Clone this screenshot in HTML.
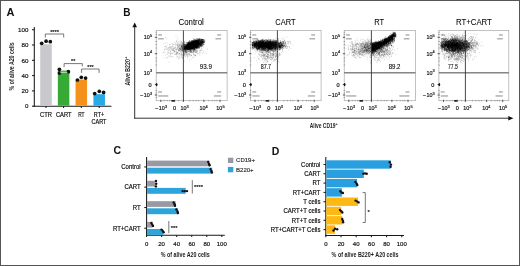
<!DOCTYPE html>
<html><head><meta charset="utf-8"><style>
html,body{margin:0;padding:0;background:#fff;overflow:hidden;}
svg{display:block;will-change:transform;}
text{font-family:"Liberation Sans",sans-serif;}
</style></head><body>
<svg width="520" height="266" viewBox="0 0 520 266">
<rect x="0" y="0" width="520" height="266" fill="#fff"/>
<text x="6.60" y="15.50" font-size="11" text-anchor="start" font-weight="bold" fill="#111">A</text>
<line x1="34.30" y1="27.00" x2="34.30" y2="106.70" stroke="#181818" stroke-width="1.05"/>
<line x1="33.80" y1="106.20" x2="111.40" y2="106.20" stroke="#181818" stroke-width="1.05"/>
<line x1="32.00" y1="106.20" x2="34.30" y2="106.20" stroke="#181818" stroke-width="1.05"/>
<text x="28.40" y="108.40" font-size="6.2" text-anchor="end" stroke="#222" stroke-width="0.18">0</text>
<line x1="32.00" y1="90.90" x2="34.30" y2="90.90" stroke="#181818" stroke-width="1.05"/>
<text x="28.40" y="93.10" font-size="6.2" text-anchor="end" stroke="#222" stroke-width="0.18">20</text>
<line x1="32.00" y1="75.60" x2="34.30" y2="75.60" stroke="#181818" stroke-width="1.05"/>
<text x="28.40" y="77.80" font-size="6.2" text-anchor="end" stroke="#222" stroke-width="0.18">40</text>
<line x1="32.00" y1="60.30" x2="34.30" y2="60.30" stroke="#181818" stroke-width="1.05"/>
<text x="28.40" y="62.50" font-size="6.2" text-anchor="end" stroke="#222" stroke-width="0.18">60</text>
<line x1="32.00" y1="45.00" x2="34.30" y2="45.00" stroke="#181818" stroke-width="1.05"/>
<text x="28.40" y="47.20" font-size="6.2" text-anchor="end" stroke="#222" stroke-width="0.18">80</text>
<line x1="32.00" y1="29.70" x2="34.30" y2="29.70" stroke="#181818" stroke-width="1.05"/>
<text x="28.40" y="31.90" font-size="6.2" text-anchor="end" stroke="#222" stroke-width="0.18">100</text>
<text transform="translate(14.0,66.4) rotate(-90)" font-size="6.6" font-weight="bold" text-anchor="middle" fill="#222" textLength="48" lengthAdjust="spacingAndGlyphs">% of alive A20 cells</text>
<rect x="40.25" y="44.30" width="11.50" height="61.40" fill="#c8c8cd"/>
<line x1="46.00" y1="106.20" x2="46.00" y2="108.00" stroke="#181818" stroke-width="1.05"/>
<rect x="57.85" y="70.60" width="11.50" height="35.10" fill="#36aa35"/>
<line x1="63.60" y1="106.20" x2="63.60" y2="108.00" stroke="#181818" stroke-width="1.05"/>
<rect x="75.55" y="79.60" width="11.50" height="26.10" fill="#f5911a"/>
<line x1="81.30" y1="106.20" x2="81.30" y2="108.00" stroke="#181818" stroke-width="1.05"/>
<rect x="93.45" y="94.20" width="11.50" height="11.50" fill="#28aae6"/>
<line x1="99.20" y1="106.20" x2="99.20" y2="108.00" stroke="#181818" stroke-width="1.05"/>
<text x="46.00" y="117.10" font-size="6.6" text-anchor="middle" textLength="12.0" lengthAdjust="spacingAndGlyphs" stroke="#222" stroke-width="0.18">CTR</text>
<text x="63.75" y="117.10" font-size="6.6" text-anchor="middle" textLength="15.6" lengthAdjust="spacingAndGlyphs" stroke="#222" stroke-width="0.18">CART</text>
<text x="81.30" y="117.10" font-size="6.6" text-anchor="middle" textLength="6.3" lengthAdjust="spacingAndGlyphs" stroke="#222" stroke-width="0.18">RT</text>
<text x="99.00" y="117.10" font-size="6.6" text-anchor="middle" textLength="10.3" lengthAdjust="spacingAndGlyphs" stroke="#222" stroke-width="0.18">RT+</text>
<text x="99.00" y="124.30" font-size="6.6" text-anchor="middle" textLength="15.0" lengthAdjust="spacingAndGlyphs" stroke="#222" stroke-width="0.18">CART</text>
<circle cx="41.70" cy="43.30" r="1.85" fill="#111"/>
<circle cx="46.10" cy="41.20" r="1.85" fill="#111"/>
<circle cx="50.30" cy="41.70" r="1.85" fill="#111"/>
<circle cx="59.40" cy="69.30" r="1.85" fill="#111"/>
<circle cx="59.40" cy="73.10" r="1.85" fill="#111"/>
<circle cx="68.40" cy="71.70" r="1.85" fill="#111"/>
<circle cx="77.40" cy="80.00" r="1.85" fill="#111"/>
<circle cx="81.30" cy="77.30" r="1.85" fill="#111"/>
<circle cx="85.60" cy="78.10" r="1.85" fill="#111"/>
<circle cx="94.70" cy="93.60" r="1.85" fill="#111"/>
<circle cx="99.30" cy="91.30" r="1.85" fill="#111"/>
<circle cx="103.60" cy="92.40" r="1.85" fill="#111"/>
<line x1="60.20" y1="72.30" x2="67.40" y2="72.30" stroke="#e8f5e0" stroke-width="0.8"/>
<path d="M45.30,37.50 V34.00 H63.70 V37.50" fill="none" stroke="#555" stroke-width="0.8"/>
<text x="54.60" y="33.80" font-size="5.7" text-anchor="middle" stroke="#222" stroke-width="0.18">****</text>
<path d="M64.10,67.10 V63.60 H82.30 V66.40" fill="none" stroke="#555" stroke-width="0.8"/>
<text x="73.20" y="63.40" font-size="5.5" text-anchor="middle" stroke="#222" stroke-width="0.18">**</text>
<path d="M81.60,72.90 V69.00 H99.10 V72.90" fill="none" stroke="#555" stroke-width="0.8"/>
<text x="90.50" y="68.70" font-size="5.5" text-anchor="middle" stroke="#222" stroke-width="0.18">***</text>
<text x="123.30" y="15.50" font-size="10" text-anchor="start" font-weight="bold" fill="#111">B</text>
<line x1="134.70" y1="26.50" x2="134.70" y2="118.70" stroke="#333" stroke-width="1"/>
<path d="M132.4,27.2 L134.7,22.5 L137.0,27.2 Z" fill="#111"/>
<line x1="134.20" y1="118.20" x2="509.00" y2="118.20" stroke="#333" stroke-width="1"/>
<path d="M508.3,116.0 L513.4,118.2 L508.3,120.4 Z" fill="#111"/>
<text transform="translate(130.3,85.6) rotate(-90)" font-size="7.2" font-weight="bold" fill="#222" textLength="26.4" lengthAdjust="spacingAndGlyphs">Alive B220</text>
<text transform="translate(130.3,85.6) rotate(-90)" x="26.6" y="-3.0" font-size="4" font-weight="bold" fill="#222">+</text>
<text x="309.8" y="127.8" font-size="7.2" font-weight="bold" fill="#222" textLength="25.6" lengthAdjust="spacingAndGlyphs">Alive CD19</text>
<text x="335.5" y="125.0" font-size="4" font-weight="bold" fill="#222">+</text>
<rect x="156.20" y="30.40" width="70.90" height="70.30" fill="none" stroke="#a8a8a8" stroke-width="0.7"/>
<text x="191.20" y="25.20" font-size="8.2" text-anchor="middle" textLength="25.3" lengthAdjust="spacingAndGlyphs" stroke="#222" stroke-width="0.05">Control</text>
<text x="143.80" y="39.10" font-size="5.9" text-anchor="start" fill="#111" textLength="6.0" lengthAdjust="spacingAndGlyphs" stroke="#111" stroke-width="0.18">10</text>
<text x="149.90" y="36.50" font-size="3.9" text-anchor="start" stroke="#222" stroke-width="0.18">5</text>
<text x="143.80" y="55.90" font-size="5.9" text-anchor="start" fill="#111" textLength="6.0" lengthAdjust="spacingAndGlyphs" stroke="#111" stroke-width="0.18">10</text>
<text x="149.90" y="53.30" font-size="3.9" text-anchor="start" stroke="#222" stroke-width="0.18">4</text>
<text x="143.80" y="74.80" font-size="5.9" text-anchor="start" fill="#111" textLength="6.0" lengthAdjust="spacingAndGlyphs" stroke="#111" stroke-width="0.18">10</text>
<text x="149.90" y="72.20" font-size="3.9" text-anchor="start" stroke="#222" stroke-width="0.18">3</text>
<text x="151.60" y="86.90" font-size="5.6" text-anchor="end" stroke="#222" stroke-width="0.18">0</text>
<text x="143.40" y="97.10" font-size="5.9" text-anchor="end" stroke="#222" stroke-width="0.18">−</text>
<text x="143.80" y="97.10" font-size="5.9" text-anchor="start" fill="#111" textLength="6.0" lengthAdjust="spacingAndGlyphs" stroke="#111" stroke-width="0.18">10</text>
<text x="149.90" y="94.50" font-size="3.9" text-anchor="start" stroke="#222" stroke-width="0.18">3</text>
<text x="158.40" y="110.20" font-size="5.9" text-anchor="end" stroke="#222" stroke-width="0.18">−</text>
<text x="158.80" y="110.20" font-size="5.9" text-anchor="start" fill="#111" textLength="6.0" lengthAdjust="spacingAndGlyphs" stroke="#111" stroke-width="0.18">10</text>
<text x="164.90" y="107.60" font-size="3.9" text-anchor="start" stroke="#222" stroke-width="0.18">3</text>
<text x="174.50" y="110.20" font-size="5.6" text-anchor="middle" stroke="#222" stroke-width="0.18">0</text>
<text x="180.50" y="110.20" font-size="5.9" text-anchor="start" fill="#111" textLength="6.0" lengthAdjust="spacingAndGlyphs" stroke="#111" stroke-width="0.18">10</text>
<text x="186.60" y="107.60" font-size="3.9" text-anchor="start" stroke="#222" stroke-width="0.18">3</text>
<text x="199.50" y="110.20" font-size="5.9" text-anchor="start" fill="#111" textLength="6.0" lengthAdjust="spacingAndGlyphs" stroke="#111" stroke-width="0.18">10</text>
<text x="205.60" y="107.60" font-size="3.9" text-anchor="start" stroke="#222" stroke-width="0.18">4</text>
<text x="216.30" y="110.20" font-size="5.9" text-anchor="start" fill="#111" textLength="6.0" lengthAdjust="spacingAndGlyphs" stroke="#111" stroke-width="0.18">10</text>
<text x="222.40" y="107.60" font-size="3.9" text-anchor="start" stroke="#222" stroke-width="0.18">5</text>
<line x1="154.80" y1="37.30" x2="157.20" y2="37.30" stroke="#333" stroke-width="0.8"/>
<line x1="154.80" y1="53.70" x2="157.20" y2="53.70" stroke="#333" stroke-width="0.8"/>
<line x1="154.80" y1="84.50" x2="157.20" y2="84.50" stroke="#333" stroke-width="0.8"/>
<line x1="154.80" y1="95.00" x2="157.20" y2="95.00" stroke="#333" stroke-width="0.8"/>
<line x1="155.60" y1="32.30" x2="157.10" y2="32.30" stroke="#666" stroke-width="0.5"/>
<line x1="155.60" y1="34.50" x2="157.10" y2="34.50" stroke="#666" stroke-width="0.5"/>
<line x1="155.60" y1="41.50" x2="157.10" y2="41.50" stroke="#666" stroke-width="0.5"/>
<line x1="155.60" y1="44.50" x2="157.10" y2="44.50" stroke="#666" stroke-width="0.5"/>
<line x1="155.60" y1="48.00" x2="157.10" y2="48.00" stroke="#666" stroke-width="0.5"/>
<line x1="155.60" y1="58.00" x2="157.10" y2="58.00" stroke="#666" stroke-width="0.5"/>
<line x1="155.60" y1="61.00" x2="157.10" y2="61.00" stroke="#666" stroke-width="0.5"/>
<line x1="155.60" y1="65.00" x2="157.10" y2="65.00" stroke="#666" stroke-width="0.5"/>
<line x1="155.60" y1="90.50" x2="157.10" y2="90.50" stroke="#666" stroke-width="0.5"/>
<line x1="155.60" y1="93.00" x2="157.10" y2="93.00" stroke="#666" stroke-width="0.5"/>
<line x1="155.60" y1="97.50" x2="157.10" y2="97.50" stroke="#666" stroke-width="0.5"/>
<line x1="160.80" y1="99.70" x2="160.80" y2="102.00" stroke="#333" stroke-width="0.8"/>
<line x1="174.60" y1="99.70" x2="174.60" y2="102.00" stroke="#333" stroke-width="0.8"/>
<line x1="183.40" y1="99.70" x2="183.40" y2="102.00" stroke="#333" stroke-width="0.8"/>
<line x1="203.90" y1="99.70" x2="203.90" y2="102.00" stroke="#333" stroke-width="0.8"/>
<line x1="220.00" y1="99.70" x2="220.00" y2="102.00" stroke="#333" stroke-width="0.8"/>
<line x1="164.20" y1="99.90" x2="164.20" y2="101.30" stroke="#666" stroke-width="0.5"/>
<line x1="167.20" y1="99.90" x2="167.20" y2="101.30" stroke="#666" stroke-width="0.5"/>
<line x1="169.70" y1="99.90" x2="169.70" y2="101.30" stroke="#666" stroke-width="0.5"/>
<line x1="178.70" y1="99.90" x2="178.70" y2="101.30" stroke="#666" stroke-width="0.5"/>
<line x1="189.70" y1="99.90" x2="189.70" y2="101.30" stroke="#666" stroke-width="0.5"/>
<line x1="193.20" y1="99.90" x2="193.20" y2="101.30" stroke="#666" stroke-width="0.5"/>
<line x1="196.20" y1="99.90" x2="196.20" y2="101.30" stroke="#666" stroke-width="0.5"/>
<line x1="198.70" y1="99.90" x2="198.70" y2="101.30" stroke="#666" stroke-width="0.5"/>
<line x1="208.70" y1="99.90" x2="208.70" y2="101.30" stroke="#666" stroke-width="0.5"/>
<line x1="212.20" y1="99.90" x2="212.20" y2="101.30" stroke="#666" stroke-width="0.5"/>
<line x1="214.70" y1="99.90" x2="214.70" y2="101.30" stroke="#666" stroke-width="0.5"/>
<line x1="216.70" y1="99.90" x2="216.70" y2="101.30" stroke="#666" stroke-width="0.5"/>
<ellipse cx="156.60" cy="84.6" rx="0.9" ry="1.6" fill="#111"/>
<ellipse cx="172.90" cy="100.90" rx="1.8" ry="0.8" fill="#111"/>
<rect x="158.10" y="34.20" width="3.87" height="1.5" fill="#666" fill-opacity="0.5"/>
<rect x="158.10" y="38.00" width="5.64" height="1.5" fill="#666" fill-opacity="0.5"/>
<rect x="217.23" y="34.20" width="3.87" height="1.5" fill="#666" fill-opacity="0.5"/>
<rect x="215.46" y="38.00" width="5.64" height="1.5" fill="#666" fill-opacity="0.5"/>
<rect x="158.10" y="91.20" width="3.87" height="1.5" fill="#666" fill-opacity="0.5"/>
<rect x="158.10" y="95.20" width="10.16" height="1.5" fill="#666" fill-opacity="0.5"/>
<rect x="217.23" y="91.20" width="3.87" height="1.5" fill="#666" fill-opacity="0.5"/>
<rect x="213.84" y="95.20" width="7.26" height="1.5" fill="#666" fill-opacity="0.5"/>
<text x="199.80" y="68.70" font-size="6.3" text-anchor="start" textLength="12.2" lengthAdjust="spacingAndGlyphs" stroke="#222" stroke-width="0.1">93.9</text>
<rect x="250.40" y="30.40" width="70.70" height="70.30" fill="none" stroke="#a8a8a8" stroke-width="0.7"/>
<text x="285.40" y="25.20" font-size="8.2" text-anchor="middle" textLength="20.2" lengthAdjust="spacingAndGlyphs" stroke="#222" stroke-width="0.05">CART</text>
<text x="238.00" y="39.10" font-size="5.9" text-anchor="start" fill="#111" textLength="6.0" lengthAdjust="spacingAndGlyphs" stroke="#111" stroke-width="0.18">10</text>
<text x="244.10" y="36.50" font-size="3.9" text-anchor="start" stroke="#222" stroke-width="0.18">5</text>
<text x="238.00" y="55.90" font-size="5.9" text-anchor="start" fill="#111" textLength="6.0" lengthAdjust="spacingAndGlyphs" stroke="#111" stroke-width="0.18">10</text>
<text x="244.10" y="53.30" font-size="3.9" text-anchor="start" stroke="#222" stroke-width="0.18">4</text>
<text x="238.00" y="74.80" font-size="5.9" text-anchor="start" fill="#111" textLength="6.0" lengthAdjust="spacingAndGlyphs" stroke="#111" stroke-width="0.18">10</text>
<text x="244.10" y="72.20" font-size="3.9" text-anchor="start" stroke="#222" stroke-width="0.18">3</text>
<text x="245.80" y="86.90" font-size="5.6" text-anchor="end" stroke="#222" stroke-width="0.18">0</text>
<text x="237.60" y="97.10" font-size="5.9" text-anchor="end" stroke="#222" stroke-width="0.18">−</text>
<text x="238.00" y="97.10" font-size="5.9" text-anchor="start" fill="#111" textLength="6.0" lengthAdjust="spacingAndGlyphs" stroke="#111" stroke-width="0.18">10</text>
<text x="244.10" y="94.50" font-size="3.9" text-anchor="start" stroke="#222" stroke-width="0.18">3</text>
<text x="252.60" y="110.20" font-size="5.9" text-anchor="end" stroke="#222" stroke-width="0.18">−</text>
<text x="253.00" y="110.20" font-size="5.9" text-anchor="start" fill="#111" textLength="6.0" lengthAdjust="spacingAndGlyphs" stroke="#111" stroke-width="0.18">10</text>
<text x="259.10" y="107.60" font-size="3.9" text-anchor="start" stroke="#222" stroke-width="0.18">3</text>
<text x="268.70" y="110.20" font-size="5.6" text-anchor="middle" stroke="#222" stroke-width="0.18">0</text>
<text x="274.70" y="110.20" font-size="5.9" text-anchor="start" fill="#111" textLength="6.0" lengthAdjust="spacingAndGlyphs" stroke="#111" stroke-width="0.18">10</text>
<text x="280.80" y="107.60" font-size="3.9" text-anchor="start" stroke="#222" stroke-width="0.18">3</text>
<text x="293.70" y="110.20" font-size="5.9" text-anchor="start" fill="#111" textLength="6.0" lengthAdjust="spacingAndGlyphs" stroke="#111" stroke-width="0.18">10</text>
<text x="299.80" y="107.60" font-size="3.9" text-anchor="start" stroke="#222" stroke-width="0.18">4</text>
<text x="310.50" y="110.20" font-size="5.9" text-anchor="start" fill="#111" textLength="6.0" lengthAdjust="spacingAndGlyphs" stroke="#111" stroke-width="0.18">10</text>
<text x="316.60" y="107.60" font-size="3.9" text-anchor="start" stroke="#222" stroke-width="0.18">5</text>
<line x1="249.00" y1="37.30" x2="251.40" y2="37.30" stroke="#333" stroke-width="0.8"/>
<line x1="249.00" y1="53.70" x2="251.40" y2="53.70" stroke="#333" stroke-width="0.8"/>
<line x1="249.00" y1="84.50" x2="251.40" y2="84.50" stroke="#333" stroke-width="0.8"/>
<line x1="249.00" y1="95.00" x2="251.40" y2="95.00" stroke="#333" stroke-width="0.8"/>
<line x1="249.80" y1="32.30" x2="251.30" y2="32.30" stroke="#666" stroke-width="0.5"/>
<line x1="249.80" y1="34.50" x2="251.30" y2="34.50" stroke="#666" stroke-width="0.5"/>
<line x1="249.80" y1="41.50" x2="251.30" y2="41.50" stroke="#666" stroke-width="0.5"/>
<line x1="249.80" y1="44.50" x2="251.30" y2="44.50" stroke="#666" stroke-width="0.5"/>
<line x1="249.80" y1="48.00" x2="251.30" y2="48.00" stroke="#666" stroke-width="0.5"/>
<line x1="249.80" y1="58.00" x2="251.30" y2="58.00" stroke="#666" stroke-width="0.5"/>
<line x1="249.80" y1="61.00" x2="251.30" y2="61.00" stroke="#666" stroke-width="0.5"/>
<line x1="249.80" y1="65.00" x2="251.30" y2="65.00" stroke="#666" stroke-width="0.5"/>
<line x1="249.80" y1="90.50" x2="251.30" y2="90.50" stroke="#666" stroke-width="0.5"/>
<line x1="249.80" y1="93.00" x2="251.30" y2="93.00" stroke="#666" stroke-width="0.5"/>
<line x1="249.80" y1="97.50" x2="251.30" y2="97.50" stroke="#666" stroke-width="0.5"/>
<line x1="255.00" y1="99.70" x2="255.00" y2="102.00" stroke="#333" stroke-width="0.8"/>
<line x1="268.80" y1="99.70" x2="268.80" y2="102.00" stroke="#333" stroke-width="0.8"/>
<line x1="277.40" y1="99.70" x2="277.40" y2="102.00" stroke="#333" stroke-width="0.8"/>
<line x1="298.10" y1="99.70" x2="298.10" y2="102.00" stroke="#333" stroke-width="0.8"/>
<line x1="314.20" y1="99.70" x2="314.20" y2="102.00" stroke="#333" stroke-width="0.8"/>
<line x1="258.40" y1="99.90" x2="258.40" y2="101.30" stroke="#666" stroke-width="0.5"/>
<line x1="261.40" y1="99.90" x2="261.40" y2="101.30" stroke="#666" stroke-width="0.5"/>
<line x1="263.90" y1="99.90" x2="263.90" y2="101.30" stroke="#666" stroke-width="0.5"/>
<line x1="272.90" y1="99.90" x2="272.90" y2="101.30" stroke="#666" stroke-width="0.5"/>
<line x1="283.90" y1="99.90" x2="283.90" y2="101.30" stroke="#666" stroke-width="0.5"/>
<line x1="287.40" y1="99.90" x2="287.40" y2="101.30" stroke="#666" stroke-width="0.5"/>
<line x1="290.40" y1="99.90" x2="290.40" y2="101.30" stroke="#666" stroke-width="0.5"/>
<line x1="292.90" y1="99.90" x2="292.90" y2="101.30" stroke="#666" stroke-width="0.5"/>
<line x1="302.90" y1="99.90" x2="302.90" y2="101.30" stroke="#666" stroke-width="0.5"/>
<line x1="306.40" y1="99.90" x2="306.40" y2="101.30" stroke="#666" stroke-width="0.5"/>
<line x1="308.90" y1="99.90" x2="308.90" y2="101.30" stroke="#666" stroke-width="0.5"/>
<line x1="310.90" y1="99.90" x2="310.90" y2="101.30" stroke="#666" stroke-width="0.5"/>
<ellipse cx="250.80" cy="84.6" rx="0.9" ry="1.6" fill="#111"/>
<ellipse cx="267.10" cy="100.90" rx="1.8" ry="0.8" fill="#111"/>
<rect x="252.30" y="34.20" width="3.87" height="1.5" fill="#666" fill-opacity="0.5"/>
<rect x="252.30" y="38.00" width="5.64" height="1.5" fill="#666" fill-opacity="0.5"/>
<rect x="311.23" y="34.20" width="3.87" height="1.5" fill="#666" fill-opacity="0.5"/>
<rect x="309.46" y="38.00" width="5.64" height="1.5" fill="#666" fill-opacity="0.5"/>
<rect x="252.30" y="91.20" width="3.87" height="1.5" fill="#666" fill-opacity="0.5"/>
<rect x="252.30" y="95.20" width="7.26" height="1.5" fill="#666" fill-opacity="0.5"/>
<rect x="311.23" y="91.20" width="3.87" height="1.5" fill="#666" fill-opacity="0.5"/>
<rect x="307.84" y="95.20" width="7.26" height="1.5" fill="#666" fill-opacity="0.5"/>
<text x="260.70" y="68.70" font-size="6.3" text-anchor="start" textLength="10.4" lengthAdjust="spacingAndGlyphs" stroke="#222" stroke-width="0.1">87.7</text>
<rect x="344.20" y="30.40" width="71.20" height="70.30" fill="none" stroke="#a8a8a8" stroke-width="0.7"/>
<text x="379.20" y="25.20" font-size="8.2" text-anchor="middle" textLength="9.9" lengthAdjust="spacingAndGlyphs" stroke="#222" stroke-width="0.05">RT</text>
<text x="331.80" y="39.10" font-size="5.9" text-anchor="start" fill="#111" textLength="6.0" lengthAdjust="spacingAndGlyphs" stroke="#111" stroke-width="0.18">10</text>
<text x="337.90" y="36.50" font-size="3.9" text-anchor="start" stroke="#222" stroke-width="0.18">5</text>
<text x="331.80" y="55.90" font-size="5.9" text-anchor="start" fill="#111" textLength="6.0" lengthAdjust="spacingAndGlyphs" stroke="#111" stroke-width="0.18">10</text>
<text x="337.90" y="53.30" font-size="3.9" text-anchor="start" stroke="#222" stroke-width="0.18">4</text>
<text x="331.80" y="74.80" font-size="5.9" text-anchor="start" fill="#111" textLength="6.0" lengthAdjust="spacingAndGlyphs" stroke="#111" stroke-width="0.18">10</text>
<text x="337.90" y="72.20" font-size="3.9" text-anchor="start" stroke="#222" stroke-width="0.18">3</text>
<text x="339.60" y="86.90" font-size="5.6" text-anchor="end" stroke="#222" stroke-width="0.18">0</text>
<text x="331.40" y="97.10" font-size="5.9" text-anchor="end" stroke="#222" stroke-width="0.18">−</text>
<text x="331.80" y="97.10" font-size="5.9" text-anchor="start" fill="#111" textLength="6.0" lengthAdjust="spacingAndGlyphs" stroke="#111" stroke-width="0.18">10</text>
<text x="337.90" y="94.50" font-size="3.9" text-anchor="start" stroke="#222" stroke-width="0.18">3</text>
<text x="346.40" y="110.20" font-size="5.9" text-anchor="end" stroke="#222" stroke-width="0.18">−</text>
<text x="346.80" y="110.20" font-size="5.9" text-anchor="start" fill="#111" textLength="6.0" lengthAdjust="spacingAndGlyphs" stroke="#111" stroke-width="0.18">10</text>
<text x="352.90" y="107.60" font-size="3.9" text-anchor="start" stroke="#222" stroke-width="0.18">3</text>
<text x="362.50" y="110.20" font-size="5.6" text-anchor="middle" stroke="#222" stroke-width="0.18">0</text>
<text x="368.50" y="110.20" font-size="5.9" text-anchor="start" fill="#111" textLength="6.0" lengthAdjust="spacingAndGlyphs" stroke="#111" stroke-width="0.18">10</text>
<text x="374.60" y="107.60" font-size="3.9" text-anchor="start" stroke="#222" stroke-width="0.18">3</text>
<text x="387.50" y="110.20" font-size="5.9" text-anchor="start" fill="#111" textLength="6.0" lengthAdjust="spacingAndGlyphs" stroke="#111" stroke-width="0.18">10</text>
<text x="393.60" y="107.60" font-size="3.9" text-anchor="start" stroke="#222" stroke-width="0.18">4</text>
<text x="404.30" y="110.20" font-size="5.9" text-anchor="start" fill="#111" textLength="6.0" lengthAdjust="spacingAndGlyphs" stroke="#111" stroke-width="0.18">10</text>
<text x="410.40" y="107.60" font-size="3.9" text-anchor="start" stroke="#222" stroke-width="0.18">5</text>
<line x1="342.80" y1="37.30" x2="345.20" y2="37.30" stroke="#333" stroke-width="0.8"/>
<line x1="342.80" y1="53.70" x2="345.20" y2="53.70" stroke="#333" stroke-width="0.8"/>
<line x1="342.80" y1="84.50" x2="345.20" y2="84.50" stroke="#333" stroke-width="0.8"/>
<line x1="342.80" y1="95.00" x2="345.20" y2="95.00" stroke="#333" stroke-width="0.8"/>
<line x1="343.60" y1="32.30" x2="345.10" y2="32.30" stroke="#666" stroke-width="0.5"/>
<line x1="343.60" y1="34.50" x2="345.10" y2="34.50" stroke="#666" stroke-width="0.5"/>
<line x1="343.60" y1="41.50" x2="345.10" y2="41.50" stroke="#666" stroke-width="0.5"/>
<line x1="343.60" y1="44.50" x2="345.10" y2="44.50" stroke="#666" stroke-width="0.5"/>
<line x1="343.60" y1="48.00" x2="345.10" y2="48.00" stroke="#666" stroke-width="0.5"/>
<line x1="343.60" y1="58.00" x2="345.10" y2="58.00" stroke="#666" stroke-width="0.5"/>
<line x1="343.60" y1="61.00" x2="345.10" y2="61.00" stroke="#666" stroke-width="0.5"/>
<line x1="343.60" y1="65.00" x2="345.10" y2="65.00" stroke="#666" stroke-width="0.5"/>
<line x1="343.60" y1="90.50" x2="345.10" y2="90.50" stroke="#666" stroke-width="0.5"/>
<line x1="343.60" y1="93.00" x2="345.10" y2="93.00" stroke="#666" stroke-width="0.5"/>
<line x1="343.60" y1="97.50" x2="345.10" y2="97.50" stroke="#666" stroke-width="0.5"/>
<line x1="348.80" y1="99.70" x2="348.80" y2="102.00" stroke="#333" stroke-width="0.8"/>
<line x1="362.60" y1="99.70" x2="362.60" y2="102.00" stroke="#333" stroke-width="0.8"/>
<line x1="371.40" y1="99.70" x2="371.40" y2="102.00" stroke="#333" stroke-width="0.8"/>
<line x1="391.90" y1="99.70" x2="391.90" y2="102.00" stroke="#333" stroke-width="0.8"/>
<line x1="408.00" y1="99.70" x2="408.00" y2="102.00" stroke="#333" stroke-width="0.8"/>
<line x1="352.20" y1="99.90" x2="352.20" y2="101.30" stroke="#666" stroke-width="0.5"/>
<line x1="355.20" y1="99.90" x2="355.20" y2="101.30" stroke="#666" stroke-width="0.5"/>
<line x1="357.70" y1="99.90" x2="357.70" y2="101.30" stroke="#666" stroke-width="0.5"/>
<line x1="366.70" y1="99.90" x2="366.70" y2="101.30" stroke="#666" stroke-width="0.5"/>
<line x1="377.70" y1="99.90" x2="377.70" y2="101.30" stroke="#666" stroke-width="0.5"/>
<line x1="381.20" y1="99.90" x2="381.20" y2="101.30" stroke="#666" stroke-width="0.5"/>
<line x1="384.20" y1="99.90" x2="384.20" y2="101.30" stroke="#666" stroke-width="0.5"/>
<line x1="386.70" y1="99.90" x2="386.70" y2="101.30" stroke="#666" stroke-width="0.5"/>
<line x1="396.70" y1="99.90" x2="396.70" y2="101.30" stroke="#666" stroke-width="0.5"/>
<line x1="400.20" y1="99.90" x2="400.20" y2="101.30" stroke="#666" stroke-width="0.5"/>
<line x1="402.70" y1="99.90" x2="402.70" y2="101.30" stroke="#666" stroke-width="0.5"/>
<line x1="404.70" y1="99.90" x2="404.70" y2="101.30" stroke="#666" stroke-width="0.5"/>
<ellipse cx="344.60" cy="84.6" rx="0.9" ry="1.6" fill="#111"/>
<ellipse cx="360.90" cy="100.90" rx="1.8" ry="0.8" fill="#111"/>
<rect x="346.10" y="34.20" width="3.87" height="1.5" fill="#666" fill-opacity="0.5"/>
<rect x="346.10" y="38.00" width="5.64" height="1.5" fill="#666" fill-opacity="0.5"/>
<rect x="405.53" y="34.20" width="3.87" height="1.5" fill="#666" fill-opacity="0.5"/>
<rect x="403.76" y="38.00" width="5.64" height="1.5" fill="#666" fill-opacity="0.5"/>
<rect x="346.10" y="91.20" width="3.87" height="1.5" fill="#666" fill-opacity="0.5"/>
<rect x="346.10" y="95.20" width="10.16" height="1.5" fill="#666" fill-opacity="0.5"/>
<rect x="405.53" y="91.20" width="3.87" height="1.5" fill="#666" fill-opacity="0.5"/>
<rect x="399.24" y="95.20" width="10.16" height="1.5" fill="#666" fill-opacity="0.5"/>
<text x="388.70" y="68.70" font-size="6.3" text-anchor="start" textLength="11.8" lengthAdjust="spacingAndGlyphs" stroke="#222" stroke-width="0.1">89.2</text>
<rect x="438.90" y="30.40" width="69.90" height="70.30" fill="none" stroke="#a8a8a8" stroke-width="0.7"/>
<text x="473.90" y="25.20" font-size="8.2" text-anchor="middle" textLength="35.8" lengthAdjust="spacingAndGlyphs" stroke="#222" stroke-width="0.05">RT+CART</text>
<text x="426.50" y="39.10" font-size="5.9" text-anchor="start" fill="#111" textLength="6.0" lengthAdjust="spacingAndGlyphs" stroke="#111" stroke-width="0.18">10</text>
<text x="432.60" y="36.50" font-size="3.9" text-anchor="start" stroke="#222" stroke-width="0.18">5</text>
<text x="426.50" y="55.90" font-size="5.9" text-anchor="start" fill="#111" textLength="6.0" lengthAdjust="spacingAndGlyphs" stroke="#111" stroke-width="0.18">10</text>
<text x="432.60" y="53.30" font-size="3.9" text-anchor="start" stroke="#222" stroke-width="0.18">4</text>
<text x="426.50" y="74.80" font-size="5.9" text-anchor="start" fill="#111" textLength="6.0" lengthAdjust="spacingAndGlyphs" stroke="#111" stroke-width="0.18">10</text>
<text x="432.60" y="72.20" font-size="3.9" text-anchor="start" stroke="#222" stroke-width="0.18">3</text>
<text x="434.30" y="86.90" font-size="5.6" text-anchor="end" stroke="#222" stroke-width="0.18">0</text>
<text x="426.10" y="97.10" font-size="5.9" text-anchor="end" stroke="#222" stroke-width="0.18">−</text>
<text x="426.50" y="97.10" font-size="5.9" text-anchor="start" fill="#111" textLength="6.0" lengthAdjust="spacingAndGlyphs" stroke="#111" stroke-width="0.18">10</text>
<text x="432.60" y="94.50" font-size="3.9" text-anchor="start" stroke="#222" stroke-width="0.18">3</text>
<text x="441.10" y="110.20" font-size="5.9" text-anchor="end" stroke="#222" stroke-width="0.18">−</text>
<text x="441.50" y="110.20" font-size="5.9" text-anchor="start" fill="#111" textLength="6.0" lengthAdjust="spacingAndGlyphs" stroke="#111" stroke-width="0.18">10</text>
<text x="447.60" y="107.60" font-size="3.9" text-anchor="start" stroke="#222" stroke-width="0.18">3</text>
<text x="457.20" y="110.20" font-size="5.6" text-anchor="middle" stroke="#222" stroke-width="0.18">0</text>
<text x="463.20" y="110.20" font-size="5.9" text-anchor="start" fill="#111" textLength="6.0" lengthAdjust="spacingAndGlyphs" stroke="#111" stroke-width="0.18">10</text>
<text x="469.30" y="107.60" font-size="3.9" text-anchor="start" stroke="#222" stroke-width="0.18">3</text>
<text x="482.20" y="110.20" font-size="5.9" text-anchor="start" fill="#111" textLength="6.0" lengthAdjust="spacingAndGlyphs" stroke="#111" stroke-width="0.18">10</text>
<text x="488.30" y="107.60" font-size="3.9" text-anchor="start" stroke="#222" stroke-width="0.18">4</text>
<text x="499.00" y="110.20" font-size="5.9" text-anchor="start" fill="#111" textLength="6.0" lengthAdjust="spacingAndGlyphs" stroke="#111" stroke-width="0.18">10</text>
<text x="505.10" y="107.60" font-size="3.9" text-anchor="start" stroke="#222" stroke-width="0.18">5</text>
<line x1="437.50" y1="37.30" x2="439.90" y2="37.30" stroke="#333" stroke-width="0.8"/>
<line x1="437.50" y1="53.70" x2="439.90" y2="53.70" stroke="#333" stroke-width="0.8"/>
<line x1="437.50" y1="84.50" x2="439.90" y2="84.50" stroke="#333" stroke-width="0.8"/>
<line x1="437.50" y1="95.00" x2="439.90" y2="95.00" stroke="#333" stroke-width="0.8"/>
<line x1="438.30" y1="32.30" x2="439.80" y2="32.30" stroke="#666" stroke-width="0.5"/>
<line x1="438.30" y1="34.50" x2="439.80" y2="34.50" stroke="#666" stroke-width="0.5"/>
<line x1="438.30" y1="41.50" x2="439.80" y2="41.50" stroke="#666" stroke-width="0.5"/>
<line x1="438.30" y1="44.50" x2="439.80" y2="44.50" stroke="#666" stroke-width="0.5"/>
<line x1="438.30" y1="48.00" x2="439.80" y2="48.00" stroke="#666" stroke-width="0.5"/>
<line x1="438.30" y1="58.00" x2="439.80" y2="58.00" stroke="#666" stroke-width="0.5"/>
<line x1="438.30" y1="61.00" x2="439.80" y2="61.00" stroke="#666" stroke-width="0.5"/>
<line x1="438.30" y1="65.00" x2="439.80" y2="65.00" stroke="#666" stroke-width="0.5"/>
<line x1="438.30" y1="90.50" x2="439.80" y2="90.50" stroke="#666" stroke-width="0.5"/>
<line x1="438.30" y1="93.00" x2="439.80" y2="93.00" stroke="#666" stroke-width="0.5"/>
<line x1="438.30" y1="97.50" x2="439.80" y2="97.50" stroke="#666" stroke-width="0.5"/>
<line x1="443.50" y1="99.70" x2="443.50" y2="102.00" stroke="#333" stroke-width="0.8"/>
<line x1="457.30" y1="99.70" x2="457.30" y2="102.00" stroke="#333" stroke-width="0.8"/>
<line x1="465.40" y1="99.70" x2="465.40" y2="102.00" stroke="#333" stroke-width="0.8"/>
<line x1="486.60" y1="99.70" x2="486.60" y2="102.00" stroke="#333" stroke-width="0.8"/>
<line x1="502.70" y1="99.70" x2="502.70" y2="102.00" stroke="#333" stroke-width="0.8"/>
<line x1="446.90" y1="99.90" x2="446.90" y2="101.30" stroke="#666" stroke-width="0.5"/>
<line x1="449.90" y1="99.90" x2="449.90" y2="101.30" stroke="#666" stroke-width="0.5"/>
<line x1="452.40" y1="99.90" x2="452.40" y2="101.30" stroke="#666" stroke-width="0.5"/>
<line x1="461.40" y1="99.90" x2="461.40" y2="101.30" stroke="#666" stroke-width="0.5"/>
<line x1="472.40" y1="99.90" x2="472.40" y2="101.30" stroke="#666" stroke-width="0.5"/>
<line x1="475.90" y1="99.90" x2="475.90" y2="101.30" stroke="#666" stroke-width="0.5"/>
<line x1="478.90" y1="99.90" x2="478.90" y2="101.30" stroke="#666" stroke-width="0.5"/>
<line x1="481.40" y1="99.90" x2="481.40" y2="101.30" stroke="#666" stroke-width="0.5"/>
<line x1="491.40" y1="99.90" x2="491.40" y2="101.30" stroke="#666" stroke-width="0.5"/>
<line x1="494.90" y1="99.90" x2="494.90" y2="101.30" stroke="#666" stroke-width="0.5"/>
<line x1="497.40" y1="99.90" x2="497.40" y2="101.30" stroke="#666" stroke-width="0.5"/>
<line x1="499.40" y1="99.90" x2="499.40" y2="101.30" stroke="#666" stroke-width="0.5"/>
<ellipse cx="439.30" cy="84.6" rx="0.9" ry="1.6" fill="#111"/>
<ellipse cx="455.60" cy="100.90" rx="1.8" ry="0.8" fill="#111"/>
<rect x="440.80" y="34.20" width="3.87" height="1.5" fill="#666" fill-opacity="0.5"/>
<rect x="440.80" y="38.00" width="5.64" height="1.5" fill="#666" fill-opacity="0.5"/>
<rect x="498.93" y="34.20" width="3.87" height="1.5" fill="#666" fill-opacity="0.5"/>
<rect x="497.16" y="38.00" width="5.64" height="1.5" fill="#666" fill-opacity="0.5"/>
<rect x="440.80" y="91.20" width="3.87" height="1.5" fill="#666" fill-opacity="0.5"/>
<rect x="440.80" y="95.20" width="7.26" height="1.5" fill="#666" fill-opacity="0.5"/>
<rect x="498.93" y="91.20" width="3.87" height="1.5" fill="#666" fill-opacity="0.5"/>
<rect x="495.54" y="95.20" width="7.26" height="1.5" fill="#666" fill-opacity="0.5"/>
<text x="448.10" y="68.70" font-size="6.3" text-anchor="start" textLength="9.7" lengthAdjust="spacingAndGlyphs" stroke="#222" stroke-width="0.1">77.5</text>
<path d="M191.9 48.7h.8M199.6 44.8h.8M194.1 43.9h.8M190.6 43.4h.8M201.4 45.2h.8M190.6 48.2h.8M201.0 42.9h.8M201.5 39.4h.8M195.8 45.4h.8M196.1 41.4h.8M195.8 45.2h.8M194.2 41.4h.8M194.2 46.5h.8M197.3 41.6h.8M190.9 43.6h.8M203.8 42.4h.8M193.0 45.2h.8M192.0 50.4h.8M187.1 44.0h.8M189.8 43.3h.8M195.0 47.7h.8M189.0 47.7h.8M193.9 42.8h.8M191.4 46.8h.8M202.0 45.3h.8M192.2 41.3h.8M190.1 47.3h.8M188.8 41.3h.8M187.6 44.4h.8M194.0 45.9h.8M194.9 47.3h.8M201.6 42.3h.8M194.7 45.8h.8M186.9 49.4h.8M197.7 43.2h.8M194.6 46.6h.8M196.1 40.0h.8M191.0 46.0h.8M186.7 48.1h.8M197.7 41.9h.8M191.0 45.3h.8M203.3 41.0h.8M187.0 48.3h.8M193.8 46.6h.8M194.0 46.8h.8M201.8 40.6h.8M190.0 44.0h.8M196.3 42.2h.8M190.0 49.0h.8M192.4 42.4h.8M195.2 47.3h.8M184.8 46.1h.8M197.5 41.1h.8M197.6 40.5h.8M194.0 43.8h.8M192.9 45.0h.8M197.0 42.0h.8M194.3 41.1h.8M195.0 45.2h.8M194.2 47.7h.8M195.2 42.7h.8M203.8 41.4h.8M189.0 49.0h.8M191.4 45.6h.8M186.5 44.8h.8M197.7 48.2h.8M185.7 44.3h.8M190.2 43.6h.8M188.3 46.0h.8M193.5 41.3h.8M192.5 45.1h.8M190.3 47.9h.8M197.4 44.0h.8M200.3 42.7h.8M191.5 42.9h.8M189.3 45.8h.8M202.1 41.9h.8M201.1 41.1h.8M203.8 39.7h.8M188.1 47.4h.8M193.7 42.5h.8M188.0 43.3h.8M192.2 42.4h.8M198.8 40.8h.8M196.7 45.5h.8M203.1 44.1h.8M202.2 41.9h.8M190.0 43.8h.8M198.0 44.8h.8M200.9 39.6h.8M189.3 42.3h.8M188.7 47.8h.8M189.3 44.2h.8M195.6 44.2h.8M195.4 47.1h.8M197.5 41.6h.8M188.1 46.9h.8M197.1 44.7h.8M191.9 43.5h.8M188.5 46.4h.8M192.6 46.7h.8M196.1 40.9h.8M200.9 42.6h.8M187.0 44.0h.8M196.5 43.6h.8M187.4 45.0h.8M195.5 40.9h.8M187.9 47.6h.8M188.6 49.0h.8" stroke="#000" stroke-opacity="0.38" stroke-width="0.8"/>
<path d="M189.8 42.5h.8M189.5 43.6h.8M199.8 41.8h.8M195.1 45.7h.8M187.7 42.4h.8M193.6 48.0h.8M192.0 48.7h.8M193.7 47.8h.8M192.8 40.3h.8M192.6 42.6h.8M187.1 47.2h.8M200.1 41.5h.8M201.2 41.8h.8M188.5 46.0h.8M184.6 49.3h.8M185.1 48.2h.8M192.7 47.7h.8M193.3 44.8h.8M197.5 40.2h.8M203.3 41.7h.8M197.2 42.6h.8M193.6 47.0h.8M196.6 43.5h.8M186.2 47.1h.8M190.9 49.3h.8M191.1 46.6h.8M188.2 45.5h.8M198.1 46.5h.8M196.2 44.1h.8M193.3 42.5h.8M189.4 48.1h.8M201.2 41.0h.8M186.5 46.7h.8M190.2 42.5h.8M185.3 44.7h.8M195.8 47.4h.8M189.8 47.2h.8M188.6 43.8h.8M198.2 43.8h.8M195.3 40.5h.8M196.8 46.3h.8M200.4 40.7h.8M196.8 47.7h.8M185.8 46.1h.8M188.3 44.1h.8M192.3 41.4h.8M195.0 46.8h.8M188.2 49.1h.8M187.7 48.2h.8M187.8 46.9h.8M194.7 41.4h.8M188.6 44.4h.8M198.0 41.8h.8M194.7 47.0h.8M186.4 45.1h.8M192.3 46.5h.8M187.5 43.1h.8M199.9 43.7h.8M196.8 40.3h.8M201.7 43.1h.8M186.7 42.7h.8M196.7 43.9h.8M194.4 46.8h.8M195.6 42.0h.8M197.5 46.4h.8M187.5 45.9h.8M198.6 39.7h.8M190.9 47.5h.8M188.2 46.1h.8M195.0 40.5h.8M194.9 46.3h.8M196.2 42.1h.8M195.0 45.0h.8M194.6 43.5h.8M196.5 41.3h.8M193.3 47.9h.8M196.8 41.2h.8M190.3 45.6h.8M193.4 43.2h.8M189.2 41.0h.8M202.4 43.1h.8M191.9 41.6h.8M191.4 47.7h.8M191.1 44.8h.8M193.4 42.1h.8M189.5 47.8h.8M197.2 43.7h.8M194.4 42.2h.8M196.7 42.4h.8M195.4 41.2h.8M192.9 43.7h.8M185.7 49.2h.8M197.5 46.4h.8M195.3 46.3h.8M192.2 46.2h.8M201.4 44.1h.8M189.0 43.3h.8M194.5 41.3h.8M187.9 49.6h.8M187.7 48.9h.8M188.7 44.2h.8M185.4 46.9h.8M188.0 43.5h.8M189.3 48.9h.8M193.7 45.1h.8M192.4 47.5h.8M193.8 42.6h.8M196.2 41.1h.8M198.7 44.5h.8" stroke="#000" stroke-opacity="0.38" stroke-width="0.8"/>
<path d="M195.2 46.9h.8M188.9 45.2h.8M198.7 40.8h.8M189.1 48.4h.8M197.9 43.5h.8M191.1 41.2h.8M194.9 41.7h.8M188.3 49.5h.8M195.6 44.6h.8M192.3 41.8h.8M198.0 39.9h.8M185.3 46.5h.8M196.3 44.4h.8M196.8 44.3h.8M202.3 41.5h.8M196.3 47.8h.8M190.1 47.3h.8M193.0 41.1h.8M191.6 46.6h.8M191.7 47.4h.8M198.3 46.6h.8M190.3 46.9h.8M186.9 48.1h.8M201.5 42.0h.8M192.2 47.9h.8M200.5 44.7h.8M186.8 44.9h.8M190.3 42.2h.8M201.2 44.1h.8M190.6 44.0h.8M195.4 42.7h.8M197.5 43.2h.8M190.8 41.5h.8M201.8 45.8h.8M186.9 47.2h.8M194.9 44.7h.8M186.0 48.5h.8M199.2 43.4h.8M202.3 41.7h.8M193.9 43.8h.8M185.8 46.5h.8M193.2 46.9h.8M192.1 46.0h.8M197.1 43.1h.8M196.8 44.6h.8M193.0 46.9h.8M190.1 46.1h.8M193.3 41.7h.8M192.3 46.3h.8M188.0 46.5h.8M196.7 41.8h.8M194.2 42.0h.8M192.5 48.4h.8M191.5 41.9h.8M185.3 47.1h.8M195.8 46.3h.8M198.4 39.0h.8M196.3 48.3h.8M199.7 45.8h.8M197.5 47.4h.8M189.2 44.1h.8M194.3 45.1h.8M199.3 44.8h.8M193.9 44.7h.8M192.0 42.1h.8M190.2 43.4h.8M196.7 44.2h.8M184.0 48.9h.8M193.5 41.2h.8M186.5 48.7h.8M191.4 44.0h.8M186.3 49.4h.8M192.5 45.5h.8M193.3 43.4h.8M189.4 45.5h.8M197.5 48.3h.8M196.2 45.7h.8M198.1 46.6h.8M193.0 43.6h.8M194.7 47.0h.8M194.0 44.2h.8M194.4 43.3h.8M196.5 40.9h.8M201.5 40.2h.8M197.2 48.4h.8M197.2 45.1h.8M196.2 43.8h.8M196.5 42.3h.8M201.4 42.6h.8M199.4 43.4h.8M200.3 46.1h.8M189.2 46.0h.8M191.5 44.1h.8M198.5 39.0h.8M200.0 43.6h.8M196.8 41.5h.8M195.5 40.5h.8M192.5 43.5h.8M195.6 41.7h.8M192.2 47.0h.8M191.9 43.6h.8M198.8 41.4h.8M192.7 40.4h.8M191.2 44.1h.8M185.9 48.5h.8M196.4 43.0h.8M201.5 41.0h.8M197.0 40.8h.8M202.5 42.1h.8" stroke="#000" stroke-opacity="0.38" stroke-width="0.8"/>
<path d="M190.0 45.7h.8M188.4 45.7h.8M203.8 42.4h.8M192.6 42.6h.8M190.5 47.1h.8M198.3 42.4h.8M202.4 41.0h.8M198.0 41.9h.8M198.4 46.1h.8M192.0 43.2h.8M191.4 43.1h.8M196.2 42.2h.8M199.8 41.1h.8M193.1 45.1h.8M191.0 42.5h.8M200.7 44.9h.8M193.7 41.7h.8M203.7 41.3h.8M198.3 47.2h.8M187.2 43.8h.8M198.7 48.1h.8M195.2 45.3h.8M194.8 41.4h.8M204.4 40.1h.8M191.3 42.2h.8M197.2 47.2h.8M198.9 44.2h.8M195.6 47.7h.8M194.3 44.7h.8M192.9 45.1h.8M187.3 48.5h.8M198.2 46.6h.8M189.3 47.9h.8M197.7 41.2h.8M186.5 47.2h.8M200.5 43.8h.8M191.5 46.5h.8M199.5 41.2h.8M200.6 42.6h.8M196.9 41.4h.8M192.4 47.7h.8M194.0 41.9h.8M198.9 46.7h.8M194.8 47.1h.8M196.6 42.5h.8M186.7 49.4h.8M190.1 43.7h.8M196.9 41.3h.8M198.4 42.1h.8M191.0 48.4h.8M193.0 46.1h.8M198.9 40.8h.8M192.4 43.9h.8M187.4 44.3h.8M197.8 45.2h.8M192.5 44.2h.8M188.5 48.6h.8M196.6 45.3h.8M199.2 43.8h.8M195.0 41.1h.8M195.9 45.5h.8M186.7 48.7h.8M194.5 42.9h.8M189.3 48.2h.8M199.9 44.7h.8M203.5 41.1h.8M185.5 47.8h.8M198.6 42.2h.8M193.1 48.2h.8M199.7 44.6h.8M194.3 48.1h.8M200.6 43.2h.8M194.6 41.1h.8M200.1 39.5h.8M182.9 45.9h.8M203.3 44.2h.8M194.5 44.1h.8M189.4 47.7h.8M190.5 48.9h.8M198.6 43.4h.8M195.8 45.2h.8M189.4 41.9h.8M200.8 45.8h.8M193.4 46.1h.8M191.4 47.9h.8M199.7 44.4h.8M185.0 47.5h.8M187.0 45.0h.8M197.4 47.4h.8M190.0 42.3h.8M190.9 47.0h.8M193.4 48.7h.8M197.0 43.7h.8M200.7 42.4h.8M194.9 41.3h.8M189.3 44.5h.8M189.0 47.8h.8M203.5 41.8h.8M190.5 42.8h.8M187.8 48.0h.8M193.5 48.6h.8M195.3 46.3h.8M197.9 42.8h.8M195.0 47.0h.8M190.6 42.5h.8M198.0 47.7h.8M186.1 46.4h.8M194.9 41.5h.8M203.6 41.1h.8" stroke="#000" stroke-opacity="0.38" stroke-width="0.8"/>
<path d="M191.6 44.1h.8M185.7 50.0h.8M194.8 42.2h.8M193.6 46.9h.8M195.6 44.3h.8M189.6 46.7h.8M185.6 45.9h.8M191.9 43.9h.8M186.9 47.5h.8M196.3 43.2h.8M191.1 43.8h.8M185.1 49.4h.8M198.1 39.5h.8M197.6 43.7h.8M196.2 45.4h.8M199.2 47.6h.8M197.0 44.1h.8M189.7 41.5h.8M203.2 41.8h.8M191.9 42.9h.8M192.9 46.2h.8M194.5 42.3h.8M186.8 47.9h.8M202.6 41.9h.8M202.8 42.5h.8M189.6 47.9h.8M195.3 39.0h.8M194.0 47.4h.8M193.6 45.3h.8M196.1 43.1h.8M201.2 42.4h.8M190.7 46.7h.8M188.6 48.7h.8M196.1 45.1h.8M195.0 41.3h.8M195.2 43.7h.8M195.6 46.3h.8M199.3 43.9h.8M192.5 48.0h.8M202.3 39.9h.8M201.0 41.5h.8M201.8 43.0h.8M197.7 43.6h.8M195.3 42.2h.8M187.4 46.7h.8M200.6 40.1h.8M182.4 47.6h.8M186.5 45.8h.8M195.8 47.7h.8M184.3 46.4h.8M197.1 43.3h.8M192.9 42.1h.8M197.4 41.9h.8M190.2 48.2h.8M196.1 41.6h.8M196.2 46.1h.8M194.9 42.8h.8M195.8 46.6h.8M193.9 46.6h.8M187.8 42.4h.8M191.6 44.8h.8M196.9 45.1h.8M198.5 39.3h.8M198.8 44.0h.8M194.1 46.7h.8M202.1 43.1h.8M202.4 42.8h.8M189.9 44.7h.8M190.4 44.0h.8M188.9 47.1h.8M188.3 43.8h.8M197.7 42.1h.8M195.2 43.8h.8M188.7 48.3h.8M191.4 45.7h.8M189.3 48.3h.8M185.7 49.7h.8M189.5 40.7h.8M187.7 45.5h.8M187.0 42.8h.8M194.6 44.6h.8M198.9 44.5h.8M190.0 45.7h.8M203.1 40.1h.8M192.7 45.1h.8M201.4 42.0h.8M192.8 44.7h.8M198.9 40.8h.8M194.3 41.7h.8M189.6 49.0h.8M196.6 41.7h.8M194.7 42.3h.8M197.8 41.6h.8M190.9 48.1h.8M198.2 46.3h.8M191.4 44.5h.8M200.6 41.9h.8M199.2 41.3h.8M193.0 42.2h.8M196.0 46.5h.8M189.5 49.7h.8M185.3 48.5h.8M202.6 44.4h.8M192.2 44.2h.8M199.4 40.0h.8M186.8 49.4h.8M197.7 45.9h.8M184.4 45.7h.8" stroke="#000" stroke-opacity="0.38" stroke-width="0.8"/>
<path d="M196.3 46.4h.8M196.4 46.6h.8M197.2 47.7h.8M187.0 46.6h.8M188.1 45.8h.8M193.9 43.7h.8M199.4 39.1h.8M190.0 45.2h.8M196.1 47.0h.8M192.9 48.3h.8M199.1 42.6h.8M190.2 48.4h.8M188.8 43.9h.8M185.7 47.5h.8M193.3 43.2h.8M192.8 46.3h.8M193.7 47.1h.8M196.5 44.0h.8M196.8 45.6h.8M186.5 49.7h.8M191.4 48.2h.8M197.5 39.9h.8M193.3 49.1h.8M191.8 42.8h.8M195.7 46.8h.8M191.6 48.4h.8M188.0 45.9h.8M196.6 45.3h.8M189.2 47.1h.8M198.4 41.5h.8M188.2 45.7h.8M189.6 48.9h.8M198.8 39.7h.8M191.8 42.5h.8M186.4 47.0h.8M185.5 45.7h.8M200.4 40.7h.8M187.1 49.5h.8M196.7 47.6h.8M187.2 45.9h.8M191.3 47.7h.8M198.1 42.7h.8M197.9 41.5h.8M202.0 42.6h.8M190.8 42.1h.8M192.2 47.1h.8M195.1 43.2h.8M198.9 43.8h.8M190.0 50.7h.8M199.0 39.9h.8M197.6 44.1h.8M197.7 42.0h.8M193.8 45.0h.8M195.4 40.9h.8M192.3 40.5h.8M197.3 45.1h.8M194.1 49.9h.8M201.9 40.9h.8M186.2 47.7h.8M197.1 40.9h.8M191.7 46.7h.8M196.4 46.4h.8M196.8 43.2h.8M188.3 44.3h.8M186.6 47.6h.8M196.5 41.6h.8M197.2 40.5h.8M187.4 47.4h.8M191.9 44.5h.8M199.6 40.5h.8M195.4 46.6h.8M186.7 42.6h.8M198.3 43.4h.8M199.8 39.8h.8M198.8 41.6h.8M193.3 41.8h.8M199.2 45.7h.8M185.3 49.0h.8M196.8 47.4h.8M195.1 43.6h.8M198.5 44.5h.8M203.7 42.6h.8M197.4 44.3h.8M203.0 43.0h.8M194.6 46.6h.8M191.9 44.4h.8M190.3 43.9h.8M189.8 44.3h.8M195.2 46.0h.8M193.1 42.7h.8M199.8 43.7h.8M193.0 41.4h.8M197.9 40.7h.8M195.1 45.2h.8M186.7 47.5h.8M197.8 45.9h.8M200.6 39.4h.8M187.0 47.7h.8M193.3 45.5h.8M187.4 49.7h.8M199.5 40.7h.8M189.6 44.0h.8M191.1 42.0h.8M193.4 43.7h.8M196.4 43.6h.8M195.0 46.1h.8M189.6 44.2h.8M198.8 43.8h.8" stroke="#000" stroke-opacity="0.38" stroke-width="0.8"/>
<path d="M195.2 45.2h.8M191.8 43.7h.8M191.6 43.6h.8M188.7 47.1h.8M197.5 45.6h.8M199.4 44.3h.8M201.4 42.6h.8M196.1 42.2h.8M196.7 41.9h.8M193.3 42.0h.8M193.9 46.2h.8M186.5 47.7h.8M190.1 47.8h.8M199.1 45.3h.8M192.1 44.4h.8M197.2 43.3h.8M184.4 47.7h.8M193.9 48.6h.8M197.4 38.8h.8M195.1 43.5h.8M193.2 45.9h.8M192.5 47.0h.8M185.9 47.9h.8M191.4 43.0h.8M200.9 40.0h.8M199.7 44.5h.8M192.2 45.5h.8M188.5 47.3h.8M199.5 47.4h.8M192.9 42.6h.8M195.9 47.3h.8M199.0 44.9h.8M202.0 41.2h.8M195.6 43.6h.8M187.5 45.4h.8M191.3 48.4h.8M198.9 43.5h.8M197.5 40.3h.8M201.8 42.0h.8M189.0 48.2h.8M196.7 46.0h.8M196.2 41.8h.8M189.9 48.4h.8M193.6 43.1h.8M194.9 41.3h.8M195.9 42.8h.8M197.8 43.1h.8M198.3 40.3h.8M196.5 45.6h.8M195.7 48.3h.8M189.7 46.8h.8M203.4 42.3h.8M196.2 41.2h.8M199.6 40.9h.8M198.4 45.0h.8M188.7 46.7h.8M184.5 47.5h.8M198.6 44.2h.8M200.5 39.0h.8M200.5 43.0h.8M202.4 45.7h.8M190.8 47.3h.8M194.5 41.3h.8M197.7 42.1h.8M198.2 45.1h.8M203.2 41.9h.8M194.0 39.8h.8M202.0 43.0h.8M187.9 44.1h.8M190.2 45.1h.8M192.5 42.2h.8M196.1 40.7h.8M190.5 45.4h.8M195.1 44.0h.8M196.1 44.0h.8M196.9 43.5h.8M189.3 46.1h.8M192.4 47.3h.8M189.1 43.5h.8M193.5 50.1h.8M192.2 49.2h.8M193.8 41.2h.8M192.7 40.8h.8M191.2 41.7h.8M197.2 42.8h.8M187.7 47.4h.8M199.8 46.6h.8M196.6 42.7h.8M194.5 48.3h.8M190.8 47.4h.8M191.1 45.6h.8M191.1 43.0h.8M192.4 47.6h.8M189.8 48.3h.8M187.6 45.1h.8M183.5 47.9h.8M195.6 42.1h.8M194.2 43.9h.8M201.0 44.9h.8M189.8 46.6h.8M196.7 43.6h.8M196.1 45.6h.8M199.6 41.9h.8M186.7 45.5h.8M201.9 39.6h.8M199.4 40.7h.8M193.3 47.5h.8M189.3 46.9h.8" stroke="#000" stroke-opacity="0.38" stroke-width="0.8"/>
<path d="M194.2 40.0h.8M184.9 48.9h.8M190.4 48.5h.8M185.3 47.4h.8M198.4 42.4h.8M192.6 45.0h.8M192.8 42.7h.8M196.1 45.6h.8M194.9 40.8h.8M187.1 47.3h.8M188.7 45.7h.8M197.9 47.2h.8M199.0 47.6h.8M197.8 42.4h.8M186.7 46.0h.8M194.1 42.9h.8M191.1 41.9h.8M194.6 43.2h.8M188.2 45.6h.8M195.4 44.2h.8M196.4 39.6h.8M200.5 43.4h.8M192.8 48.1h.8M194.3 49.1h.8M198.3 40.0h.8M188.7 47.4h.8M192.1 41.8h.8M200.7 42.5h.8M188.3 46.6h.8M191.8 47.4h.8M202.3 42.1h.8M187.8 43.9h.8M193.0 45.2h.8M197.9 40.0h.8M184.8 47.4h.8M196.4 46.7h.8M192.4 44.2h.8M200.7 41.3h.8M187.8 46.3h.8M200.4 40.2h.8M201.8 42.1h.8M196.8 44.3h.8M189.5 42.2h.8M195.7 41.6h.8M198.1 44.4h.8M194.4 42.7h.8M198.6 43.2h.8M193.2 44.0h.8M194.9 42.8h.8M186.8 46.0h.8M193.8 41.6h.8M194.7 40.0h.8M194.8 47.7h.8M187.7 47.1h.8M194.6 49.9h.8M202.8 42.6h.8M202.4 41.3h.8M192.7 45.8h.8M191.7 41.5h.8M197.3 42.4h.8M202.2 44.5h.8M194.0 41.7h.8M189.0 44.2h.8M196.9 45.4h.8M197.3 45.2h.8M191.4 45.3h.8M202.4 41.1h.8M198.8 44.8h.8M195.9 45.4h.8M191.9 44.7h.8M192.8 47.3h.8M193.3 43.1h.8M196.3 41.6h.8M196.8 43.6h.8M197.0 45.2h.8M184.5 46.7h.8M202.5 39.6h.8M195.1 45.5h.8M190.1 43.3h.8M199.2 44.0h.8M197.1 40.9h.8M188.2 45.9h.8M192.0 44.0h.8M190.9 47.5h.8M187.9 42.8h.8M199.2 45.9h.8M194.0 43.8h.8M202.2 40.4h.8M200.9 43.3h.8M201.1 45.8h.8M195.4 41.2h.8M196.5 42.4h.8M195.6 46.2h.8M186.5 45.6h.8M194.4 45.7h.8M192.2 41.8h.8M189.1 48.7h.8M203.7 41.0h.8M197.5 40.7h.8M201.9 43.4h.8M193.0 46.3h.8M191.7 44.0h.8M190.0 46.2h.8M193.4 44.6h.8M196.7 43.2h.8M191.0 43.2h.8M187.2 44.5h.8M200.4 46.0h.8" stroke="#000" stroke-opacity="0.38" stroke-width="0.8"/>
<path d="M196.2 38.6h.8M193.3 43.0h.8M194.9 44.2h.8M201.2 41.9h.8M199.0 43.5h.8M186.2 48.1h.8M192.0 45.4h.8M189.8 46.0h.8M200.7 41.0h.8M191.3 49.3h.8M197.1 46.1h.8M190.9 47.9h.8M199.5 44.7h.8M199.6 41.4h.8M185.1 48.4h.8M195.8 41.4h.8M188.7 44.1h.8M194.9 44.3h.8M201.2 44.3h.8M187.2 46.8h.8M204.6 41.9h.8M195.0 43.1h.8M195.0 42.9h.8M187.5 49.0h.8M188.1 44.2h.8M193.5 45.0h.8M192.9 40.9h.8M189.6 44.1h.8M192.7 46.0h.8M187.7 47.7h.8M203.2 41.9h.8M195.2 43.5h.8M193.3 47.3h.8M194.4 44.0h.8M186.4 48.2h.8M189.6 48.2h.8M188.0 44.0h.8M199.7 38.7h.8M201.3 44.0h.8M199.9 42.1h.8M191.7 48.4h.8M188.5 45.3h.8M191.9 45.2h.8M197.1 40.1h.8M197.1 43.7h.8M184.6 46.8h.8M200.8 43.0h.8M201.0 39.4h.8M192.8 43.3h.8M192.5 45.8h.8M201.3 39.7h.8M189.0 45.5h.8M193.7 45.0h.8M199.7 42.2h.8M194.2 42.8h.8M191.4 47.5h.8M191.9 43.1h.8M189.0 46.9h.8M187.9 46.0h.8M190.9 46.5h.8M193.7 45.2h.8M200.9 43.3h.8M201.5 39.7h.8M193.2 42.9h.8M189.5 43.9h.8M192.1 42.6h.8M192.6 40.8h.8M198.8 38.6h.8M202.6 43.7h.8M188.6 47.1h.8M185.9 46.8h.8M191.0 41.9h.8M195.9 43.9h.8M195.9 44.0h.8M195.3 40.0h.8M190.3 44.1h.8M198.8 43.1h.8M192.4 48.5h.8M192.8 43.6h.8M199.7 43.2h.8M188.7 41.8h.8M193.4 44.3h.8M196.6 47.5h.8M190.9 48.3h.8M187.5 42.9h.8M194.2 40.6h.8M196.7 47.3h.8M201.9 43.5h.8M193.1 41.7h.8M198.0 43.9h.8M197.4 42.5h.8M200.7 44.5h.8M195.9 40.2h.8M187.2 46.3h.8M190.6 46.7h.8M194.9 42.8h.8M186.7 46.9h.8M195.3 42.3h.8M202.9 39.6h.8M189.0 46.7h.8M201.0 43.8h.8M196.2 47.4h.8M198.4 43.7h.8M200.0 42.1h.8M187.8 48.8h.8M187.7 45.0h.8M189.5 48.0h.8M194.5 46.4h.8" stroke="#000" stroke-opacity="0.38" stroke-width="0.8"/>
<path d="M189.7 42.6h.8M193.6 46.3h.8M189.5 45.9h.8M186.8 46.5h.8M191.2 47.7h.8M192.9 46.2h.8M196.0 49.0h.8M190.8 43.1h.8M198.1 42.2h.8M193.3 45.1h.8M189.8 48.6h.8M191.8 47.8h.8M203.6 44.3h.8M191.2 46.3h.8M189.5 43.1h.8M190.9 43.2h.8M192.1 42.5h.8M187.1 45.8h.8M197.4 45.3h.8M192.3 41.9h.8M198.1 45.0h.8M193.1 49.9h.8M197.1 39.4h.8M198.0 44.6h.8M186.4 47.6h.8M193.0 46.9h.8M196.6 43.2h.8M195.6 43.6h.8M187.9 45.9h.8M189.1 46.4h.8M191.6 44.8h.8M193.0 40.4h.8M201.5 39.7h.8M189.6 41.0h.8M190.0 46.2h.8M188.2 46.5h.8M190.1 44.2h.8M195.3 40.7h.8M197.7 41.4h.8M190.3 47.7h.8M201.7 41.4h.8M184.3 45.8h.8M195.7 47.9h.8M202.7 43.3h.8M194.3 47.8h.8M196.5 42.6h.8M193.4 42.5h.8M193.7 48.4h.8M185.5 45.8h.8M201.2 45.7h.8M191.6 46.1h.8M193.4 42.8h.8M188.7 44.0h.8M200.6 42.6h.8M199.7 43.0h.8M192.1 44.6h.8M187.8 48.1h.8M193.4 43.0h.8M189.2 46.6h.8M199.1 41.1h.8M194.1 44.7h.8M197.5 40.6h.8M197.7 42.7h.8M185.2 48.1h.8M194.3 43.3h.8M194.9 42.0h.8M192.2 45.3h.8M193.1 42.2h.8M201.8 44.8h.8M199.9 45.2h.8M196.7 43.7h.8M199.6 43.3h.8M185.7 48.4h.8M197.3 43.6h.8M193.9 48.2h.8M197.8 44.7h.8M190.6 48.0h.8M199.2 43.0h.8M188.2 45.7h.8M184.2 48.6h.8M191.1 42.1h.8M200.1 41.7h.8M203.7 40.9h.8M189.4 44.8h.8M191.3 43.0h.8M188.0 45.7h.8M198.2 43.0h.8M193.9 47.9h.8M188.0 47.7h.8M192.5 48.3h.8M199.6 42.6h.8M196.3 47.3h.8M193.3 39.5h.8M196.2 46.8h.8M186.4 46.9h.8M194.6 42.7h.8M196.9 45.7h.8M192.4 48.2h.8M187.1 44.3h.8M194.1 49.1h.8M202.0 39.6h.8M193.2 41.5h.8M202.9 42.1h.8M198.6 47.0h.8M200.5 43.7h.8M193.4 47.9h.8M189.0 44.5h.8M187.8 44.2h.8" stroke="#000" stroke-opacity="0.38" stroke-width="0.8"/>
<path d="M191.1 45.7h.8M201.9 41.9h.8M186.0 47.0h.8M195.1 44.6h.8M185.0 46.7h.8M197.4 41.8h.8M189.7 47.6h.8M188.3 47.2h.8M190.5 43.6h.8M196.4 43.7h.8M203.0 40.2h.8M200.8 44.5h.8M191.3 46.9h.8M197.2 46.2h.8M202.2 39.8h.8M191.4 47.3h.8M199.9 44.2h.8M189.2 49.1h.8M191.4 47.5h.8M186.6 45.8h.8M195.9 42.4h.8M193.3 45.2h.8M197.7 45.2h.8M195.4 42.7h.8M196.0 45.3h.8M189.4 48.4h.8M195.0 40.6h.8M194.5 39.7h.8M185.5 45.6h.8M190.5 44.4h.8M191.2 43.4h.8M190.6 42.6h.8M196.3 43.9h.8M198.2 41.5h.8M199.1 45.8h.8M190.3 44.2h.8M194.0 46.7h.8M195.2 46.7h.8M189.8 43.0h.8M199.6 43.7h.8M196.1 46.4h.8M191.1 40.6h.8M187.8 49.5h.8M193.3 42.0h.8M192.9 48.8h.8M189.7 46.4h.8M188.4 45.5h.8M194.5 40.0h.8M193.5 48.8h.8M201.3 40.2h.8M185.6 44.3h.8M193.5 50.8h.8M190.3 43.5h.8M199.3 45.9h.8M197.3 41.9h.8M189.8 43.5h.8M194.8 41.5h.8M195.1 42.4h.8M189.1 42.6h.8M186.4 46.1h.8M192.1 42.8h.8M200.8 41.6h.8M193.2 41.4h.8M191.2 45.1h.8M187.7 47.8h.8M187.8 43.0h.8M203.2 44.7h.8M195.6 43.0h.8M196.5 44.7h.8M189.5 46.1h.8M191.1 41.4h.8M201.0 40.4h.8M191.1 48.5h.8M193.5 43.0h.8M198.9 45.2h.8M192.3 46.5h.8M200.8 42.2h.8M192.7 46.2h.8M199.2 42.9h.8M200.4 45.4h.8M198.6 43.1h.8M185.1 47.3h.8M188.3 42.9h.8M199.3 44.6h.8M197.4 41.7h.8M197.8 45.8h.8M195.2 42.4h.8M186.6 46.1h.8M200.9 46.4h.8M198.3 41.5h.8M193.6 46.8h.8M189.8 43.7h.8M200.0 41.4h.8M192.7 48.4h.8M186.0 46.8h.8M195.7 45.6h.8M194.3 40.1h.8M185.4 46.9h.8M198.0 42.2h.8M191.4 45.0h.8M198.7 39.8h.8M196.4 42.3h.8M194.1 42.8h.8M196.5 40.5h.8M202.0 41.1h.8M197.3 44.6h.8M198.7 39.4h.8M191.6 45.4h.8" stroke="#000" stroke-opacity="0.38" stroke-width="0.8"/>
<path d="M191.3 42.3h.8M191.6 44.3h.8M189.2 44.2h.8M188.1 48.3h.8M201.5 46.7h.8M193.1 41.7h.8M191.2 44.1h.8M196.5 46.1h.8M198.6 46.3h.8M185.7 46.4h.8M200.0 42.5h.8M189.2 48.1h.8M186.8 49.3h.8M200.1 44.6h.8M192.9 42.0h.8M187.9 48.7h.8M194.7 45.4h.8M191.1 48.3h.8M194.4 40.5h.8M203.8 42.8h.8M187.7 48.8h.8M195.6 43.7h.8M198.9 44.8h.8M194.9 47.8h.8M195.9 42.2h.8M191.8 48.3h.8M187.9 42.2h.8M198.6 45.1h.8M188.2 44.0h.8M194.9 47.1h.8M192.0 44.0h.8M196.5 45.2h.8M199.1 44.1h.8M193.3 46.9h.8M195.9 47.5h.8M195.9 44.6h.8M201.3 39.5h.8M202.2 42.8h.8M190.2 49.5h.8M196.5 44.2h.8M189.8 48.0h.8M192.0 46.2h.8M200.5 42.7h.8M203.2 39.8h.8M196.9 40.6h.8M195.0 41.1h.8M197.9 44.8h.8M194.9 42.0h.8M188.8 49.7h.8M188.4 46.7h.8M187.3 48.4h.8M188.7 47.5h.8M198.9 39.2h.8M193.8 41.1h.8M191.3 43.9h.8M198.4 44.7h.8M189.9 48.9h.8M189.4 47.5h.8M188.5 45.4h.8M186.2 48.1h.8M198.5 44.1h.8M190.5 47.2h.8M191.2 45.0h.8M192.0 42.5h.8M191.4 46.1h.8M192.8 44.4h.8M186.8 45.9h.8M188.1 49.3h.8M195.5 41.9h.8M187.7 48.3h.8M194.8 45.0h.8M193.2 41.9h.8M197.3 44.1h.8M191.9 43.3h.8M195.2 44.7h.8M200.8 41.2h.8M195.0 43.6h.8M196.6 44.4h.8M197.6 41.4h.8M195.5 45.7h.8M202.6 42.5h.8M196.4 43.8h.8M189.1 48.6h.8M194.7 45.7h.8M194.3 45.6h.8M202.7 40.6h.8M191.3 48.9h.8M194.8 45.7h.8M192.9 46.9h.8M199.9 40.4h.8M188.0 44.2h.8M198.8 41.6h.8M187.2 49.1h.8M195.1 46.7h.8M198.9 40.7h.8M197.9 41.1h.8M197.7 41.7h.8M196.6 45.4h.8M190.0 43.3h.8M194.1 42.3h.8M192.9 43.3h.8M185.3 49.7h.8M194.6 45.9h.8M195.1 46.9h.8M197.4 46.0h.8M199.0 41.2h.8M195.9 40.9h.8M185.0 50.1h.8" stroke="#000" stroke-opacity="0.38" stroke-width="0.8"/>
<path d="M184.9 46.3h.8M189.8 42.9h.8M192.0 47.3h.8M191.0 44.1h.8M188.0 46.9h.8M195.6 45.0h.8M192.9 46.5h.8M190.4 48.0h.8M179.6 45.1h.8M193.7 43.5h.8M196.7 43.7h.8M200.1 45.6h.8M182.5 49.7h.8M183.9 49.5h.8M200.9 42.3h.8M192.7 48.8h.8M187.7 47.4h.8M186.5 47.9h.8M187.3 47.6h.8M188.9 44.4h.8M194.2 43.6h.8M193.0 47.3h.8M195.2 44.4h.8M183.9 48.4h.8M191.3 42.5h.8M194.4 43.0h.8M194.4 43.3h.8M189.0 46.6h.8M198.2 47.2h.8M191.8 46.6h.8M192.0 45.1h.8M194.0 43.5h.8M198.8 43.9h.8M196.6 44.2h.8M188.6 44.5h.8M189.4 46.6h.8M191.3 44.9h.8M186.7 48.7h.8M192.3 41.9h.8M189.0 42.6h.8M195.9 43.2h.8M186.4 45.2h.8M191.7 48.2h.8M193.8 44.6h.8M196.3 47.6h.8M193.6 44.9h.8M189.4 49.3h.8M192.1 42.0h.8M192.7 41.9h.8M192.0 45.8h.8" stroke="#000" stroke-opacity="0.4" stroke-width="0.8"/>
<path d="M186.8 44.2h.8M188.2 42.6h.8M189.4 44.0h.8M195.6 44.6h.8M196.5 40.3h.8M190.3 45.9h.8M197.0 43.1h.8M196.1 41.1h.8M187.1 49.0h.8M187.7 45.1h.8M198.4 43.8h.8M198.8 40.7h.8M186.6 49.3h.8M194.8 44.0h.8M188.1 48.5h.8M197.6 44.4h.8M201.1 45.3h.8M194.1 41.6h.8M186.4 45.3h.8M190.1 45.5h.8M190.6 47.5h.8M199.0 43.6h.8M188.3 48.7h.8M192.0 45.1h.8M195.0 46.2h.8M189.6 45.3h.8M190.3 42.7h.8M190.5 45.0h.8M188.4 45.8h.8M192.7 47.5h.8M201.2 43.1h.8M183.9 46.9h.8M191.8 44.4h.8M192.5 45.4h.8M192.8 41.9h.8M190.0 44.6h.8M191.3 47.8h.8M186.3 50.3h.8M189.8 45.4h.8M189.8 43.8h.8M191.8 46.9h.8M188.3 47.0h.8M196.8 41.5h.8M186.6 45.9h.8M193.2 45.5h.8M192.1 43.3h.8M184.3 45.3h.8M201.3 45.4h.8M186.5 48.8h.8M194.4 46.5h.8" stroke="#000" stroke-opacity="0.4" stroke-width="0.8"/>
<path d="M192.5 46.2h.8M202.4 44.8h.8M191.9 41.2h.8M191.5 45.7h.8M192.5 45.0h.8M193.9 48.7h.8M192.5 45.0h.8M189.4 45.6h.8M190.0 42.6h.8M197.4 45.1h.8M186.8 45.8h.8M189.5 48.0h.8M183.9 44.3h.8M185.8 47.4h.8M195.9 46.4h.8M180.5 49.0h.8M192.0 47.1h.8M194.4 45.5h.8M189.0 43.9h.8M188.1 43.7h.8M197.1 45.1h.8M188.6 44.1h.8M191.9 45.7h.8M189.6 50.4h.8M196.4 47.0h.8M189.3 46.9h.8M181.1 45.2h.8M185.7 44.6h.8M191.0 45.0h.8M194.2 45.2h.8M186.3 46.1h.8M197.1 46.0h.8M185.1 46.5h.8M196.7 45.4h.8M182.2 47.9h.8M193.9 43.9h.8M193.9 42.8h.8M191.0 46.3h.8M193.8 43.1h.8M194.3 42.9h.8M192.7 45.7h.8M192.6 47.2h.8M202.8 39.8h.8M188.9 46.3h.8M191.4 45.8h.8M187.9 45.0h.8M190.6 44.2h.8M196.1 43.4h.8M186.5 45.8h.8M187.9 47.6h.8" stroke="#000" stroke-opacity="0.4" stroke-width="0.8"/>
<path d="M185.8 46.3h.8M197.2 44.1h.8M193.0 47.3h.8M198.8 42.6h.8M184.0 49.3h.8M189.4 47.1h.8M190.0 46.0h.8M186.0 45.1h.8M194.2 45.9h.8M187.9 44.4h.8M184.1 44.5h.8M186.1 45.9h.8M193.3 45.7h.8M189.8 47.2h.8M198.7 41.1h.8M193.2 44.3h.8M187.9 43.8h.8M192.9 42.7h.8M197.6 40.7h.8M190.7 46.9h.8M196.4 44.7h.8M188.4 46.6h.8M193.6 44.7h.8M190.5 44.1h.8M193.7 46.3h.8M197.2 47.3h.8M197.1 39.9h.8M188.8 47.0h.8M186.6 47.4h.8M190.9 46.3h.8M189.0 46.1h.8M194.3 42.5h.8M192.1 44.9h.8M192.0 42.3h.8M188.9 45.9h.8M185.6 46.3h.8M197.9 40.8h.8M192.6 46.1h.8M189.6 44.3h.8M199.7 43.1h.8M191.4 47.9h.8M192.8 45.4h.8M190.2 43.8h.8M192.7 45.3h.8M189.8 44.3h.8M192.9 46.5h.8M196.6 40.5h.8M189.8 48.4h.8M193.8 43.9h.8M194.4 43.8h.8" stroke="#000" stroke-opacity="0.4" stroke-width="0.8"/>
<path d="M191.7 45.0h.8M196.8 46.2h.8M193.5 46.4h.8M199.7 45.2h.8M191.5 44.4h.8M194.2 42.6h.8M187.3 48.4h.8M191.9 44.9h.8M190.4 45.2h.8M191.5 44.6h.8M193.4 46.6h.8M185.2 51.4h.8M191.4 43.1h.8M191.8 46.8h.8M196.9 45.9h.8M193.3 51.0h.8M194.2 45.0h.8M193.1 41.9h.8M188.3 45.9h.8M189.6 46.2h.8M195.5 45.8h.8M182.9 48.6h.8M190.4 46.8h.8M199.2 44.0h.8M198.3 42.5h.8M197.4 45.5h.8M194.6 47.4h.8M201.2 44.3h.8M193.6 45.6h.8M195.5 40.0h.8M188.8 44.8h.8M201.9 39.6h.8M192.7 46.6h.8M190.3 46.2h.8M189.8 46.8h.8M190.8 43.6h.8M195.0 44.8h.8M190.6 45.2h.8M192.0 45.6h.8M188.3 45.7h.8M189.8 49.6h.8M193.3 44.7h.8M191.5 42.9h.8M189.1 46.4h.8M199.1 39.1h.8M196.0 42.9h.8M188.6 46.9h.8M192.6 46.1h.8M192.9 43.1h.8M186.9 45.0h.8" stroke="#000" stroke-opacity="0.4" stroke-width="0.8"/>
<path d="M189.3 47.9h.8M196.6 45.6h.8M194.3 46.0h.8M192.5 46.9h.8M190.6 52.2h.8M192.6 45.4h.8M200.0 46.0h.8M184.3 46.9h.8M194.3 46.9h.8M197.9 40.3h.8M200.0 42.4h.8M196.5 44.7h.8M194.6 41.5h.8M190.7 48.6h.8M191.9 45.8h.8M190.2 44.0h.8M193.9 44.6h.8M198.1 43.5h.8M192.2 46.8h.8M182.8 48.1h.8M193.5 44.9h.8M192.0 46.6h.8M190.0 46.1h.8M190.9 48.1h.8M200.2 46.0h.8M197.4 46.1h.8M190.8 49.0h.8M199.8 43.6h.8M186.6 47.0h.8M191.0 44.8h.8M198.9 43.1h.8M190.7 42.9h.8M193.9 45.3h.8M199.8 43.5h.8M190.7 44.7h.8M196.7 41.6h.8M197.4 44.3h.8M192.2 47.5h.8M196.7 45.4h.8M187.7 47.7h.8M190.1 44.5h.8M193.8 46.4h.8M192.6 47.4h.8M184.3 42.2h.8M193.1 45.8h.8M191.0 42.4h.8M194.6 46.4h.8M189.1 48.3h.8M193.4 46.9h.8M195.1 45.7h.8" stroke="#000" stroke-opacity="0.4" stroke-width="0.8"/>
<path d="M195.8 45.4h.8M188.1 47.5h.8M191.8 43.7h.8M190.7 44.1h.8M188.9 42.7h.8M190.1 47.1h.8M196.5 41.8h.8M193.2 42.5h.8M192.7 46.1h.8M183.8 47.6h.8M190.0 43.8h.8M192.4 44.3h.8M189.2 44.7h.8M181.3 47.0h.8M178.6 48.8h.8M192.5 44.5h.8M192.8 44.0h.8M187.6 49.5h.8M195.0 43.7h.8M190.4 43.4h.8M193.8 49.5h.8M190.3 46.1h.8M187.9 43.7h.8M192.8 46.3h.8M196.2 47.6h.8M190.5 47.2h.8M200.1 44.4h.8M190.6 43.2h.8M185.0 49.6h.8M189.4 42.3h.8M190.3 45.5h.8M197.8 44.3h.8M194.8 44.8h.8M192.3 47.7h.8M190.4 47.2h.8M200.0 44.5h.8M196.5 43.8h.8M197.7 46.1h.8M192.9 45.6h.8M198.3 42.9h.8M195.1 45.3h.8M195.0 43.3h.8M192.7 44.6h.8M190.6 42.5h.8M191.8 43.5h.8M181.7 47.1h.8M194.4 48.8h.8M188.2 46.7h.8M191.5 41.0h.8M187.1 44.2h.8" stroke="#000" stroke-opacity="0.4" stroke-width="0.8"/>
<path d="M192.1 49.3h.8M188.7 44.1h.8M190.7 45.6h.8M190.0 44.2h.8M187.5 46.1h.8M196.8 45.9h.8M197.7 41.9h.8M188.8 49.6h.8M191.3 44.8h.8M191.8 45.6h.8M196.1 44.7h.8M190.4 47.1h.8M190.6 47.5h.8M192.9 42.0h.8M198.2 39.6h.8M190.3 45.7h.8M194.2 46.2h.8M196.2 42.5h.8M190.1 46.0h.8M184.6 48.7h.8M191.6 45.0h.8M188.3 45.6h.8M188.5 45.5h.8M192.1 43.2h.8M194.8 42.6h.8M193.0 44.7h.8M202.2 43.0h.8M190.5 41.6h.8M187.3 46.4h.8M194.4 42.8h.8M191.8 48.2h.8M195.7 44.3h.8M192.1 46.3h.8M191.5 45.5h.8M196.6 45.6h.8M188.1 47.0h.8M196.4 44.6h.8M193.5 44.5h.8M192.6 45.5h.8M195.4 42.4h.8M183.8 48.7h.8M184.0 46.6h.8M198.0 41.5h.8M187.1 44.6h.8M190.7 44.9h.8M187.9 43.6h.8M189.7 46.4h.8M183.7 46.7h.8M194.2 44.5h.8M195.7 40.8h.8" stroke="#000" stroke-opacity="0.4" stroke-width="0.8"/>
<path d="M198.9 42.1h.8M187.1 47.8h.8M198.1 46.5h.8M193.9 44.7h.8M190.0 45.8h.8M191.0 46.0h.8M192.6 48.8h.8M196.3 40.6h.8M188.0 47.2h.8M196.2 48.0h.8M189.6 47.5h.8M189.4 48.6h.8M189.4 47.3h.8M194.1 42.1h.8M189.6 46.7h.8M195.1 44.7h.8M192.0 46.9h.8M200.5 40.4h.8M195.6 45.4h.8M188.6 47.5h.8M190.1 45.9h.8M184.2 48.2h.8M192.5 47.5h.8M195.9 44.3h.8M196.7 44.3h.8M189.5 45.2h.8M188.9 47.4h.8M191.5 48.8h.8M189.6 45.0h.8M190.6 44.8h.8M194.6 46.7h.8M191.7 45.8h.8M185.3 50.2h.8M191.7 42.5h.8M192.9 38.5h.8M196.9 43.3h.8M200.8 41.0h.8M185.3 49.0h.8M197.1 38.7h.8M194.8 49.1h.8M185.8 45.9h.8M191.7 40.5h.8M195.9 43.5h.8M193.8 42.3h.8M187.2 46.9h.8M184.4 49.0h.8M195.0 43.6h.8M193.3 43.8h.8M188.5 49.2h.8M191.6 43.7h.8" stroke="#000" stroke-opacity="0.4" stroke-width="0.8"/>
<path d="M192.0 47.7h.8M195.4 41.4h.8M193.0 43.4h.8M194.6 46.1h.8M187.6 47.9h.8M201.0 40.0h.8M187.7 48.5h.8M186.2 48.1h.8M190.3 45.4h.8M189.9 44.9h.8M192.9 41.2h.8M189.1 44.6h.8M193.6 41.3h.8M191.5 43.6h.8M195.2 47.5h.8M186.5 46.9h.8M183.7 46.6h.8M193.8 47.1h.8M188.2 42.5h.8M190.3 47.1h.8M192.0 43.0h.8M198.4 43.4h.8M184.6 48.1h.8M186.9 45.5h.8M193.6 45.1h.8M189.8 43.6h.8M189.0 43.7h.8M193.9 47.0h.8M186.2 43.8h.8M184.5 47.1h.8M178.8 50.6h.8M184.5 50.0h.8M187.0 48.8h.8M196.3 44.8h.8M187.5 46.3h.8M187.0 47.4h.8M197.4 44.5h.8M195.4 43.5h.8M191.5 46.2h.8M186.9 49.7h.8M194.9 42.7h.8M190.3 46.9h.8M192.9 45.2h.8M192.7 44.1h.8M189.7 45.0h.8M187.2 43.6h.8M190.0 45.0h.8M190.1 47.4h.8M185.2 51.3h.8M184.1 48.2h.8" stroke="#000" stroke-opacity="0.4" stroke-width="0.8"/>
<path d="M188.6 47.3h.8M200.1 45.5h.8M188.5 46.1h.8M178.6 50.5h.8M188.8 43.7h.8M193.2 46.7h.8M192.8 44.7h.8M186.5 46.7h.8M196.0 44.9h.8M184.4 48.4h.8M194.9 44.6h.8M197.1 43.2h.8M186.5 46.4h.8M189.9 46.4h.8M184.2 48.1h.8M193.4 43.9h.8M198.9 46.4h.8M182.7 50.5h.8M201.4 44.0h.8M189.3 43.2h.8M183.5 48.8h.8M192.6 43.1h.8M181.6 46.8h.8M195.5 43.3h.8M197.8 44.4h.8M193.9 44.6h.8M187.7 51.4h.8M189.3 43.5h.8M199.4 43.3h.8M183.4 46.4h.8M197.6 47.4h.8M195.5 43.4h.8M192.7 47.4h.8M190.1 43.8h.8M191.9 42.2h.8M199.6 39.8h.8M192.4 44.1h.8M196.3 46.6h.8M196.2 41.8h.8M195.9 40.3h.8M193.3 44.2h.8M188.9 44.2h.8M192.5 45.1h.8M185.6 44.4h.8M194.0 42.5h.8M201.6 42.3h.8M188.1 44.3h.8M191.9 47.7h.8M189.7 49.1h.8M191.5 48.2h.8" stroke="#000" stroke-opacity="0.4" stroke-width="0.8"/>
<path d="M191.5 44.1h.8M189.8 45.1h.8M197.8 44.0h.8M184.1 48.3h.8M188.0 45.9h.8M192.7 46.4h.8M188.2 47.4h.8M190.1 47.1h.8M194.4 41.3h.8M195.2 43.7h.8M189.8 45.2h.8M193.8 43.8h.8M189.4 46.8h.8M191.0 44.9h.8M194.5 41.8h.8M197.1 45.1h.8M192.7 44.8h.8M191.4 45.5h.8M193.0 45.6h.8M191.1 44.9h.8M185.0 48.2h.8M197.3 41.9h.8M188.1 42.1h.8M192.3 46.5h.8M189.0 47.3h.8M192.4 45.9h.8M189.4 46.2h.8M189.5 45.4h.8M194.3 48.8h.8M190.5 45.9h.8M190.9 42.3h.8M192.0 46.0h.8M191.5 43.7h.8M193.7 47.6h.8M198.2 43.9h.8M194.4 44.6h.8M193.0 42.1h.8M193.1 47.2h.8M194.1 46.5h.8M185.4 45.8h.8M200.2 42.4h.8M200.3 45.3h.8M188.3 45.5h.8M194.1 45.4h.8M193.2 43.7h.8M190.7 47.1h.8M188.2 43.4h.8M181.6 49.9h.8M190.4 43.1h.8M200.9 41.7h.8" stroke="#000" stroke-opacity="0.4" stroke-width="0.8"/>
<path d="M187.1 50.3h.7M188.6 49.6h.7M193.2 44.6h.7M184.3 46.1h.7M186.2 47.9h.7M184.2 49.2h.7M183.5 50.6h.7M181.8 48.8h.7M183.6 53.0h.7M183.7 46.3h.7M188.3 51.6h.7M184.2 48.1h.7M181.1 46.3h.7M183.9 46.5h.7M181.1 47.9h.7M184.8 49.1h.7M184.3 54.6h.7M184.8 48.0h.7M182.1 45.8h.7M187.9 48.3h.7M183.0 48.9h.7" stroke="#000" stroke-opacity="0.3" stroke-width="0.7"/>
<path d="M182.5 45.6h.7M179.9 43.6h.7M180.9 48.6h.7M182.7 45.2h.7M186.1 47.7h.7M181.8 45.7h.7M186.5 45.2h.7M184.5 51.8h.7M182.0 48.8h.7M181.6 48.8h.7M189.1 49.8h.7M184.5 49.2h.7M185.6 43.1h.7M182.5 48.0h.7M183.7 46.7h.7M179.7 45.8h.7M177.8 47.8h.7M181.7 52.1h.7M187.1 49.3h.7M183.9 46.3h.7M182.6 45.0h.7" stroke="#000" stroke-opacity="0.3" stroke-width="0.7"/>
<path d="M188.8 46.8h.7M186.6 47.6h.7M185.5 46.0h.7M181.2 46.3h.7M182.0 45.2h.7M184.8 47.5h.7M183.3 48.3h.7M181.9 46.6h.7M182.5 49.8h.7M182.7 49.1h.7M182.7 50.2h.7M184.2 49.1h.7M178.4 47.2h.7M187.3 47.0h.7M185.7 51.6h.7M185.2 49.2h.7M183.4 50.2h.7M182.7 49.7h.7M179.0 49.4h.7M184.1 51.2h.7M184.1 50.0h.7" stroke="#000" stroke-opacity="0.3" stroke-width="0.7"/>
<path d="M184.0 47.0h.7M182.3 48.7h.7M184.3 43.7h.7M182.6 50.5h.7M186.2 50.9h.7M183.4 48.3h.7M179.9 49.9h.7M181.1 51.2h.7M185.4 47.2h.7M187.4 48.1h.7M183.5 49.3h.7M180.3 49.8h.7M184.9 46.6h.7M184.5 44.2h.7M182.4 50.0h.7M181.4 47.0h.7M183.0 41.7h.7M184.7 50.8h.7M186.0 46.2h.7M185.7 46.7h.7M181.0 50.4h.7" stroke="#000" stroke-opacity="0.3" stroke-width="0.7"/>
<path d="M183.6 46.2h.7M182.3 42.9h.7M183.1 50.0h.7M180.4 47.6h.7M183.2 48.9h.7M184.7 45.5h.7M183.9 48.2h.7M180.5 49.7h.7M178.8 46.5h.7M179.5 46.0h.7M181.5 46.4h.7M189.3 48.3h.7M177.4 47.9h.7M184.5 50.7h.7M184.4 47.7h.7M183.8 47.4h.7M188.1 45.1h.7M177.6 52.9h.7M184.8 48.4h.7M182.1 46.7h.7M186.2 45.6h.7" stroke="#000" stroke-opacity="0.3" stroke-width="0.7"/>
<path d="M186.3 50.8h.7M186.4 46.1h.7M188.9 47.3h.7M182.3 51.4h.7M188.2 45.7h.7M182.1 48.9h.7M185.1 52.2h.7M188.4 47.4h.7M187.7 47.2h.7M186.8 47.2h.7M185.5 52.2h.7M180.0 51.2h.7M180.2 49.4h.7M186.6 49.0h.7M190.7 42.4h.7M186.2 48.1h.7M184.0 44.4h.7M183.5 44.7h.7M182.7 46.3h.7M185.8 52.4h.7M184.1 47.7h.7" stroke="#000" stroke-opacity="0.3" stroke-width="0.7"/>
<path d="M182.9 44.3h.7M181.0 44.4h.7M183.3 48.8h.7M184.8 46.8h.7M183.1 45.0h.7M187.4 51.1h.7M184.2 46.9h.7M186.3 42.5h.7M186.0 46.6h.7M181.7 47.6h.7M184.1 53.4h.7M183.2 40.4h.7M183.9 48.5h.7M182.6 45.4h.7M182.1 43.3h.7M184.7 44.3h.7M180.9 46.6h.7M184.5 53.4h.7M182.1 47.1h.7M180.9 47.8h.7M186.0 49.4h.7" stroke="#000" stroke-opacity="0.3" stroke-width="0.7"/>
<path d="M184.2 44.0h.7M184.8 45.7h.7M187.3 48.9h.7M186.5 47.9h.7M187.6 48.4h.7M181.6 50.5h.7M189.3 46.5h.7M183.0 43.7h.7M178.6 48.8h.7M185.6 48.4h.7M192.3 44.6h.7M183.5 49.3h.7M186.1 46.5h.7M183.9 44.5h.7M183.2 47.3h.7M181.0 48.6h.7M186.7 49.9h.7M185.6 44.7h.7M180.1 47.7h.7M183.0 45.9h.7M180.2 44.4h.7" stroke="#000" stroke-opacity="0.3" stroke-width="0.7"/>
<path d="M182.1 50.8h.7M185.9 47.0h.7M181.8 48.6h.7M182.6 51.5h.7M182.7 43.6h.7M186.3 47.7h.7M182.5 44.3h.7M184.6 47.8h.7M185.1 46.4h.7M186.0 45.8h.7M184.1 45.5h.7M185.3 50.9h.7M186.6 50.9h.7M180.5 50.2h.7M195.5 48.7h.7M179.4 48.5h.7M182.4 49.0h.7M182.7 51.1h.7M179.7 48.0h.7M185.3 49.1h.7M187.2 48.0h.7" stroke="#000" stroke-opacity="0.3" stroke-width="0.7"/>
<path d="M191.0 48.6h.7M187.3 46.7h.7M186.9 45.9h.7M186.2 52.0h.7M183.5 50.2h.7M185.5 49.8h.7M187.3 48.4h.7M181.8 50.1h.7M183.0 48.5h.7M183.3 47.2h.7M183.7 46.5h.7M186.0 48.1h.7M185.3 51.1h.7M181.4 52.3h.7M189.5 51.0h.7M182.2 45.8h.7M183.0 48.1h.7M179.9 47.3h.7M183.9 45.2h.7M179.9 45.2h.7M185.3 48.6h.7" stroke="#000" stroke-opacity="0.3" stroke-width="0.7"/>
<path d="M180.9 49.7h.7M182.1 42.8h.7M180.0 49.0h.7M187.5 49.7h.7M183.2 46.7h.7M189.4 45.1h.7M185.5 48.2h.7M185.2 46.5h.7M182.4 48.6h.7M184.1 42.6h.7M184.0 50.2h.7M178.3 45.1h.7M182.3 50.1h.7M179.9 48.9h.7M182.9 49.0h.7M186.1 46.1h.7M184.6 49.3h.7M183.2 53.2h.7M186.6 52.6h.7M187.7 48.6h.7" stroke="#000" stroke-opacity="0.3" stroke-width="0.7"/>
<path d="M177.3 46.0h.7M180.8 49.5h.7M185.1 50.1h.7M184.5 45.0h.7M186.0 44.7h.7M185.9 47.4h.7M183.7 45.8h.7M182.6 44.1h.7M183.5 42.0h.7M183.4 44.5h.7M186.9 48.5h.7M184.7 49.5h.7M185.0 45.4h.7M180.7 48.3h.7M189.1 48.3h.7M181.6 46.1h.7M182.3 47.5h.7M183.2 51.0h.7M188.0 44.4h.7M185.6 46.5h.7" stroke="#000" stroke-opacity="0.3" stroke-width="0.7"/>
<path d="M184.6 41.6h.7M186.2 48.1h.7M183.6 52.5h.7M172.4 50.6h.7M180.3 42.9h.7M184.3 61.3h.7M182.8 45.6h.7M164.9 42.9h.7M176.1 51.2h.7M176.8 45.9h.7M181.3 45.9h.7M183.0 55.1h.7M173.2 49.8h.7M180.4 57.9h.7M184.0 41.9h.7M164.6 46.6h.7M184.9 50.3h.7M166.9 51.2h.7M183.6 50.7h.7M173.4 52.4h.7M169.0 56.1h.7" stroke="#000" stroke-opacity="0.28" stroke-width="0.7"/>
<path d="M182.2 44.0h.7M177.6 43.8h.7M181.1 46.7h.7M185.7 46.9h.7M167.8 49.1h.7M176.2 57.3h.7M165.6 48.9h.7M178.9 49.5h.7M173.0 50.0h.7M183.1 52.0h.7M186.5 54.6h.7M163.8 51.0h.7M175.8 52.9h.7M169.4 44.5h.7M168.6 53.4h.7M171.8 50.3h.7M171.9 49.6h.7M178.4 45.2h.7M181.3 46.0h.7M176.7 51.8h.7M169.6 51.0h.7" stroke="#000" stroke-opacity="0.28" stroke-width="0.7"/>
<path d="M181.7 54.9h.7M169.5 46.4h.7M174.5 54.1h.7M174.8 47.5h.7M190.3 43.7h.7M167.9 48.0h.7M177.7 53.1h.7M170.1 49.8h.7M181.8 49.8h.7M170.6 56.9h.7M184.0 54.4h.7M181.5 54.4h.7M175.7 54.5h.7M176.3 40.8h.7M165.5 49.2h.7M168.1 56.0h.7M172.4 43.8h.7M169.3 47.7h.7M181.1 42.8h.7M164.8 46.4h.7M191.5 46.5h.7" stroke="#000" stroke-opacity="0.28" stroke-width="0.7"/>
<path d="M167.5 52.7h.7M177.5 47.6h.7M168.5 50.2h.7M193.3 54.2h.7M168.4 52.9h.7M171.3 47.7h.7M174.6 48.0h.7M181.7 57.3h.7M192.2 57.1h.7M169.6 56.2h.7M177.7 46.1h.7M185.8 42.8h.7M166.3 57.0h.7M176.8 45.6h.7M183.1 47.9h.7M173.6 48.2h.7M168.7 50.5h.7M175.5 49.3h.7M175.7 35.9h.7M179.5 47.2h.7M185.6 45.5h.7" stroke="#000" stroke-opacity="0.28" stroke-width="0.7"/>
<path d="M173.9 48.1h.7M174.4 51.1h.7M163.9 49.4h.7M180.1 52.0h.7M178.8 57.0h.7M170.0 47.6h.7M185.0 44.3h.7M170.9 53.2h.7M168.3 47.8h.7M176.5 44.8h.7M180.9 53.2h.7M172.7 44.5h.7M175.9 54.9h.7M174.1 50.8h.7M172.3 46.3h.7M172.9 46.3h.7M177.5 39.9h.7M174.9 49.4h.7M169.8 53.6h.7M179.3 58.0h.7M179.4 48.5h.7" stroke="#000" stroke-opacity="0.28" stroke-width="0.7"/>
<path d="M175.3 44.0h.7M178.6 56.2h.7M170.5 44.2h.7M171.4 49.3h.7M166.7 42.9h.7M175.3 47.1h.7M183.4 52.4h.7M189.3 47.2h.7M166.8 45.1h.7M168.7 49.0h.7M177.3 47.8h.7M180.0 41.9h.7M177.2 53.3h.7M177.8 58.2h.7M169.6 47.3h.7M170.6 55.8h.7M175.6 51.6h.7M165.0 37.3h.7M172.8 50.3h.7M173.7 50.5h.7M177.4 44.4h.7" stroke="#000" stroke-opacity="0.28" stroke-width="0.7"/>
<path d="M170.4 53.5h.7M173.8 44.5h.7M179.0 45.0h.7M177.4 49.6h.7M174.3 51.4h.7M180.1 48.1h.7M167.9 52.1h.7M183.0 35.1h.7M178.6 43.8h.7M175.2 45.8h.7M166.7 54.3h.7M184.3 52.5h.7M184.9 44.9h.7M178.8 42.2h.7M177.8 55.1h.7M177.0 48.4h.7M175.5 44.1h.7M180.6 55.2h.7M166.6 58.2h.7M171.5 46.6h.7M170.0 51.6h.7" stroke="#000" stroke-opacity="0.28" stroke-width="0.7"/>
<path d="M180.8 45.5h.7M177.1 56.3h.7M173.4 48.4h.7M169.9 46.4h.7M179.1 54.1h.7M177.2 56.4h.7M171.7 45.3h.7M185.1 47.6h.7M169.2 49.1h.7M178.3 41.8h.7M177.1 42.5h.7M177.2 38.1h.7M176.3 48.3h.7M181.0 41.6h.7M181.5 45.4h.7M181.4 44.6h.7M181.1 42.0h.7M166.0 47.3h.7M179.2 48.2h.7M173.8 42.1h.7M165.0 46.6h.7" stroke="#000" stroke-opacity="0.28" stroke-width="0.7"/>
<path d="M168.7 62.1h.7M172.5 50.1h.7M172.5 56.9h.7M179.5 50.2h.7M165.9 46.9h.7M178.1 49.6h.7M163.1 43.7h.7M164.9 55.1h.7M180.7 46.6h.7M175.9 49.3h.7M177.2 52.6h.7M172.3 53.6h.7M175.9 41.1h.7M175.4 43.1h.7M171.9 53.4h.7M179.7 48.5h.7M181.1 56.1h.7M178.2 53.3h.7M178.4 50.1h.7M163.5 57.9h.7M179.0 45.3h.7" stroke="#000" stroke-opacity="0.28" stroke-width="0.7"/>
<path d="M183.2 49.7h.7M174.0 51.6h.7M173.0 50.7h.7M162.8 52.0h.7M175.9 53.4h.7M175.9 49.6h.7M178.3 46.9h.7M183.6 53.9h.7M174.5 54.1h.7M164.5 52.8h.7M176.0 53.2h.7M166.8 49.6h.7M174.7 48.2h.7M171.8 56.5h.7M164.0 49.1h.7M170.8 53.8h.7M163.0 52.5h.7M180.7 54.4h.7M184.5 48.4h.7M175.8 54.5h.7M169.0 44.6h.7" stroke="#000" stroke-opacity="0.28" stroke-width="0.7"/>
<path d="M168.9 47.5h.7M176.9 45.0h.7M167.3 48.4h.7M183.4 44.7h.7M178.6 46.7h.7M178.9 44.7h.7M176.8 43.8h.7M183.5 47.8h.7M179.3 50.9h.7M165.9 38.5h.7M179.5 41.2h.7M176.1 53.7h.7M170.8 49.2h.7M171.9 46.7h.7M172.9 44.1h.7M166.8 53.9h.7M177.8 49.8h.7M175.5 51.0h.7M166.0 49.4h.7M176.4 49.6h.7" stroke="#000" stroke-opacity="0.28" stroke-width="0.7"/>
<path d="M176.7 44.3h.7M175.3 54.0h.7M173.7 48.1h.7M176.2 41.9h.7M170.3 54.6h.7M184.5 55.6h.7M173.7 48.3h.7M170.9 47.8h.7M181.1 43.3h.7M171.9 48.8h.7M174.5 51.9h.7M178.0 50.3h.7M167.4 57.8h.7M172.1 48.3h.7M169.9 52.0h.7M170.5 52.1h.7M170.5 48.4h.7M177.7 46.4h.7M184.0 50.3h.7M180.3 51.7h.7" stroke="#000" stroke-opacity="0.28" stroke-width="0.7"/>
<path d="M191.2 50.0h.7M189.7 50.6h.7M190.8 52.1h.7M194.0 55.4h.7M194.2 49.0h.7M188.8 49.1h.7M189.1 50.5h.7M189.8 50.2h.7M195.7 51.2h.7M187.3 57.7h.7M188.6 51.9h.7M197.1 50.9h.7M189.9 51.3h.7M191.4 48.8h.7M191.0 52.2h.7M182.7 57.1h.7M190.3 50.3h.7M194.5 49.3h.7M195.8 52.2h.7M197.7 53.4h.7M191.3 50.2h.7" stroke="#000" stroke-opacity="0.3" stroke-width="0.7"/>
<path d="M191.3 50.5h.7M190.1 49.7h.7M184.8 50.3h.7M200.1 50.3h.7M192.7 52.0h.7M192.8 47.4h.7M189.7 57.0h.7M194.3 48.4h.7M189.3 53.0h.7M195.5 45.5h.7M192.5 46.6h.7M179.0 53.5h.7M190.4 55.6h.7M189.9 54.5h.7M188.8 51.5h.7M184.5 50.6h.7M187.7 54.4h.7M186.7 54.0h.7M191.3 55.3h.7M193.7 50.1h.7M192.9 54.1h.7" stroke="#000" stroke-opacity="0.3" stroke-width="0.7"/>
<path d="M201.0 48.0h.7M185.9 51.8h.7M193.7 49.6h.7M197.7 54.7h.7M190.1 52.4h.7M185.8 54.3h.7M179.6 54.1h.7M195.0 47.5h.7M195.3 49.0h.7M193.3 49.4h.7M193.3 48.8h.7M182.0 58.6h.7M191.1 46.1h.7M185.1 56.3h.7M195.4 50.6h.7M193.6 46.3h.7M182.5 55.1h.7M194.0 48.7h.7M194.2 54.9h.7M187.2 55.9h.7M181.8 47.4h.7" stroke="#000" stroke-opacity="0.3" stroke-width="0.7"/>
<path d="M179.3 53.5h.7M187.3 52.2h.7M176.8 54.0h.7M191.0 51.9h.7M185.4 53.8h.7M180.7 55.2h.7M193.5 51.0h.7M186.0 52.3h.7M189.7 52.1h.7M197.6 50.5h.7M189.7 51.3h.7M191.7 47.8h.7M203.2 51.7h.7M194.8 49.9h.7M198.2 48.0h.7M196.8 53.1h.7M192.3 49.7h.7M188.0 53.8h.7M207.2 49.1h.7M194.0 49.6h.7M202.2 50.2h.7" stroke="#000" stroke-opacity="0.3" stroke-width="0.7"/>
<path d="M190.7 51.6h.7M187.9 45.0h.7M178.5 58.9h.7M195.4 50.2h.7M184.2 54.2h.7M188.2 49.1h.7M204.6 52.3h.7M183.0 52.8h.7M185.8 52.8h.7M190.3 51.9h.7M196.0 52.6h.7M195.2 48.4h.7M185.0 51.4h.7M199.5 54.9h.7M191.6 47.2h.7M188.9 48.7h.7M186.7 55.2h.7M192.8 48.6h.7M176.4 52.6h.7M178.3 51.0h.7M200.6 50.4h.7" stroke="#000" stroke-opacity="0.3" stroke-width="0.7"/>
<path d="M181.9 56.1h.7M190.9 55.2h.7M195.0 52.4h.7M187.4 49.6h.7M193.7 52.7h.7M192.5 52.8h.7M194.9 48.0h.7M193.4 47.1h.7M190.4 49.5h.7M193.3 51.1h.7M201.0 50.1h.7M194.3 50.9h.7M186.2 52.4h.7M194.6 51.2h.7M190.2 49.5h.7M187.7 46.7h.7M201.4 48.3h.7M192.5 51.0h.7M185.2 52.7h.7M180.8 56.9h.7M199.5 48.1h.7" stroke="#000" stroke-opacity="0.3" stroke-width="0.7"/>
<path d="M190.4 51.1h.7M192.6 52.6h.7M186.2 48.6h.7M190.4 49.4h.7M189.1 60.3h.7M187.5 51.3h.7M193.6 49.8h.7M196.0 48.9h.7M186.7 53.0h.7M189.9 51.2h.7M188.3 50.4h.7M185.0 54.3h.7M193.5 51.6h.7M202.1 53.7h.7M199.1 52.1h.7M199.0 50.1h.7M195.0 55.7h.7M197.0 47.8h.7M191.1 47.8h.7M191.9 49.0h.7M194.9 55.4h.7" stroke="#000" stroke-opacity="0.3" stroke-width="0.7"/>
<path d="M181.7 54.1h.7M192.9 49.4h.7M189.4 51.4h.7M195.0 49.4h.7M189.6 51.9h.7M195.7 52.6h.7M191.4 51.8h.7M194.3 51.4h.7M196.2 51.4h.7M193.5 47.7h.7M195.6 55.1h.7M184.5 56.4h.7M187.5 49.7h.7M186.0 51.7h.7M194.9 56.0h.7M186.6 49.5h.7M187.6 51.3h.7M196.4 51.7h.7M184.5 51.8h.7M190.9 59.1h.7M196.9 49.0h.7" stroke="#000" stroke-opacity="0.3" stroke-width="0.7"/>
<path d="M190.9 55.1h.7M183.3 54.8h.7M186.3 52.4h.7M199.5 53.2h.7M187.2 56.0h.7M190.2 49.2h.7M188.6 53.5h.7M188.3 50.3h.7M186.8 54.2h.7M191.1 51.0h.7M192.8 49.4h.7M191.0 48.5h.7M195.8 50.2h.7M189.8 50.4h.7M199.6 51.9h.7M195.1 55.0h.7M184.3 52.1h.7M186.0 55.3h.7M188.8 44.2h.7M197.5 46.3h.7M196.1 48.5h.7" stroke="#000" stroke-opacity="0.3" stroke-width="0.7"/>
<path d="M187.5 48.0h.7M196.9 51.7h.7M194.8 52.2h.7M184.2 55.5h.7M188.6 54.5h.7M185.3 50.5h.7M200.6 52.6h.7M181.3 51.1h.7M192.4 52.8h.7M188.9 53.9h.7M192.8 51.8h.7M182.0 57.6h.7M203.2 46.9h.7M183.4 55.3h.7M186.7 48.0h.7M183.8 51.0h.7M190.5 50.3h.7M195.7 46.7h.7M196.7 50.5h.7M189.8 47.9h.7M183.2 54.3h.7" stroke="#000" stroke-opacity="0.3" stroke-width="0.7"/>
<path d="M190.8 48.4h.7M193.2 51.9h.7M183.6 46.1h.7M189.1 55.5h.7M185.6 53.0h.7M195.0 52.2h.7M191.3 45.7h.7M187.7 56.6h.7M197.2 47.7h.7M183.9 51.6h.7M191.0 49.3h.7M198.6 46.5h.7M195.6 50.7h.7M191.7 51.5h.7M190.9 50.4h.7M181.7 55.0h.7M186.3 47.6h.7M201.8 46.2h.7M191.3 52.2h.7M181.4 53.6h.7" stroke="#000" stroke-opacity="0.3" stroke-width="0.7"/>
<path d="M192.4 47.6h.7M190.6 52.0h.7M190.3 49.3h.7M193.6 50.6h.7M189.2 54.2h.7M193.3 54.9h.7M197.6 53.2h.7M196.1 46.5h.7M190.1 49.8h.7M186.8 53.7h.7M176.9 52.3h.7M200.4 50.2h.7M187.7 55.8h.7M198.7 48.4h.7M187.5 51.2h.7M193.2 57.5h.7M183.2 49.9h.7M185.9 51.4h.7M185.3 52.2h.7M205.9 53.4h.7" stroke="#000" stroke-opacity="0.3" stroke-width="0.7"/>
<line x1="183.40" y1="30.40" x2="183.40" y2="100.70" stroke="#333" stroke-width="0.9"/>
<line x1="156.20" y1="72.85" x2="227.10" y2="72.85" stroke="#333" stroke-width="0.9"/>
<path d="M256.3 46.3h.8M255.6 48.6h.8M260.8 44.6h.8M272.1 48.2h.8M254.7 44.6h.8M257.7 43.6h.8M282.7 48.0h.8M274.6 41.9h.8M269.7 49.7h.8M277.8 43.0h.8M277.1 43.3h.8M254.1 45.0h.8M269.9 47.1h.8M277.8 49.1h.8M259.3 41.1h.8M279.7 42.8h.8M273.8 48.3h.8M262.8 41.1h.8M266.8 50.0h.8M265.2 43.3h.8M262.7 41.0h.8M260.7 46.5h.8M254.1 42.2h.8M256.4 43.8h.8M270.4 47.3h.8M280.3 43.8h.8M272.0 42.2h.8M280.2 42.7h.8M264.1 43.7h.8M258.6 47.8h.8M274.5 40.5h.8M274.4 49.6h.8M273.0 43.3h.8M268.8 41.1h.8M277.2 47.4h.8M262.5 46.0h.8M272.3 48.2h.8M268.6 44.3h.8M264.6 49.9h.8M256.7 42.8h.8M263.9 45.8h.8M277.4 44.3h.8M257.6 41.1h.8M279.4 46.0h.8M266.3 44.3h.8M266.3 44.9h.8M263.3 45.9h.8M259.6 42.9h.8M268.7 42.3h.8M260.0 50.4h.8M273.1 43.8h.8M269.9 45.3h.8M264.5 41.9h.8M265.5 43.5h.8M265.2 44.5h.8M256.0 43.0h.8M272.7 42.2h.8M278.1 46.1h.8M254.8 46.1h.8M268.6 43.1h.8M275.3 45.3h.8M258.1 48.5h.8M274.7 45.5h.8M271.6 47.0h.8M281.1 45.1h.8M264.9 46.3h.8M261.6 46.9h.8M259.8 42.0h.8M254.4 41.9h.8M255.5 46.0h.8M255.3 46.2h.8M264.7 46.0h.8M278.3 40.6h.8M279.3 47.9h.8M274.7 46.1h.8M256.3 44.8h.8M259.5 45.4h.8M265.2 45.2h.8M278.4 45.3h.8M255.4 46.7h.8M262.4 42.0h.8M272.6 45.3h.8M257.3 41.4h.8M253.9 44.7h.8M255.1 43.8h.8M272.4 47.2h.8M274.7 44.8h.8M262.2 46.6h.8M262.1 52.4h.8M275.5 42.5h.8M258.3 46.2h.8M275.3 48.6h.8M269.2 47.4h.8M280.3 42.5h.8M279.2 46.7h.8M265.6 48.8h.8M276.0 42.9h.8M264.0 49.8h.8M271.7 48.2h.8M257.8 48.5h.8M258.2 44.2h.8M274.9 46.0h.8M266.0 43.3h.8M263.9 46.4h.8M273.0 45.0h.8M261.2 43.2h.8M254.7 45.6h.8M257.6 46.6h.8M262.4 43.6h.8M272.3 47.6h.8M270.6 48.5h.8M256.7 46.3h.8M273.5 47.6h.8M258.4 49.5h.8M262.5 47.0h.8M258.7 40.9h.8M259.5 42.2h.8M265.2 45.7h.8M270.8 49.0h.8M269.5 48.2h.8M276.3 44.1h.8M281.3 44.6h.8M278.6 45.0h.8M267.5 45.3h.8M272.5 48.2h.8M276.6 46.7h.8M262.6 48.9h.8M262.5 42.8h.8M276.6 45.8h.8M270.0 42.3h.8M252.0 47.4h.8M258.7 49.3h.8M262.7 46.4h.8M263.7 42.3h.8M272.6 49.8h.8M266.2 44.6h.8M272.9 47.9h.8M257.5 44.2h.8M270.4 45.4h.8M269.4 40.5h.8M270.1 43.8h.8M269.6 46.3h.8" stroke="#000" stroke-opacity="0.38" stroke-width="0.8"/>
<path d="M263.1 46.6h.8M272.1 45.1h.8M263.3 48.5h.8M273.8 44.4h.8M275.3 43.6h.8M276.6 45.7h.8M272.5 43.9h.8M266.4 45.0h.8M277.4 46.5h.8M262.3 43.9h.8M256.3 41.5h.8M279.9 46.3h.8M254.7 42.8h.8M265.7 48.5h.8M254.2 45.2h.8M273.6 48.0h.8M267.3 45.6h.8M265.3 49.3h.8M270.4 46.9h.8M271.2 44.4h.8M273.3 45.5h.8M256.8 44.9h.8M257.8 46.8h.8M277.1 42.2h.8M254.7 47.9h.8M257.2 50.0h.8M264.7 44.4h.8M269.9 44.5h.8M270.2 46.1h.8M263.9 48.4h.8M264.7 40.2h.8M274.9 48.4h.8M280.2 47.6h.8M255.7 42.8h.8M270.9 47.0h.8M273.6 40.5h.8M261.4 44.9h.8M272.4 45.6h.8M263.3 43.6h.8M263.1 47.1h.8M264.4 43.0h.8M274.7 49.4h.8M264.0 44.8h.8M270.5 48.7h.8M260.2 41.7h.8M268.1 45.0h.8M258.3 42.6h.8M278.4 45.8h.8M266.6 40.8h.8M255.1 43.5h.8M254.6 44.9h.8M257.9 48.7h.8M267.6 46.8h.8M279.3 44.7h.8M256.0 43.4h.8M257.0 49.2h.8M279.9 45.2h.8M262.0 45.3h.8M267.6 47.5h.8M257.9 45.8h.8M260.7 48.0h.8M273.0 42.3h.8M252.3 44.7h.8M276.5 47.2h.8M267.9 47.6h.8M268.5 42.5h.8M267.9 43.5h.8M271.4 41.8h.8M269.1 49.1h.8M262.3 41.3h.8M273.5 47.1h.8M256.3 43.9h.8M277.9 48.7h.8M269.9 44.9h.8M264.5 48.4h.8M255.6 40.9h.8M279.3 46.9h.8M275.0 46.5h.8M260.9 46.5h.8M269.5 48.0h.8M269.7 49.1h.8M271.5 49.8h.8M280.3 47.0h.8M282.5 45.8h.8M260.2 46.3h.8M273.0 49.3h.8M267.3 45.4h.8M275.0 43.0h.8M261.8 48.8h.8M278.9 47.5h.8M276.9 44.5h.8M269.5 46.0h.8M274.9 48.0h.8M262.2 46.8h.8M268.6 41.9h.8M280.4 48.0h.8M265.3 46.5h.8M265.3 47.3h.8M259.0 41.3h.8M254.9 41.9h.8M263.2 46.3h.8M263.9 40.6h.8M268.9 48.3h.8M276.3 42.7h.8M266.9 47.3h.8M263.6 48.7h.8M263.8 42.6h.8M258.9 49.5h.8M273.3 44.7h.8M256.8 44.3h.8M259.1 48.0h.8M271.9 42.0h.8M265.4 46.9h.8M276.3 45.3h.8M281.9 44.9h.8M272.7 41.8h.8M269.3 49.6h.8M258.9 42.8h.8M261.6 43.5h.8M268.3 39.3h.8M273.8 46.7h.8M262.5 50.5h.8M258.3 43.0h.8M260.3 43.1h.8M268.9 48.6h.8M258.2 46.4h.8M254.5 43.5h.8M263.1 42.3h.8M255.5 46.6h.8M273.5 39.5h.8M262.4 46.9h.8M263.5 44.4h.8M268.0 47.2h.8M272.2 45.9h.8M253.4 43.9h.8M279.6 45.7h.8M274.4 42.8h.8M270.3 40.6h.8M268.4 42.3h.8M272.3 42.7h.8M265.3 47.7h.8" stroke="#000" stroke-opacity="0.38" stroke-width="0.8"/>
<path d="M271.4 47.6h.8M260.0 49.3h.8M258.1 48.3h.8M270.3 49.4h.8M261.6 40.5h.8M257.4 43.5h.8M268.7 41.6h.8M271.6 43.8h.8M267.9 49.0h.8M262.1 48.8h.8M275.4 44.2h.8M278.2 45.7h.8M273.9 42.5h.8M276.1 44.2h.8M267.9 43.0h.8M270.7 40.3h.8M255.1 45.8h.8M260.9 46.4h.8M268.0 48.8h.8M278.4 47.0h.8M276.7 45.9h.8M267.1 43.0h.8M268.3 49.9h.8M277.6 48.3h.8M260.8 48.1h.8M280.2 49.3h.8M256.5 42.2h.8M277.0 47.3h.8M261.1 47.7h.8M279.5 46.8h.8M253.9 45.2h.8M280.4 45.8h.8M265.1 51.2h.8M275.5 47.5h.8M270.4 48.2h.8M265.6 39.7h.8M261.0 48.7h.8M276.3 45.2h.8M252.8 40.5h.8M269.9 39.7h.8M268.9 45.3h.8M276.3 47.2h.8M255.3 41.0h.8M251.6 48.4h.8M253.4 48.9h.8M264.7 48.2h.8M273.3 47.1h.8M266.6 41.8h.8M262.1 41.1h.8M266.5 51.2h.8M261.4 42.2h.8M253.1 48.3h.8M276.2 49.3h.8M275.9 46.5h.8M258.2 48.0h.8M259.2 45.0h.8M263.9 41.3h.8M267.1 43.3h.8M273.7 45.9h.8M259.6 47.4h.8M266.6 42.1h.8M271.3 45.1h.8M280.3 48.7h.8M270.5 46.6h.8M261.6 48.7h.8M270.7 47.3h.8M266.4 40.9h.8M271.7 45.2h.8M261.7 43.8h.8M272.2 42.3h.8M275.2 49.1h.8M274.9 46.1h.8M266.1 41.8h.8M259.2 47.9h.8M269.8 45.3h.8M263.8 47.9h.8M264.2 42.6h.8M257.8 43.1h.8M257.0 48.9h.8M269.5 47.9h.8M262.2 49.1h.8M269.2 41.8h.8M271.5 49.4h.8M260.1 40.8h.8M282.2 43.4h.8M253.0 45.6h.8M275.5 42.3h.8M262.8 44.4h.8M258.8 47.3h.8M272.3 41.2h.8M271.0 48.0h.8M265.1 42.9h.8M274.8 48.4h.8M270.5 44.1h.8M257.3 42.5h.8M270.1 49.3h.8M259.4 43.6h.8M269.1 43.1h.8M255.2 45.4h.8M267.3 44.4h.8M253.7 44.9h.8M268.0 46.2h.8M264.7 48.5h.8M261.4 42.5h.8M269.1 45.4h.8M282.0 44.9h.8M267.0 47.2h.8M265.5 47.7h.8M264.0 43.2h.8M265.8 43.4h.8M273.7 42.5h.8M259.3 46.0h.8M268.6 49.3h.8M274.9 48.0h.8M256.7 44.6h.8M275.0 44.3h.8M274.9 43.6h.8M266.3 42.1h.8M270.2 47.0h.8M270.2 42.2h.8M253.2 45.5h.8M262.4 46.0h.8M268.3 46.2h.8M256.7 43.1h.8M254.8 43.2h.8M270.8 47.1h.8M270.2 48.4h.8M277.7 43.4h.8M268.3 47.0h.8M275.2 47.3h.8M275.3 47.2h.8M277.4 41.7h.8M275.3 48.3h.8M267.0 45.3h.8M252.3 45.6h.8M274.0 46.6h.8M269.1 45.5h.8M269.1 49.6h.8M253.4 43.9h.8M262.7 44.9h.8M259.5 42.5h.8" stroke="#000" stroke-opacity="0.38" stroke-width="0.8"/>
<path d="M271.4 47.4h.8M262.2 46.0h.8M274.7 43.7h.8M268.6 45.1h.8M265.5 43.8h.8M272.3 42.6h.8M269.5 43.8h.8M270.4 47.2h.8M271.1 44.3h.8M274.2 47.8h.8M279.2 45.9h.8M257.2 48.5h.8M255.3 47.0h.8M276.5 47.8h.8M254.3 41.6h.8M261.3 45.8h.8M278.5 47.7h.8M278.7 44.5h.8M261.6 41.9h.8M268.7 45.8h.8M279.3 48.8h.8M278.8 45.7h.8M270.6 45.6h.8M279.4 47.3h.8M261.9 46.2h.8M260.5 47.8h.8M255.1 45.5h.8M266.6 51.1h.8M267.7 44.5h.8M268.0 44.3h.8M275.4 49.5h.8M266.5 45.2h.8M258.1 41.9h.8M257.8 48.1h.8M280.5 45.9h.8M264.7 49.4h.8M266.3 45.6h.8M264.1 47.8h.8M259.9 42.4h.8M269.4 46.4h.8M262.5 46.2h.8M255.7 47.6h.8M266.6 46.9h.8M256.1 41.9h.8M259.6 46.7h.8M281.9 44.4h.8M268.4 46.9h.8M275.7 43.9h.8M266.4 39.8h.8M272.4 47.2h.8M261.0 42.8h.8M269.6 43.4h.8M282.6 47.1h.8M265.0 46.1h.8M262.4 39.9h.8M259.3 47.8h.8M272.1 47.1h.8M254.1 47.1h.8M254.8 46.6h.8M266.3 45.2h.8M275.8 47.6h.8M266.7 43.1h.8M257.2 48.4h.8M275.0 48.7h.8M265.0 41.3h.8M256.5 43.0h.8M269.3 42.2h.8M256.0 47.7h.8M273.5 47.1h.8M271.2 44.5h.8M255.9 45.8h.8M261.6 43.9h.8M262.4 49.1h.8M254.7 49.7h.8M256.4 46.1h.8M279.7 45.6h.8M273.8 45.5h.8M270.0 42.9h.8M273.1 45.7h.8M263.8 49.4h.8M255.9 47.7h.8M271.0 45.3h.8M262.7 41.1h.8M254.7 43.4h.8M271.0 46.6h.8M257.0 48.3h.8M258.1 47.0h.8M259.7 44.7h.8M275.4 44.5h.8M279.2 46.8h.8M279.7 45.5h.8M275.9 45.0h.8M258.2 44.9h.8M277.3 46.0h.8M260.6 49.4h.8M267.8 48.5h.8M252.6 44.7h.8M263.5 43.8h.8M275.7 48.0h.8M259.8 42.4h.8M260.7 43.3h.8M251.9 47.5h.8M267.6 44.6h.8M269.7 42.0h.8M260.9 42.0h.8M267.6 44.9h.8M274.3 44.2h.8M279.1 45.9h.8M256.1 47.6h.8M273.2 45.8h.8M283.2 46.8h.8M260.1 45.1h.8M269.8 41.9h.8M281.8 45.6h.8M253.1 45.4h.8M264.7 42.6h.8M267.5 50.3h.8M261.9 50.5h.8M261.0 48.9h.8M259.0 41.3h.8M257.3 45.7h.8M262.6 42.0h.8M255.1 42.3h.8M275.0 45.7h.8M252.2 42.6h.8M267.0 46.9h.8M275.9 45.0h.8M276.9 47.2h.8M269.7 50.0h.8M260.1 49.1h.8M281.1 43.7h.8M262.6 44.5h.8M271.4 46.3h.8M276.8 44.5h.8M254.0 45.6h.8M270.5 46.8h.8M260.2 42.4h.8M254.9 44.3h.8M280.3 46.4h.8M261.6 43.2h.8M272.6 45.9h.8" stroke="#000" stroke-opacity="0.38" stroke-width="0.8"/>
<path d="M255.0 41.9h.8M279.8 47.2h.8M257.8 42.7h.8M275.8 46.4h.8M262.5 41.8h.8M281.5 42.8h.8M257.4 47.5h.8M262.2 44.4h.8M266.1 50.2h.8M261.5 42.9h.8M274.0 45.8h.8M263.7 42.7h.8M278.9 44.2h.8M265.5 47.1h.8M274.8 44.5h.8M267.6 50.8h.8M270.7 48.6h.8M272.7 41.6h.8M260.9 42.1h.8M277.5 42.3h.8M279.0 47.7h.8M260.5 41.7h.8M264.1 40.4h.8M274.8 45.6h.8M263.1 40.8h.8M262.6 46.8h.8M262.6 46.6h.8M263.4 39.0h.8M269.2 41.6h.8M272.5 45.3h.8M264.5 46.1h.8M264.6 46.9h.8M253.6 42.5h.8M270.7 44.3h.8M270.3 42.3h.8M266.2 42.4h.8M260.6 46.6h.8M270.9 41.9h.8M272.2 44.6h.8M253.1 41.5h.8M277.5 49.1h.8M268.7 43.7h.8M269.3 46.8h.8M272.8 46.5h.8M265.3 41.2h.8M263.7 44.2h.8M281.3 44.9h.8M273.6 47.4h.8M280.0 42.3h.8M259.9 50.8h.8M254.2 46.3h.8M260.2 41.8h.8M261.5 47.5h.8M257.4 42.4h.8M272.6 45.5h.8M264.1 45.1h.8M280.5 45.3h.8M263.6 41.7h.8M282.7 43.8h.8M258.2 43.5h.8M268.6 47.9h.8M266.3 46.8h.8M259.4 44.1h.8M277.0 47.8h.8M264.8 43.9h.8M280.1 43.1h.8M272.7 50.3h.8M276.8 44.5h.8M270.1 43.6h.8M272.0 43.1h.8M280.5 45.2h.8M265.3 48.7h.8M272.1 43.9h.8M273.8 42.8h.8M256.8 46.1h.8M262.9 46.8h.8M263.3 43.1h.8M267.5 43.4h.8M276.7 48.0h.8M275.0 47.6h.8M272.5 47.6h.8M280.9 43.7h.8M256.4 43.0h.8M258.4 42.2h.8M273.5 48.6h.8M281.9 45.9h.8M264.9 43.6h.8M251.7 43.0h.8M267.1 49.5h.8M275.9 46.6h.8M256.2 43.2h.8M255.7 45.3h.8M277.1 42.4h.8M259.5 47.9h.8M262.7 47.5h.8M256.7 46.0h.8M251.7 46.9h.8M274.2 49.0h.8M271.1 50.5h.8M279.7 48.6h.8M271.7 48.5h.8M271.9 51.2h.8M263.9 47.7h.8M259.1 46.7h.8M269.1 47.1h.8M277.6 46.0h.8M272.1 44.8h.8M267.5 48.3h.8M254.9 43.5h.8M266.0 47.7h.8M274.1 44.6h.8M273.4 44.0h.8M262.2 47.4h.8M275.2 44.3h.8M281.0 44.3h.8M268.2 46.9h.8M263.4 47.5h.8M270.3 46.1h.8M275.4 45.9h.8M267.4 40.3h.8M273.4 46.4h.8M263.4 49.0h.8M264.6 44.1h.8M265.4 50.5h.8M257.2 48.0h.8M267.5 41.8h.8M269.3 48.4h.8M280.6 46.3h.8M257.6 46.9h.8M265.6 41.8h.8M261.8 40.1h.8M254.0 44.3h.8M265.5 39.7h.8M267.8 45.8h.8M274.5 48.8h.8M262.7 46.9h.8M267.3 51.9h.8M264.8 44.4h.8M260.8 46.1h.8M276.9 47.9h.8M272.5 45.2h.8" stroke="#000" stroke-opacity="0.38" stroke-width="0.8"/>
<path d="M270.9 46.5h.8M256.6 43.1h.8M264.0 50.2h.8M275.8 42.5h.8M268.8 41.7h.8M274.8 45.3h.8M267.7 48.3h.8M260.6 49.7h.8M254.8 44.2h.8M260.9 44.4h.8M275.4 46.0h.8M271.2 43.9h.8M263.2 41.8h.8M260.4 44.4h.8M257.1 42.4h.8M256.8 44.2h.8M261.5 45.4h.8M274.9 43.6h.8M274.2 45.6h.8M259.3 41.8h.8M271.3 42.9h.8M252.0 45.3h.8M262.3 46.9h.8M275.8 43.4h.8M275.9 40.9h.8M276.0 47.1h.8M266.5 41.8h.8M271.9 49.1h.8M270.2 45.5h.8M255.5 43.7h.8M266.8 43.4h.8M258.5 45.5h.8M266.8 42.0h.8M273.2 45.5h.8M252.0 44.8h.8M263.6 48.3h.8M261.1 42.6h.8M270.4 43.2h.8M263.2 48.2h.8M273.2 47.4h.8M267.1 43.6h.8M279.4 47.1h.8M274.6 47.8h.8M274.3 51.1h.8M256.2 44.0h.8M275.5 42.0h.8M261.4 43.8h.8M266.4 47.7h.8M265.4 49.2h.8M270.2 42.8h.8M270.1 44.8h.8M258.0 46.4h.8M269.3 46.2h.8M258.8 47.5h.8M255.8 49.0h.8M267.4 40.5h.8M278.8 46.5h.8M255.2 45.8h.8M258.6 44.3h.8M276.8 45.7h.8M252.9 45.0h.8M277.9 43.4h.8M253.5 42.8h.8M259.8 46.0h.8M258.8 42.4h.8M255.0 44.2h.8M260.0 49.2h.8M257.9 43.4h.8M266.5 42.8h.8M277.1 48.9h.8M254.7 43.2h.8M270.3 44.3h.8M276.5 47.3h.8M273.8 48.7h.8M258.5 48.9h.8M275.0 44.2h.8M266.0 42.2h.8M257.4 44.7h.8M265.8 41.7h.8M275.6 38.8h.8M281.2 46.2h.8M278.0 47.3h.8M259.1 48.0h.8M261.2 40.6h.8M263.7 46.7h.8M280.0 44.4h.8M257.3 49.1h.8M283.1 45.3h.8M264.4 47.4h.8M254.9 45.9h.8M255.9 41.8h.8M261.1 42.2h.8M254.6 44.8h.8M265.1 42.5h.8M261.3 50.6h.8M265.2 44.3h.8M267.6 50.5h.8M270.6 43.5h.8M270.8 49.8h.8M265.6 49.2h.8M279.5 49.5h.8M269.9 41.5h.8M276.0 41.9h.8M271.1 48.4h.8M277.3 46.0h.8M264.2 50.2h.8M265.7 46.6h.8M262.3 39.7h.8M278.3 48.4h.8M260.7 46.8h.8M262.5 42.5h.8M255.1 44.0h.8M256.3 44.4h.8M274.5 42.4h.8M263.9 45.5h.8M278.0 44.3h.8M273.4 44.0h.8M269.9 45.2h.8M276.0 44.2h.8M266.9 48.7h.8M273.9 46.5h.8M276.4 47.3h.8M276.3 44.8h.8M263.5 48.6h.8M278.9 44.2h.8M277.3 45.0h.8M263.4 46.3h.8M257.9 45.9h.8M269.9 46.7h.8M254.1 43.4h.8M279.9 47.0h.8M262.2 43.9h.8M266.5 45.3h.8M272.2 44.6h.8M277.5 44.5h.8M256.2 43.0h.8M257.1 44.4h.8M276.6 45.8h.8M270.1 45.0h.8M278.7 48.9h.8M277.6 49.9h.8" stroke="#000" stroke-opacity="0.38" stroke-width="0.8"/>
<path d="M271.2 44.3h.8M254.1 47.0h.8M255.3 47.0h.8M275.6 44.8h.8M270.4 42.5h.8M273.3 42.9h.8M276.3 42.9h.8M272.4 49.3h.8M254.8 46.1h.8M257.5 45.5h.8M266.7 44.8h.8M281.1 45.2h.8M270.2 45.5h.8M254.2 43.4h.8M264.8 45.6h.8M279.2 47.5h.8M278.2 43.5h.8M254.7 45.5h.8M274.1 42.5h.8M259.1 48.1h.8M276.8 51.1h.8M271.7 46.4h.8M271.5 43.5h.8M258.0 45.6h.8M270.9 43.0h.8M260.6 41.8h.8M258.5 44.1h.8M267.7 42.6h.8M252.7 44.6h.8M264.0 46.0h.8M271.6 42.1h.8M275.2 41.9h.8M261.3 48.2h.8M267.8 43.9h.8M276.9 45.9h.8M259.1 45.6h.8M271.5 45.3h.8M274.9 42.4h.8M262.5 44.5h.8M265.5 42.8h.8M254.8 47.3h.8M276.7 44.8h.8M269.5 46.4h.8M273.7 45.1h.8M258.6 42.5h.8M261.0 47.0h.8M267.2 45.1h.8M268.0 40.9h.8M264.4 48.5h.8M270.4 44.6h.8M275.1 44.6h.8M271.1 44.1h.8M273.1 52.3h.8M267.8 43.1h.8M270.6 45.6h.8M263.9 41.2h.8M272.5 45.0h.8M279.6 49.4h.8M276.7 48.1h.8M260.9 49.3h.8M263.6 40.5h.8M274.2 48.0h.8M271.8 45.1h.8M274.7 48.1h.8M273.7 44.5h.8M281.1 47.5h.8M258.3 41.0h.8M259.0 42.5h.8M274.9 50.4h.8M275.4 43.0h.8M271.4 44.8h.8M267.7 44.4h.8M274.5 43.5h.8M273.6 49.0h.8M275.4 44.3h.8M264.2 45.6h.8M268.1 49.0h.8M262.9 49.6h.8M264.8 50.4h.8M275.2 45.0h.8M279.9 43.2h.8M275.8 48.3h.8M254.2 45.9h.8M277.9 45.8h.8M276.1 46.7h.8M262.0 43.9h.8M270.4 41.8h.8M255.8 43.9h.8M266.9 48.0h.8M261.9 45.8h.8M262.2 40.4h.8M269.2 41.9h.8M261.2 46.0h.8M253.9 47.3h.8M259.8 41.6h.8M269.9 45.2h.8M272.7 42.6h.8M281.1 46.3h.8M263.5 43.0h.8M262.4 42.1h.8M262.4 41.7h.8M266.0 42.5h.8M254.2 44.9h.8M269.8 42.8h.8M276.4 43.3h.8M276.3 42.9h.8M265.6 44.2h.8M260.0 47.1h.8M280.0 47.4h.8M265.1 45.5h.8M258.0 48.3h.8M270.2 40.7h.8M252.3 44.7h.8M261.2 45.2h.8M251.7 42.8h.8M254.2 44.4h.8M276.5 43.4h.8M263.8 46.8h.8M265.8 44.5h.8M267.2 41.6h.8M262.9 43.8h.8M260.2 43.5h.8M268.7 48.5h.8M279.8 45.8h.8M260.3 45.4h.8M271.6 45.6h.8M265.2 42.2h.8M257.7 47.8h.8M260.9 44.8h.8M258.3 48.1h.8M270.8 46.4h.8M269.1 48.0h.8M272.5 48.5h.8M276.8 45.3h.8M256.9 41.2h.8M271.6 42.9h.8M264.5 47.9h.8M280.1 44.8h.8M258.8 40.3h.8M262.0 42.1h.8M251.8 45.2h.8" stroke="#000" stroke-opacity="0.38" stroke-width="0.8"/>
<path d="M268.6 48.7h.8M272.4 45.3h.8M276.3 44.8h.8M257.5 39.8h.8M263.1 42.1h.8M273.4 46.2h.8M262.7 41.6h.8M257.6 47.3h.8M261.7 42.4h.8M263.8 41.4h.8M260.5 42.3h.8M271.1 50.6h.8M276.1 45.7h.8M281.5 47.4h.8M253.9 46.6h.8M270.9 49.0h.8M275.5 42.0h.8M270.7 49.8h.8M271.2 43.6h.8M253.5 43.5h.8M266.1 46.5h.8M260.8 43.1h.8M261.9 47.4h.8M267.3 40.4h.8M269.2 47.5h.8M252.5 45.7h.8M259.0 45.5h.8M262.8 43.9h.8M269.6 45.1h.8M263.0 48.8h.8M260.7 44.0h.8M274.7 46.1h.8M272.7 48.1h.8M263.9 45.2h.8M258.3 42.2h.8M282.8 48.5h.8M272.6 46.1h.8M259.1 43.3h.8M277.4 47.0h.8M264.6 44.7h.8M266.4 41.9h.8M265.6 43.7h.8M260.5 47.5h.8M259.6 45.6h.8M264.0 47.9h.8M281.8 45.6h.8M257.9 43.7h.8M260.1 44.0h.8M275.6 43.8h.8M276.9 45.1h.8M260.2 44.9h.8M260.7 45.6h.8M268.8 49.8h.8M268.3 50.1h.8M266.3 47.4h.8M254.0 45.1h.8M267.7 45.3h.8M273.3 44.8h.8M275.4 47.1h.8M278.8 43.9h.8M271.0 49.1h.8M262.1 45.3h.8M267.3 44.0h.8M274.8 46.8h.8M275.3 44.8h.8M276.9 49.0h.8M254.5 44.1h.8M267.3 51.4h.8M269.8 41.3h.8M283.3 43.3h.8M254.9 45.1h.8M273.7 47.0h.8M270.6 46.4h.8M261.6 40.2h.8M265.9 47.2h.8M265.9 45.5h.8M277.7 46.2h.8M266.8 43.7h.8M277.6 45.1h.8M267.4 44.8h.8M259.4 47.5h.8M269.0 41.5h.8M268.5 48.8h.8M268.1 41.6h.8M265.1 42.4h.8M275.4 50.2h.8M269.6 50.9h.8M270.1 46.9h.8M262.4 49.2h.8M274.0 45.5h.8M265.4 49.1h.8M253.8 45.3h.8M273.7 49.5h.8M279.8 47.6h.8M272.6 44.5h.8M258.1 48.6h.8M255.7 45.0h.8M273.2 41.4h.8M253.6 41.8h.8M269.6 39.6h.8M266.1 43.4h.8M275.0 46.5h.8M276.9 43.9h.8M255.9 48.1h.8M262.6 42.6h.8M267.5 40.6h.8M253.7 48.0h.8M258.4 48.5h.8M269.9 45.2h.8M260.7 43.0h.8M268.1 48.2h.8M261.0 41.1h.8M268.8 45.9h.8M266.6 47.3h.8M267.5 45.1h.8M264.1 44.4h.8M266.9 46.6h.8M267.5 49.5h.8M270.9 41.9h.8M267.9 47.8h.8M263.0 44.8h.8M258.9 48.2h.8M273.4 46.3h.8M270.6 46.2h.8M267.7 49.3h.8M267.7 46.9h.8M265.7 40.8h.8M271.2 45.3h.8M262.3 45.0h.8M269.5 44.7h.8M278.6 44.9h.8M259.1 50.6h.8M273.4 43.0h.8M270.0 43.0h.8M260.0 44.6h.8M267.2 40.5h.8M259.4 42.3h.8M267.8 49.6h.8M269.0 42.5h.8M260.9 46.0h.8M272.5 42.1h.8" stroke="#000" stroke-opacity="0.38" stroke-width="0.8"/>
<path d="M269.8 42.2h.8M274.2 49.5h.8M274.0 41.8h.8M263.4 45.8h.8M263.8 47.7h.8M254.7 43.3h.8M262.6 42.6h.8M261.6 46.3h.8M269.8 48.9h.8M259.1 45.7h.8M269.3 44.9h.8M271.3 44.9h.8M269.4 45.2h.8M254.9 45.6h.8M272.9 42.2h.8M273.6 42.7h.8M274.8 45.3h.8M251.8 42.8h.8M282.2 43.6h.8M270.5 46.6h.8M259.0 41.9h.8M260.1 40.7h.8M262.4 48.6h.8M261.5 42.5h.8M270.0 48.4h.8M255.9 41.1h.8M259.3 41.2h.8M275.1 43.8h.8M274.8 42.1h.8M269.8 42.7h.8M277.5 44.9h.8M262.2 46.4h.8M267.5 45.4h.8M266.5 44.0h.8M255.1 43.7h.8M274.8 48.6h.8M261.9 49.1h.8M258.9 41.8h.8M271.3 41.3h.8M262.9 42.7h.8M267.2 44.6h.8M279.1 46.7h.8M261.8 46.6h.8M280.3 46.0h.8M280.1 45.7h.8M259.6 46.1h.8M267.3 48.1h.8M271.4 48.4h.8M275.5 43.2h.8M268.7 48.2h.8M261.7 49.4h.8M277.7 42.6h.8M270.1 43.3h.8M261.4 43.7h.8M267.8 41.5h.8M271.4 45.7h.8M278.9 43.5h.8M269.5 47.7h.8M277.0 47.9h.8M275.3 44.6h.8M267.3 44.1h.8M262.4 39.5h.8M267.6 43.1h.8M267.0 47.3h.8M278.5 45.6h.8M256.4 46.2h.8M266.2 43.3h.8M273.5 45.1h.8M260.5 42.9h.8M260.0 47.2h.8M262.8 45.3h.8M273.4 40.2h.8M255.6 44.4h.8M266.4 42.5h.8M268.7 45.9h.8M264.3 44.7h.8M271.1 46.9h.8M275.7 40.6h.8M261.5 47.9h.8M271.8 45.2h.8M258.1 44.6h.8M271.0 42.2h.8M258.0 43.5h.8M267.1 50.6h.8M262.7 43.4h.8M259.1 49.0h.8M273.2 49.2h.8M279.1 49.5h.8M264.7 46.2h.8M271.1 44.1h.8M259.6 45.3h.8M278.1 44.5h.8M257.3 50.0h.8M262.1 47.3h.8M265.8 46.5h.8M268.3 43.0h.8M269.2 46.6h.8M275.4 40.4h.8M279.7 43.1h.8M277.9 42.0h.8M273.9 44.4h.8M262.9 43.2h.8M257.3 43.2h.8M268.6 42.6h.8M262.4 41.0h.8M271.6 39.6h.8M274.3 44.0h.8M262.4 47.2h.8M258.9 42.9h.8M260.2 40.9h.8M255.7 44.4h.8M252.1 44.9h.8M278.5 44.6h.8M267.6 44.2h.8M264.7 47.8h.8M277.4 45.2h.8M255.9 45.1h.8M263.2 50.4h.8M268.7 45.0h.8M253.1 43.8h.8M267.2 45.1h.8M278.9 44.5h.8M259.4 45.0h.8M266.1 43.8h.8M265.4 43.8h.8M253.9 47.0h.8M254.6 43.4h.8M262.4 49.3h.8M257.9 46.1h.8M280.3 41.4h.8M275.7 47.2h.8M263.6 43.4h.8M272.0 47.6h.8M280.1 40.8h.8M273.2 41.3h.8M254.6 44.3h.8M281.9 47.6h.8M260.2 44.1h.8M269.5 43.5h.8M261.0 42.5h.8M266.9 47.4h.8" stroke="#000" stroke-opacity="0.38" stroke-width="0.8"/>
<path d="M260.0 42.4h.8M257.5 46.7h.8M258.4 44.0h.8M261.1 43.2h.8M265.9 46.1h.8M263.9 42.8h.8M272.9 45.8h.8M255.8 44.0h.8M260.5 45.6h.8M270.1 42.1h.8M262.7 48.5h.8M256.8 45.0h.8M266.2 45.9h.8M252.0 46.5h.8M258.3 48.3h.8M254.1 44.9h.8M266.7 47.4h.8M275.3 46.0h.8M269.0 48.3h.8M267.8 41.5h.8M266.5 48.4h.8M265.0 46.3h.8M268.4 41.2h.8M281.1 45.2h.8M260.5 42.8h.8M272.5 44.3h.8M275.6 49.2h.8M258.9 49.6h.8M261.2 42.1h.8M269.0 44.7h.8M256.3 42.3h.8M262.7 46.4h.8M275.0 41.8h.8M275.2 50.1h.8M273.0 45.2h.8M254.3 44.5h.8M267.0 41.9h.8M275.4 45.9h.8M270.3 43.0h.8M272.9 47.4h.8M279.0 46.8h.8M267.3 41.5h.8M274.8 46.5h.8M267.9 42.4h.8M258.3 40.8h.8M270.4 42.0h.8M273.9 42.1h.8M262.3 46.9h.8M261.5 43.2h.8M269.5 44.8h.8M271.4 43.0h.8M274.0 44.8h.8M273.9 50.7h.8M271.3 49.4h.8M264.2 47.5h.8M272.2 43.5h.8M260.8 42.2h.8M268.9 48.3h.8M271.7 42.1h.8M276.8 43.9h.8M258.7 44.7h.8M263.7 47.8h.8M263.7 45.7h.8M278.5 46.0h.8M258.8 47.4h.8M281.8 45.8h.8M263.6 44.5h.8M282.2 46.7h.8M262.6 49.7h.8M281.2 43.1h.8M273.1 43.9h.8M257.2 49.5h.8M258.7 44.9h.8M266.8 48.9h.8M280.5 43.0h.8M269.2 41.9h.8M263.0 43.9h.8M268.0 46.3h.8M269.9 41.8h.8M266.8 44.5h.8M269.2 47.0h.8M257.8 42.4h.8M267.7 47.1h.8M265.4 46.3h.8M260.5 47.9h.8M279.6 46.2h.8M279.9 46.8h.8M272.1 48.2h.8M273.3 43.2h.8M269.7 49.3h.8M271.3 46.9h.8M269.4 41.9h.8M271.9 49.1h.8M258.4 44.4h.8M274.1 45.1h.8M266.6 47.8h.8M276.8 46.9h.8M271.9 48.7h.8M263.3 49.5h.8M263.9 46.5h.8M257.2 46.0h.8M256.3 46.8h.8M258.9 44.0h.8M279.6 47.1h.8M253.0 46.5h.8M272.3 49.5h.8M270.2 40.2h.8M273.5 50.9h.8M255.7 43.4h.8M278.1 45.9h.8M271.9 41.1h.8M256.0 47.3h.8M269.4 47.1h.8M276.1 48.7h.8M267.9 49.9h.8M280.5 47.8h.8M273.8 42.6h.8M267.9 48.1h.8M275.1 42.8h.8M261.0 47.7h.8M266.4 49.5h.8M266.2 46.0h.8M254.4 45.5h.8M259.9 43.9h.8M262.6 45.5h.8M274.9 42.7h.8M255.1 43.5h.8M261.0 41.4h.8M255.8 44.0h.8M261.0 46.3h.8M261.3 39.9h.8M254.7 42.7h.8M257.8 44.4h.8M260.2 45.2h.8M280.1 46.4h.8M271.7 50.5h.8M259.1 42.2h.8M277.3 47.0h.8M256.6 41.8h.8M259.3 44.9h.8M261.1 43.1h.8" stroke="#000" stroke-opacity="0.38" stroke-width="0.8"/>
<path d="M258.6 46.0h.8M275.3 42.7h.8M253.3 42.3h.8M260.3 47.7h.8M269.4 47.3h.8M257.3 40.7h.8M272.0 47.0h.8M270.6 50.1h.8M256.0 42.6h.8M262.3 50.5h.8M255.6 44.2h.8M262.5 43.1h.8M260.5 45.1h.8M280.7 44.1h.8M277.4 44.1h.8M258.6 48.5h.8M276.2 51.2h.8M273.3 48.4h.8M266.3 40.7h.8M253.7 43.1h.8M278.3 43.2h.8M259.0 49.0h.8M257.6 48.1h.8M271.2 42.1h.8M267.6 39.6h.8M255.5 43.9h.8M265.8 44.2h.8M264.5 43.4h.8M271.8 45.7h.8M253.7 46.9h.8M275.3 41.7h.8M271.6 47.5h.8M261.6 46.5h.8M267.8 45.7h.8M278.6 45.2h.8M273.2 42.2h.8M256.5 46.2h.8M261.6 45.2h.8M260.4 41.5h.8M254.7 45.2h.8M257.7 41.3h.8M258.3 46.1h.8M272.4 40.9h.8M278.3 42.2h.8M263.6 44.6h.8M275.1 43.8h.8M261.3 47.2h.8M263.2 49.6h.8M268.3 45.5h.8M275.6 42.4h.8M264.0 44.4h.8M280.1 46.8h.8M267.0 45.6h.8M272.4 46.7h.8M266.8 43.0h.8M278.7 47.6h.8M271.4 43.9h.8M271.6 46.9h.8M269.6 44.3h.8M260.1 40.4h.8M273.3 47.7h.8M263.0 46.0h.8M255.9 46.5h.8M260.5 42.2h.8M274.9 44.2h.8M260.6 41.0h.8M270.0 43.9h.8M281.2 45.6h.8M262.2 42.2h.8M268.1 49.4h.8M276.1 47.6h.8M275.5 41.0h.8M254.4 42.9h.8M262.7 42.5h.8M260.6 42.4h.8M269.7 48.0h.8M267.9 45.5h.8M265.8 44.5h.8M258.7 47.5h.8M269.5 43.3h.8M266.8 44.6h.8M264.6 46.2h.8M275.2 45.0h.8M270.9 43.2h.8M268.8 46.0h.8M260.7 43.1h.8M259.4 48.0h.8M275.1 48.0h.8M272.8 44.5h.8M263.5 46.4h.8M267.7 43.7h.8M269.5 43.6h.8M258.6 45.8h.8M278.7 46.4h.8M261.7 46.2h.8M253.5 43.7h.8M256.1 44.3h.8M275.7 43.9h.8M258.2 44.4h.8M255.1 45.9h.8M279.3 47.7h.8M277.4 45.8h.8M251.8 43.7h.8M263.2 45.9h.8M268.3 46.2h.8M275.0 41.8h.8M260.3 41.0h.8M276.6 47.4h.8M275.0 49.0h.8M277.6 46.5h.8M270.4 47.6h.8M260.7 42.5h.8M275.4 42.2h.8M259.2 45.0h.8M278.6 43.0h.8M266.1 42.1h.8M253.7 45.2h.8M274.5 46.0h.8M268.2 46.0h.8M269.5 47.7h.8M267.3 48.0h.8M275.5 41.7h.8M254.7 45.7h.8M268.8 42.6h.8M270.6 41.6h.8M276.1 42.8h.8M257.9 44.8h.8M265.2 42.2h.8M273.2 47.6h.8M267.5 49.9h.8M263.6 45.2h.8M277.8 47.5h.8M262.3 41.5h.8M262.1 49.8h.8M259.1 42.1h.8M252.8 43.0h.8M261.3 43.8h.8M260.0 44.5h.8M264.7 48.3h.8M259.6 46.5h.8M262.6 46.3h.8" stroke="#000" stroke-opacity="0.38" stroke-width="0.8"/>
<path d="M269.0 49.1h.8M273.7 44.0h.8M258.0 45.2h.8M276.6 43.4h.8M273.4 44.1h.8M265.1 46.8h.8M269.7 39.6h.8M253.1 42.1h.8M275.6 44.6h.8M263.4 46.9h.8M265.2 46.1h.8M266.0 49.7h.8M272.2 43.7h.8M261.7 48.1h.8M253.9 46.4h.8M273.9 47.6h.8M274.1 41.0h.8M277.1 48.2h.8M254.2 43.1h.8M267.1 44.9h.8M269.4 45.4h.8M272.5 43.2h.8M275.2 46.1h.8M265.2 45.7h.8M270.8 42.3h.8M273.4 42.7h.8M252.9 44.7h.8M260.8 44.7h.8M275.3 44.5h.8M269.2 41.7h.8M279.4 43.3h.8M252.3 47.6h.8M256.1 48.3h.8M276.4 41.6h.8M274.8 42.9h.8M270.4 41.1h.8M263.6 45.9h.8M261.0 42.9h.8M267.1 43.7h.8M258.3 40.9h.8M271.6 40.6h.8M271.2 48.7h.8M272.0 48.4h.8M279.4 44.3h.8M266.0 42.6h.8M259.3 43.7h.8M272.5 42.3h.8M267.3 42.7h.8M264.7 46.0h.8M264.9 50.5h.8M256.8 48.8h.8M273.9 42.5h.8M266.1 43.4h.8M270.1 43.0h.8M271.8 47.7h.8M264.8 44.9h.8M260.5 44.1h.8M261.9 48.1h.8M277.3 43.5h.8M257.0 42.8h.8M273.9 46.3h.8M255.5 47.3h.8M262.1 47.6h.8M264.7 40.8h.8M282.4 45.4h.8M266.6 47.1h.8M268.9 48.9h.8M256.7 43.3h.8M263.7 40.8h.8M280.7 46.1h.8M274.1 42.3h.8M269.5 44.0h.8M276.9 43.0h.8M257.7 47.7h.8M283.4 46.0h.8M280.6 45.3h.8M278.8 43.3h.8M268.7 42.7h.8M268.2 45.1h.8M273.0 43.6h.8M265.7 40.5h.8M268.6 43.1h.8M271.9 41.1h.8M264.8 41.6h.8M278.6 46.2h.8M262.2 48.2h.8M267.3 43.7h.8M256.3 42.7h.8M258.9 47.6h.8M264.6 40.2h.8M259.6 46.8h.8M257.4 44.0h.8M257.3 44.9h.8M267.2 45.6h.8M261.2 46.2h.8M278.1 46.8h.8M252.9 43.9h.8M269.6 45.3h.8M259.6 46.4h.8M276.6 46.9h.8M279.8 47.7h.8M267.4 48.0h.8M269.7 49.0h.8M259.2 41.7h.8M252.2 45.5h.8M265.1 44.4h.8M261.6 47.7h.8M271.7 49.0h.8M277.6 45.4h.8M276.2 41.2h.8M266.5 49.0h.8M274.2 41.1h.8M255.7 45.4h.8M275.0 51.0h.8M275.4 48.6h.8M267.1 42.2h.8M268.3 46.7h.8M259.1 46.9h.8M262.0 41.9h.8M265.9 45.2h.8M258.1 41.8h.8M280.4 48.2h.8M258.0 47.7h.8M262.0 47.4h.8M263.8 45.2h.8M275.3 48.0h.8M268.3 46.4h.8M267.6 48.9h.8M253.8 41.4h.8M274.3 44.4h.8M267.4 45.0h.8M270.5 44.3h.8M276.8 44.9h.8M265.3 45.2h.8M259.8 47.6h.8M260.7 46.3h.8M276.3 41.7h.8M279.2 46.2h.8M256.1 42.7h.8M269.9 48.0h.8M272.7 44.2h.8" stroke="#000" stroke-opacity="0.38" stroke-width="0.8"/>
<path d="M261.0 40.5h.8M263.0 48.5h.8M267.8 45.7h.8M277.4 43.5h.8M261.8 45.2h.8M271.2 47.6h.8M277.1 43.8h.8M265.4 44.6h.8M268.8 43.1h.8M257.7 42.4h.8M257.4 44.5h.8M262.0 43.6h.8M271.0 45.4h.8M258.9 44.6h.8M257.3 45.0h.8M267.6 48.9h.8M260.8 46.0h.8M275.8 45.8h.8M260.0 46.9h.8M267.4 46.5h.8M260.6 46.0h.8M271.5 46.9h.8M260.1 46.4h.8M266.6 47.1h.8M270.9 48.9h.8M257.2 42.2h.8M274.2 47.5h.8M261.8 44.5h.8M258.1 41.4h.8M261.0 46.5h.8M257.6 44.5h.8M263.2 43.6h.8M263.0 43.3h.8M272.0 43.6h.8M263.5 45.1h.8M272.4 45.9h.8M264.2 43.4h.8M262.4 44.9h.8M253.6 47.2h.8M263.2 43.1h.8M267.1 47.7h.8M265.9 44.2h.8M266.1 46.7h.8M262.8 41.8h.8M267.3 45.0h.8M265.0 46.0h.8M261.7 41.9h.8M256.7 44.5h.8M272.9 46.0h.8M252.9 44.6h.8M269.1 46.2h.8M273.5 40.1h.8M255.9 43.5h.8M265.8 43.5h.8M263.0 42.2h.8M259.3 44.4h.8M262.8 44.0h.8M262.3 46.0h.8M259.4 46.0h.8M253.9 43.0h.8M259.0 44.7h.8M261.4 46.2h.8M269.3 44.7h.8M262.1 46.7h.8M259.9 44.7h.8M262.8 46.1h.8M256.8 42.3h.8M260.1 44.8h.8M263.8 43.9h.8M263.5 44.4h.8M266.2 43.3h.8M259.4 46.3h.8" stroke="#000" stroke-opacity="0.42" stroke-width="0.8"/>
<path d="M267.4 43.7h.8M270.0 47.8h.8M263.1 43.0h.8M262.0 43.4h.8M261.3 44.6h.8M274.0 42.8h.8M277.9 39.1h.8M260.7 46.6h.8M264.7 43.2h.8M265.7 47.1h.8M257.9 43.5h.8M260.5 42.8h.8M260.1 44.5h.8M261.4 45.1h.8M273.2 41.4h.8M269.7 45.1h.8M254.0 45.1h.8M264.3 45.3h.8M265.4 43.4h.8M261.5 44.0h.8M262.5 45.0h.8M263.5 44.2h.8M262.6 44.4h.8M273.1 46.1h.8M272.5 45.0h.8M275.1 43.9h.8M271.0 48.2h.8M262.2 48.0h.8M265.9 46.6h.8M264.5 48.2h.8M282.4 46.0h.8M273.6 45.2h.8M268.0 42.5h.8M258.5 49.1h.8M256.1 46.1h.8M271.9 48.5h.8M273.5 42.8h.8M265.1 44.2h.8M262.7 45.9h.8M253.1 47.4h.8M270.3 44.7h.8M270.1 47.9h.8M267.7 45.8h.8M263.7 50.0h.8M270.1 48.2h.8M276.4 46.4h.8M275.3 43.9h.8M265.1 43.1h.8M261.5 44.5h.8M275.5 46.0h.8M270.5 47.1h.8M260.9 47.4h.8M272.5 42.8h.8M275.4 40.9h.8M262.3 41.5h.8M260.1 47.2h.8M265.1 48.1h.8M252.7 42.2h.8M273.5 42.3h.8M265.6 44.8h.8M274.7 43.7h.8M263.8 42.9h.8M261.5 44.7h.8M264.8 46.5h.8M269.0 45.4h.8M254.6 45.9h.8M265.3 45.8h.8M261.6 44.8h.8M275.1 48.6h.8M270.1 44.5h.8M271.9 48.5h.8M263.9 49.8h.8" stroke="#000" stroke-opacity="0.42" stroke-width="0.8"/>
<path d="M265.8 44.5h.8M268.3 47.4h.8M267.7 44.2h.8M266.3 42.5h.8M255.6 41.4h.8M269.7 42.2h.8M270.6 43.4h.8M265.9 45.8h.8M262.3 45.8h.8M255.3 44.7h.8M261.4 43.1h.8M273.2 45.9h.8M266.1 44.6h.8M269.7 44.8h.8M268.8 45.1h.8M277.7 45.7h.8M266.0 48.3h.8M278.9 46.1h.8M267.1 45.6h.8M255.8 47.9h.8M262.9 43.8h.8M258.9 46.6h.8M270.1 46.4h.8M262.8 40.9h.8M258.1 44.9h.8M276.9 41.4h.8M254.3 46.4h.8M275.3 47.2h.8M261.0 44.3h.8M264.6 45.4h.8M256.7 45.5h.8M271.5 44.3h.8M260.4 45.9h.8M274.4 45.1h.8M257.6 46.8h.8M263.2 43.3h.8M266.5 46.1h.8M272.0 46.3h.8M268.9 43.4h.8M271.5 43.7h.8M277.6 47.3h.8M262.9 47.4h.8M264.6 48.9h.8M253.1 41.9h.8M261.6 45.5h.8M265.2 47.8h.8M262.8 44.7h.8M263.7 46.0h.8M260.9 50.4h.8M272.1 43.7h.8M271.1 46.4h.8M258.6 47.4h.8M268.1 47.4h.8M268.7 41.2h.8M265.7 41.7h.8M279.1 45.6h.8M265.1 43.1h.8M261.3 42.8h.8M261.8 45.6h.8M264.8 50.2h.8M268.9 43.0h.8M268.9 46.6h.8M265.2 46.5h.8M279.9 46.7h.8M270.4 43.5h.8M268.8 43.7h.8M259.3 42.5h.8M269.1 45.4h.8M263.9 44.5h.8M274.4 47.5h.8M257.7 39.9h.8M269.9 46.0h.8" stroke="#000" stroke-opacity="0.42" stroke-width="0.8"/>
<path d="M267.3 45.2h.8M252.2 43.3h.8M257.2 46.5h.8M267.0 46.5h.8M261.3 46.9h.8M263.0 44.6h.8M277.9 43.2h.8M273.2 44.8h.8M252.0 43.3h.8M253.9 43.6h.8M261.6 48.1h.8M276.8 44.0h.8M262.1 44.5h.8M263.4 47.0h.8M262.9 45.5h.8M266.4 46.0h.8M259.1 45.8h.8M271.1 44.1h.8M257.8 46.4h.8M261.6 43.6h.8M264.7 47.0h.8M270.1 47.0h.8M265.1 45.5h.8M266.0 44.7h.8M263.7 45.5h.8M268.8 46.4h.8M256.9 49.7h.8M275.0 44.4h.8M256.2 46.4h.8M265.3 41.5h.8M259.5 48.0h.8M253.9 42.5h.8M260.4 45.7h.8M269.7 45.7h.8M265.4 44.2h.8M269.6 43.8h.8M263.3 44.5h.8M263.1 41.7h.8M275.8 45.2h.8M274.4 44.9h.8M264.1 44.8h.8M256.4 45.5h.8M263.5 44.3h.8M270.0 46.3h.8M268.8 42.8h.8M258.5 42.4h.8M269.1 46.6h.8M257.6 47.3h.8M263.5 45.0h.8M253.5 43.6h.8M258.5 46.9h.8M260.3 47.3h.8M270.8 45.9h.8M252.8 42.4h.8M267.9 46.9h.8M258.7 44.9h.8M267.8 44.9h.8M262.2 45.9h.8M262.1 43.9h.8M257.9 40.4h.8M263.1 46.7h.8M258.9 44.3h.8M261.4 42.6h.8M277.4 46.2h.8M257.5 42.1h.8M261.0 46.5h.8M257.6 46.5h.8M253.7 44.8h.8M260.4 41.6h.8M259.8 46.6h.8M260.9 44.1h.8M263.8 44.0h.8" stroke="#000" stroke-opacity="0.42" stroke-width="0.8"/>
<path d="M261.9 46.0h.8M252.3 49.4h.8M252.6 43.9h.8M258.4 43.3h.8M269.2 41.3h.8M268.3 45.6h.8M271.3 43.0h.8M269.7 44.2h.8M258.3 45.2h.8M275.2 45.3h.8M251.8 42.5h.8M264.3 44.5h.8M253.5 48.4h.8M265.9 46.9h.8M255.7 40.6h.8M261.6 42.8h.8M259.4 43.9h.8M260.9 42.9h.8M268.6 44.7h.8M259.5 45.4h.8M259.8 44.3h.8M261.7 44.3h.8M275.9 44.7h.8M273.1 47.5h.8M257.8 48.0h.8M258.0 44.1h.8M257.2 42.6h.8M273.7 44.9h.8M259.8 44.7h.8M267.9 42.8h.8M266.0 47.5h.8M260.3 44.6h.8M276.7 43.0h.8M260.3 46.4h.8M274.3 44.2h.8M262.1 47.9h.8M262.1 47.1h.8M273.5 44.1h.8M265.5 44.2h.8M267.2 47.6h.8M256.7 44.7h.8M255.1 45.4h.8M268.2 48.3h.8M266.5 42.0h.8M273.4 41.3h.8M268.7 45.4h.8M263.1 47.3h.8M255.9 44.7h.8M258.8 44.1h.8M273.4 43.0h.8M257.5 49.7h.8M268.0 44.2h.8M262.2 42.2h.8M267.8 43.5h.8M252.0 46.2h.8M269.1 45.5h.8M271.6 43.2h.8M271.0 47.7h.8M278.3 43.1h.8M268.6 43.8h.8M254.8 45.5h.8M262.5 41.5h.8M258.3 42.9h.8M258.7 47.9h.8M264.1 44.5h.8M259.4 42.7h.8M255.4 47.2h.8M263.1 45.7h.8M259.1 44.0h.8M275.0 46.3h.8M265.7 45.2h.8M257.7 42.1h.8" stroke="#000" stroke-opacity="0.42" stroke-width="0.8"/>
<path d="M269.7 40.5h.8M265.1 44.7h.8M269.3 46.9h.8M253.4 45.1h.8M262.5 43.7h.8M272.6 43.8h.8M256.0 46.6h.8M268.1 46.0h.8M258.8 45.7h.8M262.1 45.1h.8M257.3 44.1h.8M264.0 44.5h.8M272.4 48.0h.8M264.8 42.4h.8M277.0 44.4h.8M264.8 44.4h.8M271.9 46.0h.8M262.7 43.6h.8M270.5 42.7h.8M260.1 45.0h.8M266.5 43.5h.8M265.8 47.5h.8M266.7 45.9h.8M267.3 47.7h.8M259.0 46.4h.8M256.7 45.1h.8M271.7 46.2h.8M265.5 45.5h.8M262.6 41.4h.8M261.2 49.7h.8M265.0 49.1h.8M264.3 46.0h.8M273.7 43.6h.8M266.0 47.6h.8M271.1 45.2h.8M267.8 47.2h.8M267.1 44.8h.8M256.7 47.6h.8M268.9 47.0h.8M260.6 43.5h.8M262.4 45.5h.8M259.7 45.5h.8M274.0 45.1h.8M270.8 42.4h.8M273.5 44.0h.8M264.9 46.9h.8M257.6 46.4h.8M266.3 51.4h.8M268.2 43.8h.8M258.3 47.2h.8M265.9 46.2h.8M258.5 44.7h.8M264.9 45.9h.8M259.0 43.1h.8M260.5 47.2h.8M262.7 45.4h.8M269.9 43.0h.8M268.7 43.4h.8M265.7 43.8h.8M253.9 45.9h.8M260.3 46.6h.8M264.1 46.1h.8M268.6 42.9h.8M258.4 46.8h.8M263.7 49.0h.8M268.1 45.7h.8M252.1 45.5h.8M264.1 44.8h.8M263.7 43.0h.8M257.4 44.5h.8M267.8 50.6h.8M278.8 47.1h.8" stroke="#000" stroke-opacity="0.42" stroke-width="0.8"/>
<path d="M264.1 43.8h.8M258.6 43.0h.8M261.2 45.1h.8M256.0 43.7h.8M265.9 42.8h.8M269.8 45.8h.8M269.9 43.6h.8M260.1 42.0h.8M257.9 44.0h.8M265.9 44.8h.8M270.9 46.4h.8M262.7 41.1h.8M263.0 45.2h.8M256.1 41.7h.8M270.1 47.2h.8M257.9 45.2h.8M265.0 49.9h.8M270.8 46.3h.8M269.2 44.6h.8M265.1 47.7h.8M270.0 46.4h.8M266.4 45.5h.8M254.3 41.2h.8M263.5 44.9h.8M265.5 42.9h.8M273.1 47.0h.8M264.1 45.3h.8M254.6 43.8h.8M283.1 41.9h.8M255.2 45.2h.8M266.8 45.6h.8M255.2 45.5h.8M257.4 45.5h.8M265.1 43.6h.8M263.9 47.0h.8M254.5 45.1h.8M256.3 45.3h.8M267.4 41.0h.8M260.1 46.2h.8M251.8 45.6h.8M261.0 46.2h.8M256.2 45.5h.8M269.9 46.1h.8M272.0 45.5h.8M256.9 44.1h.8M261.7 44.8h.8M259.6 46.4h.8M251.7 45.6h.8M258.3 43.9h.8M262.1 44.6h.8M255.3 47.1h.8M272.0 45.0h.8M260.3 43.0h.8M253.3 43.1h.8M259.6 44.3h.8M268.5 46.0h.8M265.4 46.2h.8M267.0 43.7h.8M262.5 40.2h.8M261.6 42.9h.8M268.2 43.0h.8M276.8 45.2h.8M273.9 45.1h.8M267.9 43.2h.8M256.0 44.4h.8M268.9 45.0h.8M268.4 47.4h.8M271.0 42.8h.8M276.0 40.7h.8M261.7 45.3h.8M260.4 44.4h.8M269.2 45.9h.8" stroke="#000" stroke-opacity="0.42" stroke-width="0.8"/>
<path d="M256.1 47.6h.8M263.3 45.1h.8M267.6 44.8h.8M260.9 43.6h.8M270.3 44.6h.8M263.9 42.6h.8M280.7 44.4h.8M255.0 43.1h.8M268.1 45.6h.8M255.6 42.6h.8M267.2 45.4h.8M262.0 46.4h.8M267.9 46.6h.8M271.8 45.8h.8M265.9 45.9h.8M262.5 43.8h.8M267.7 42.6h.8M263.1 43.9h.8M257.4 43.8h.8M255.4 45.6h.8M256.5 46.7h.8M258.3 45.9h.8M264.9 46.7h.8M258.2 44.4h.8M264.4 45.1h.8M266.8 47.2h.8M268.2 48.4h.8M262.8 45.7h.8M264.7 43.4h.8M265.9 45.3h.8M256.8 44.2h.8M255.4 43.6h.8M271.1 43.6h.8M260.9 44.2h.8M267.0 45.0h.8M271.7 42.4h.8M267.7 44.9h.8M252.3 44.2h.8M260.9 42.6h.8M267.2 46.8h.8M263.4 41.9h.8M264.8 43.9h.8M264.6 46.4h.8M259.2 41.8h.8M262.2 43.0h.8M266.7 46.3h.8M259.3 44.1h.8M281.6 43.8h.8M261.4 45.3h.8M266.6 45.2h.8M272.1 41.9h.8M259.2 51.6h.8M269.9 42.9h.8M256.8 44.3h.8M261.2 47.3h.8M277.7 38.8h.8M262.6 46.1h.8M266.9 42.7h.8M269.4 44.4h.8M254.0 44.6h.8M262.3 45.2h.8M261.2 44.5h.8M262.6 47.4h.8M258.4 44.5h.8M260.2 43.1h.8M271.1 46.0h.8M260.8 43.4h.8M279.1 43.9h.8M262.9 46.7h.8M264.3 44.4h.8M267.4 41.4h.8M265.4 47.5h.8" stroke="#000" stroke-opacity="0.42" stroke-width="0.8"/>
<path d="M270.6 42.9h.8M254.0 44.9h.8M258.4 45.9h.8M269.7 48.2h.8M267.9 46.7h.8M267.9 45.6h.8M274.8 43.0h.8M267.8 44.7h.8M264.9 44.9h.8M277.9 43.5h.8M280.5 42.8h.8M267.9 47.5h.8M257.0 44.9h.8M260.6 43.0h.8M268.8 48.1h.8M251.6 44.7h.8M262.5 44.9h.8M266.0 46.3h.8M272.0 43.9h.8M259.1 44.2h.8M270.4 42.7h.8M267.7 43.2h.8M265.4 44.0h.8M265.5 47.1h.8M262.7 46.6h.8M263.6 42.4h.8M259.0 43.9h.8M263.0 43.3h.8M262.2 47.8h.8M263.9 43.9h.8M266.6 44.0h.8M281.9 47.5h.8M258.8 44.1h.8M254.6 43.9h.8M263.1 45.4h.8M265.3 45.8h.8M274.0 41.2h.8M255.1 44.7h.8M261.7 46.2h.8M268.2 45.2h.8M260.5 43.2h.8M258.4 42.7h.8M268.4 45.3h.8M261.7 44.9h.8M254.3 44.0h.8M270.9 45.3h.8M274.3 42.8h.8M271.6 45.4h.8M260.5 44.6h.8M261.8 45.5h.8M260.0 44.1h.8M252.8 44.5h.8M266.9 44.0h.8M261.0 40.1h.8M263.9 43.8h.8M257.7 43.6h.8M259.0 46.9h.8M272.6 45.6h.8M256.4 48.1h.8M263.8 41.2h.8M252.2 45.6h.8M267.5 46.4h.8M260.7 44.2h.8M266.2 47.5h.8M273.1 44.9h.8M269.2 45.0h.8M253.8 46.8h.8M256.6 46.6h.8M255.7 42.1h.8M270.1 47.8h.8M269.9 43.9h.8M257.6 45.7h.8" stroke="#000" stroke-opacity="0.42" stroke-width="0.8"/>
<path d="M256.0 46.6h.8M266.5 44.8h.8M265.0 45.2h.8M265.6 42.9h.8M274.4 45.0h.8M269.4 44.9h.8M257.2 45.2h.8M261.8 45.9h.8M270.9 47.7h.8M272.2 43.6h.8M255.9 44.9h.8M263.3 45.9h.8M259.3 48.4h.8M266.4 44.7h.8M267.3 47.5h.8M276.1 46.8h.8M275.0 43.2h.8M265.0 43.0h.8M261.5 43.7h.8M275.2 46.3h.8M259.2 44.9h.8M276.1 43.2h.8M259.5 46.6h.8M258.9 46.6h.8M260.7 50.0h.8M261.3 43.7h.8M259.9 44.9h.8M255.8 45.0h.8M267.3 45.2h.8M277.8 41.0h.8M281.3 45.0h.8M261.4 48.6h.8M258.9 45.4h.8M269.4 42.0h.8M264.5 44.3h.8M258.9 44.7h.8M281.4 44.6h.8M282.3 51.0h.8M267.8 47.2h.8M272.1 43.0h.8M255.1 44.5h.8M261.3 45.8h.8M276.2 44.3h.8M263.2 43.9h.8M270.7 45.9h.8M265.9 40.2h.8M255.7 46.2h.8M253.9 45.8h.8M258.7 47.5h.8M258.9 44.9h.8M259.4 47.8h.8M267.7 42.9h.8M252.0 48.2h.8M259.1 47.3h.8M261.6 46.7h.8M268.9 45.2h.8M259.6 43.4h.8M261.2 42.1h.8M261.2 43.6h.8M270.1 42.3h.8M272.7 47.3h.8M257.2 45.2h.8M268.7 46.3h.8M263.9 48.7h.8M272.4 42.7h.8M274.0 44.0h.8M262.9 44.1h.8M271.4 47.5h.8M264.1 44.5h.8M260.2 42.1h.8M254.3 43.4h.8M262.9 45.3h.8" stroke="#000" stroke-opacity="0.42" stroke-width="0.8"/>
<path d="M259.5 44.3h.8M268.2 43.3h.8M271.6 45.6h.8M260.1 45.4h.8M271.2 45.8h.8M262.1 45.8h.8M256.8 45.9h.8M269.0 47.8h.8M261.3 43.6h.8M272.9 46.4h.8M265.3 44.5h.8M276.1 47.6h.8M267.6 44.9h.8M266.1 43.3h.8M261.9 44.2h.8M271.4 45.0h.8M266.9 46.9h.8M262.4 44.1h.8M258.5 46.9h.8M261.3 46.0h.8M261.4 46.4h.8M270.4 44.6h.8M261.9 41.9h.8M280.1 42.4h.8M271.8 43.2h.8M264.6 45.6h.8M264.0 42.4h.8M255.6 42.6h.8M266.7 43.5h.8M256.7 48.0h.8M258.6 47.0h.8M273.8 46.8h.8M258.9 44.5h.8M261.3 40.3h.8M256.6 39.8h.8M275.7 41.4h.8M255.9 41.5h.8M263.7 46.6h.8M259.2 44.4h.8M266.7 46.1h.8M270.4 42.8h.8M263.1 45.4h.8M273.9 49.3h.8M262.6 46.8h.8M273.5 43.8h.8M272.6 41.9h.8M262.1 44.2h.8M257.7 45.2h.8M264.5 44.4h.8M268.5 42.9h.8M279.1 42.9h.8M263.8 44.2h.8M268.1 46.1h.8M260.3 44.8h.8M269.0 48.2h.8M269.1 41.9h.8M262.3 44.7h.8M265.1 43.7h.8M257.3 46.9h.8M273.0 45.5h.8M259.1 44.0h.8M267.8 40.8h.8M256.3 49.7h.8M269.6 43.6h.8M276.8 49.5h.8M268.6 42.5h.8M260.9 45.5h.8M274.1 45.9h.8M259.5 48.3h.8M266.8 45.1h.8M267.9 46.8h.8" stroke="#000" stroke-opacity="0.42" stroke-width="0.8"/>
<path d="M271.8 44.1h.8M266.1 46.8h.8M260.6 45.3h.8M273.6 47.3h.8M260.4 45.6h.8M267.1 46.4h.8M260.0 43.1h.8M259.7 46.1h.8M256.6 48.4h.8M262.4 49.0h.8M258.0 42.4h.8M260.8 43.8h.8M273.6 44.9h.8M256.2 48.1h.8M264.5 45.8h.8M271.2 43.7h.8M258.3 45.2h.8M268.0 41.3h.8M279.3 47.7h.8M263.8 47.2h.8M270.7 46.2h.8M265.1 43.5h.8M268.7 45.5h.8M262.2 45.1h.8M265.7 45.2h.8M275.9 43.0h.8M266.0 42.5h.8M263.2 45.4h.8M252.4 42.4h.8M267.7 43.5h.8M260.2 45.8h.8M274.2 44.5h.8M266.4 44.2h.8M259.9 45.8h.8M263.1 44.5h.8M267.2 44.1h.8M270.0 46.2h.8M270.2 44.8h.8M264.5 46.3h.8M263.2 48.5h.8M285.0 43.8h.8M273.0 44.4h.8M278.9 45.6h.8M257.7 44.6h.8M261.5 44.4h.8M263.7 50.1h.8M263.0 49.3h.8M253.4 46.5h.8M265.9 44.9h.8M262.4 42.7h.8M271.2 44.5h.8M253.5 45.9h.8M253.9 44.7h.8M258.5 43.5h.8M258.7 41.0h.8M261.6 46.1h.8M257.3 46.4h.8M264.9 43.4h.8M263.4 44.2h.8M261.9 45.5h.8M256.6 43.8h.8M272.8 44.4h.8M267.3 42.3h.8M259.2 45.1h.8M257.6 44.9h.8M263.8 43.9h.8M264.0 47.3h.8M264.3 45.7h.8M274.4 46.3h.8M267.1 43.7h.8M273.1 46.0h.8" stroke="#000" stroke-opacity="0.42" stroke-width="0.8"/>
<path d="M264.0 55.7h.7M264.7 58.0h.7M272.1 59.0h.7M267.4 56.9h.7M270.4 51.7h.7M273.5 59.8h.7M263.1 53.8h.7M267.0 55.9h.7M273.0 57.1h.7M275.8 48.9h.7M273.2 57.6h.7M276.1 56.1h.7M267.6 53.9h.7M272.7 50.0h.7M270.3 51.9h.7M276.7 46.8h.7M275.2 56.9h.7M265.0 59.0h.7M264.0 51.2h.7M270.0 51.8h.7M266.5 51.2h.7M279.1 53.3h.7M263.1 50.5h.7M279.0 54.1h.7M276.2 55.8h.7M275.9 59.3h.7M276.4 53.1h.7M277.6 53.8h.7M264.5 49.0h.7M265.2 52.3h.7" stroke="#000" stroke-opacity="0.3" stroke-width="0.7"/>
<path d="M269.6 46.8h.7M265.5 61.6h.7M267.7 59.3h.7M272.7 55.8h.7M276.8 54.5h.7M268.7 50.9h.7M261.2 50.8h.7M268.6 54.9h.7M276.9 49.8h.7M268.1 46.8h.7M260.7 52.4h.7M269.8 52.5h.7M276.2 56.2h.7M269.0 57.3h.7M268.9 57.9h.7M270.2 59.5h.7M262.7 52.8h.7M262.6 51.4h.7M265.3 59.6h.7M274.9 59.6h.7M265.9 51.5h.7M259.9 56.5h.7M271.4 53.8h.7M272.4 54.6h.7M274.8 60.5h.7M272.2 58.1h.7M260.8 49.2h.7M267.4 47.2h.7M270.8 57.7h.7" stroke="#000" stroke-opacity="0.3" stroke-width="0.7"/>
<path d="M277.0 63.1h.7M274.6 60.7h.7M262.8 55.5h.7M268.5 48.1h.7M270.6 55.6h.7M272.6 45.7h.7M263.0 50.8h.7M266.9 56.7h.7M278.4 57.6h.7M268.2 51.9h.7M267.8 46.6h.7M267.6 53.9h.7M277.8 59.9h.7M258.2 51.0h.7M265.2 53.2h.7M261.7 55.2h.7M259.2 59.2h.7M272.1 54.2h.7M271.2 57.5h.7M263.6 55.6h.7M256.3 60.4h.7M276.2 54.5h.7M281.1 52.5h.7M273.2 54.6h.7M254.2 57.9h.7M261.5 52.4h.7M275.6 56.6h.7M267.0 51.6h.7M278.7 50.0h.7" stroke="#000" stroke-opacity="0.3" stroke-width="0.7"/>
<path d="M263.4 58.9h.7M264.6 50.4h.7M262.0 55.3h.7M269.2 49.2h.7M271.3 48.7h.7M270.1 53.5h.7M266.6 53.2h.7M262.5 56.1h.7M256.9 62.6h.7M273.6 52.1h.7M272.9 55.4h.7M272.8 54.1h.7M260.3 55.1h.7M265.9 52.8h.7M264.0 55.2h.7M276.3 58.8h.7M265.8 58.9h.7M269.6 48.4h.7M254.7 53.8h.7M259.1 55.6h.7M271.3 63.1h.7M271.1 57.8h.7M273.5 60.8h.7M261.3 55.2h.7M266.1 55.9h.7M277.8 51.9h.7M273.7 53.8h.7M275.0 56.5h.7M266.8 52.2h.7" stroke="#000" stroke-opacity="0.3" stroke-width="0.7"/>
<path d="M262.7 52.2h.7M257.4 57.0h.7M263.4 54.5h.7M269.8 45.1h.7M277.4 54.7h.7M271.2 48.3h.7M263.6 58.3h.7M260.7 54.6h.7M279.1 49.7h.7M264.2 53.4h.7M271.6 48.3h.7M274.4 46.5h.7M265.6 47.5h.7M265.2 54.9h.7M267.7 50.3h.7M267.6 61.2h.7M273.6 50.5h.7M268.4 52.5h.7M267.9 56.7h.7M262.6 53.4h.7M265.2 56.3h.7M278.4 56.3h.7M267.6 57.9h.7M271.8 55.6h.7M270.1 50.2h.7M267.3 47.4h.7M274.3 59.1h.7M277.7 58.1h.7M277.8 56.5h.7" stroke="#000" stroke-opacity="0.3" stroke-width="0.7"/>
<path d="M280.5 55.1h.7M261.9 59.8h.7M273.3 50.6h.7M278.5 61.9h.7M265.6 50.5h.7M266.3 50.2h.7M265.8 60.1h.7M261.1 53.1h.7M270.4 48.5h.7M267.5 55.8h.7M269.5 55.5h.7M273.7 51.7h.7M261.5 51.9h.7M274.9 55.2h.7M267.5 61.1h.7M271.7 58.1h.7M267.6 56.4h.7M263.5 51.8h.7M265.7 58.6h.7M269.8 53.1h.7M270.5 53.8h.7M279.3 55.2h.7M270.7 54.3h.7M267.4 61.1h.7M263.1 55.8h.7M267.6 48.0h.7M272.8 47.9h.7M275.9 55.9h.7M268.5 56.6h.7" stroke="#000" stroke-opacity="0.3" stroke-width="0.7"/>
<path d="M279.0 55.5h.7M270.2 57.4h.7M257.9 53.7h.7M272.1 51.0h.7M264.8 51.9h.7M265.6 56.6h.7M275.1 49.2h.7M272.2 58.7h.7M267.5 54.5h.7M262.7 47.9h.7M275.0 51.8h.7M268.5 52.2h.7M279.1 54.2h.7M275.0 58.0h.7M257.6 48.5h.7M261.7 51.0h.7M271.3 59.9h.7M266.7 57.2h.7M264.3 48.6h.7M275.3 51.0h.7M274.9 54.1h.7M281.9 48.8h.7M278.8 50.3h.7M264.2 54.6h.7M267.7 56.9h.7M271.0 59.7h.7M256.4 48.4h.7M269.4 52.4h.7M266.2 53.1h.7" stroke="#000" stroke-opacity="0.3" stroke-width="0.7"/>
<path d="M275.7 53.6h.7M260.9 52.0h.7M272.7 55.3h.7M267.3 57.9h.7M269.3 50.9h.7M267.8 51.9h.7M274.4 48.5h.7M256.9 50.8h.7M272.3 50.6h.7M258.1 58.4h.7M272.7 61.6h.7M272.5 53.4h.7M267.2 53.7h.7M264.6 54.9h.7M270.6 48.5h.7M263.7 60.8h.7M275.6 55.2h.7M280.4 54.4h.7M258.3 58.9h.7M265.8 55.3h.7M268.3 54.7h.7M274.7 55.2h.7M265.0 47.3h.7M270.1 49.9h.7M266.4 62.3h.7M270.7 54.7h.7M270.3 48.3h.7M268.4 50.2h.7M268.2 51.9h.7" stroke="#000" stroke-opacity="0.3" stroke-width="0.7"/>
<path d="M278.5 61.5h.7M270.5 57.3h.7M263.4 57.7h.7M273.5 51.6h.7M269.9 54.9h.7M276.6 54.3h.7M277.9 55.3h.7M262.1 58.6h.7M268.2 50.1h.7M260.2 52.0h.7M265.6 52.2h.7M272.4 50.7h.7M263.6 54.5h.7M266.1 56.5h.7M280.9 48.1h.7M253.7 46.7h.7M272.9 51.2h.7M277.9 54.4h.7M273.4 51.0h.7M268.5 55.0h.7M254.8 51.3h.7M269.5 49.2h.7M268.0 57.9h.7M261.4 56.6h.7M267.2 62.0h.7M266.2 56.2h.7M261.9 54.1h.7M270.9 53.6h.7M266.8 55.2h.7" stroke="#000" stroke-opacity="0.3" stroke-width="0.7"/>
<path d="M273.6 52.1h.7M260.9 55.8h.7M267.4 57.4h.7M277.0 57.2h.7M264.7 63.1h.7M255.9 50.1h.7M262.3 45.3h.7M262.8 56.6h.7M270.8 56.4h.7M261.2 57.3h.7M266.3 47.9h.7M269.6 58.7h.7M267.8 47.4h.7M266.2 53.2h.7M260.2 51.9h.7M273.6 54.5h.7M264.8 56.3h.7M259.3 54.2h.7M275.6 53.4h.7M267.4 50.9h.7M264.1 60.4h.7M275.5 53.3h.7M267.2 57.3h.7M273.0 54.6h.7M264.0 56.2h.7M261.8 52.3h.7M263.1 49.1h.7M255.8 43.5h.7M269.9 59.5h.7" stroke="#000" stroke-opacity="0.3" stroke-width="0.7"/>
<path d="M266.8 50.6h.7M263.9 57.6h.7M263.6 56.1h.7M272.7 52.9h.7M268.4 55.6h.7M271.6 55.9h.7M266.0 48.6h.7M265.1 48.1h.7M268.8 58.3h.7M264.7 58.7h.7M266.0 60.3h.7M275.6 52.4h.7M265.0 67.1h.7M279.3 53.2h.7M275.3 57.0h.7M266.6 58.6h.7M270.7 49.6h.7M276.7 59.4h.7M267.9 48.4h.7M272.9 54.3h.7M272.4 57.1h.7M262.6 51.7h.7M264.1 58.5h.7M258.8 53.0h.7M275.8 49.0h.7M282.2 49.1h.7M274.6 55.9h.7M263.9 52.1h.7M273.7 53.5h.7" stroke="#000" stroke-opacity="0.3" stroke-width="0.7"/>
<path d="M273.1 56.4h.7M267.8 53.2h.7M276.9 51.7h.7M269.2 51.5h.7M269.9 53.7h.7M270.3 55.2h.7M275.6 49.0h.7M269.1 49.3h.7M273.2 55.3h.7M263.8 55.0h.7M262.4 53.1h.7M269.3 52.4h.7M272.5 53.5h.7M258.5 54.4h.7M272.1 55.1h.7M256.4 51.8h.7M268.0 50.8h.7M263.1 62.6h.7M265.2 54.4h.7M274.4 59.2h.7M272.7 53.3h.7M267.3 54.5h.7M268.1 52.3h.7M270.3 56.5h.7M262.7 55.6h.7M265.2 48.7h.7M273.5 57.5h.7M266.5 58.8h.7M254.7 48.1h.7" stroke="#000" stroke-opacity="0.3" stroke-width="0.7"/>
<path d="M280.6 43.2h.7M279.5 43.3h.7M281.7 48.2h.7M284.5 45.8h.7M292.5 45.2h.7M282.7 41.7h.7M279.1 43.7h.7M289.9 41.3h.7M281.6 42.1h.7M282.5 39.6h.7" stroke="#000" stroke-opacity="0.3" stroke-width="0.7"/>
<path d="M284.7 42.5h.7M285.8 43.7h.7M283.9 46.2h.7M281.7 47.4h.7M283.5 42.2h.7M283.2 42.0h.7M282.5 45.7h.7M283.6 44.2h.7M288.9 46.9h.7M283.5 43.5h.7" stroke="#000" stroke-opacity="0.3" stroke-width="0.7"/>
<path d="M283.9 44.0h.7M285.7 44.7h.7M287.4 41.4h.7M282.9 46.4h.7M281.5 46.5h.7M285.4 46.3h.7M283.4 37.9h.7M283.8 41.1h.7M279.2 48.9h.7M283.7 45.4h.7" stroke="#000" stroke-opacity="0.3" stroke-width="0.7"/>
<path d="M282.3 41.8h.7M284.6 41.9h.7M283.3 42.7h.7M285.0 47.3h.7M276.2 43.8h.7M287.9 44.0h.7M286.5 37.0h.7M290.4 48.5h.7M284.3 45.5h.7M287.0 46.5h.7" stroke="#000" stroke-opacity="0.3" stroke-width="0.7"/>
<path d="M284.0 45.1h.7M287.2 47.5h.7M285.8 46.1h.7M284.1 40.1h.7M280.4 43.8h.7M282.6 43.4h.7M283.1 42.3h.7M283.8 43.0h.7M282.1 49.6h.7M285.1 45.9h.7" stroke="#000" stroke-opacity="0.3" stroke-width="0.7"/>
<path d="M281.4 38.4h.7M282.8 41.7h.7M282.9 45.8h.7M281.0 43.6h.7M284.2 40.6h.7M281.0 42.2h.7M282.6 44.2h.7M284.3 40.8h.7M285.5 48.0h.7M282.0 41.6h.7" stroke="#000" stroke-opacity="0.3" stroke-width="0.7"/>
<path d="M281.6 45.7h.7M284.9 42.1h.7M279.2 45.2h.7M288.2 43.1h.7M281.5 47.8h.7M289.9 42.1h.7M287.0 41.8h.7M283.3 46.4h.7M281.5 46.2h.7M286.1 45.8h.7" stroke="#000" stroke-opacity="0.3" stroke-width="0.7"/>
<path d="M279.7 46.9h.7M284.7 46.6h.7M285.3 44.2h.7M284.4 47.8h.7M282.7 44.2h.7M283.0 46.0h.7M282.6 46.3h.7M289.0 46.8h.7M284.5 43.6h.7M290.5 43.6h.7" stroke="#000" stroke-opacity="0.3" stroke-width="0.7"/>
<path d="M282.6 44.6h.7M286.2 48.5h.7M280.2 44.0h.7M282.7 45.1h.7M283.4 46.6h.7M285.0 46.4h.7M285.7 46.3h.7M288.0 41.3h.7M282.0 42.3h.7M281.5 45.1h.7" stroke="#000" stroke-opacity="0.3" stroke-width="0.7"/>
<path d="M282.1 45.9h.7M285.6 41.3h.7M281.3 48.3h.7M285.1 42.5h.7M287.7 46.8h.7M281.8 41.2h.7M285.2 43.5h.7M275.1 48.1h.7M281.0 42.4h.7M283.0 41.7h.7" stroke="#000" stroke-opacity="0.3" stroke-width="0.7"/>
<path d="M284.5 45.3h.7M281.9 45.8h.7M283.5 43.7h.7M284.9 47.2h.7M285.8 45.8h.7M288.0 42.3h.7M282.9 42.9h.7M284.8 44.0h.7M284.2 45.9h.7M288.2 49.7h.7" stroke="#000" stroke-opacity="0.3" stroke-width="0.7"/>
<path d="M278.7 46.3h.7M289.7 43.2h.7M284.0 45.8h.7M287.2 43.3h.7M280.9 47.9h.7M284.0 44.8h.7M286.8 48.4h.7M289.0 41.5h.7M279.9 41.3h.7M285.3 42.4h.7" stroke="#000" stroke-opacity="0.3" stroke-width="0.7"/>
<line x1="277.40" y1="30.40" x2="277.40" y2="100.70" stroke="#333" stroke-width="0.9"/>
<line x1="250.40" y1="72.85" x2="321.10" y2="72.85" stroke="#333" stroke-width="0.9"/>
<path d="M384.6 42.0h.8M371.2 46.2h.8M372.7 50.4h.8M375.8 51.1h.8M377.4 47.8h.8M378.4 45.1h.8M384.2 39.4h.8M375.9 53.5h.8M371.1 45.2h.8M384.1 44.8h.8M379.6 42.3h.8M382.5 41.1h.8M390.1 39.9h.8M376.2 47.6h.8M390.0 36.9h.8M375.8 45.4h.8M376.9 48.7h.8M391.6 38.1h.8M389.5 39.7h.8M378.9 42.1h.8M375.5 48.8h.8M387.8 41.1h.8M391.9 37.8h.8M377.9 45.2h.8M387.4 39.5h.8M383.9 40.3h.8M372.3 45.4h.8M390.1 42.7h.8M392.3 38.9h.8M379.0 48.1h.8M392.8 37.6h.8M372.9 50.8h.8M380.2 43.9h.8M383.8 42.6h.8M372.8 44.8h.8M392.4 35.9h.8M374.6 50.0h.8M383.0 42.7h.8M384.6 38.4h.8M377.2 49.2h.8M371.1 49.3h.8M382.7 48.9h.8M384.2 40.4h.8M382.3 44.2h.8M383.7 51.3h.8M394.6 33.7h.8M385.5 45.4h.8M379.3 43.8h.8M373.9 46.2h.8M379.4 44.8h.8M372.4 47.1h.8M375.4 48.0h.8M374.3 47.9h.8M391.2 37.9h.8M388.3 42.9h.8M386.7 38.6h.8M378.4 45.1h.8M374.9 47.2h.8M371.4 48.9h.8M372.7 50.6h.8M385.2 44.1h.8M390.3 33.7h.8M390.7 36.7h.8M372.1 49.2h.8M394.0 36.6h.8M379.1 46.7h.8M383.1 42.0h.8M374.8 45.8h.8M386.8 38.4h.8M377.8 47.4h.8M386.0 38.4h.8M383.4 42.0h.8M391.2 36.4h.8M389.8 38.6h.8M374.4 47.4h.8M381.7 46.6h.8M392.3 37.1h.8M382.4 42.3h.8M373.3 48.9h.8M383.3 47.4h.8M371.4 49.7h.8M390.7 39.9h.8M379.3 46.8h.8M373.0 47.5h.8M378.6 47.1h.8M376.7 42.3h.8M372.2 45.9h.8M388.8 38.9h.8M375.2 45.8h.8M373.0 51.7h.8M388.0 37.8h.8M394.2 32.7h.8M379.4 47.9h.8M376.4 47.6h.8M375.2 48.1h.8M384.6 43.5h.8M387.4 44.7h.8M372.4 50.0h.8M384.0 39.7h.8M380.0 45.0h.8M393.0 35.0h.8M388.9 40.0h.8M384.0 41.4h.8M382.7 44.1h.8M379.8 42.6h.8M375.5 52.9h.8M382.2 43.4h.8M377.9 44.4h.8M374.6 48.0h.8M389.6 39.6h.8M389.5 39.0h.8M387.7 40.7h.8M391.7 39.0h.8M376.0 46.6h.8M376.1 47.3h.8M376.9 43.9h.8M382.9 42.8h.8M375.3 50.4h.8M384.7 40.9h.8M373.7 47.9h.8M377.8 46.8h.8M380.2 44.7h.8M389.5 38.1h.8M382.4 46.0h.8M373.8 47.1h.8M391.6 37.0h.8M375.0 42.5h.8M389.6 38.8h.8M383.5 41.2h.8M383.1 41.6h.8M374.0 44.9h.8M386.4 41.1h.8M389.8 37.5h.8M395.3 33.9h.8M385.5 43.2h.8M389.2 38.3h.8M372.4 46.5h.8M384.2 41.2h.8M373.3 44.5h.8M373.5 44.9h.8M391.5 39.8h.8M374.7 42.6h.8M389.1 37.5h.8M392.7 36.8h.8M383.7 40.0h.8M373.9 46.5h.8M380.5 46.2h.8M372.6 47.7h.8M394.3 36.7h.8M372.4 48.9h.8M392.4 34.7h.8M380.7 44.5h.8M379.9 42.2h.8M380.5 45.7h.8M380.6 49.7h.8M373.5 43.5h.8M391.1 37.4h.8M394.0 34.0h.8M375.8 43.8h.8M381.6 42.0h.8M393.1 34.0h.8M387.7 40.4h.8M374.7 47.2h.8M382.4 46.6h.8M372.4 46.8h.8M375.6 51.0h.8M385.0 40.9h.8M375.5 51.8h.8M393.6 37.4h.8M378.5 44.5h.8M379.7 45.2h.8M374.5 47.2h.8M390.9 37.0h.8M392.3 40.6h.8M390.3 37.9h.8" stroke="#000" stroke-opacity="0.42" stroke-width="0.8"/>
<path d="M371.3 48.6h.8M381.5 43.6h.8M389.4 37.4h.8M375.3 55.0h.8M385.7 39.4h.8M385.2 42.5h.8M373.9 44.5h.8M392.1 38.3h.8M391.2 38.3h.8M385.7 41.4h.8M383.9 42.2h.8M372.9 47.6h.8M375.7 44.7h.8M390.1 36.9h.8M375.7 45.5h.8M392.8 35.4h.8M395.4 35.4h.8M383.2 47.8h.8M375.9 50.9h.8M390.4 38.3h.8M378.8 47.5h.8M391.5 39.3h.8M370.8 48.3h.8M390.6 37.1h.8M379.2 43.1h.8M377.7 43.0h.8M374.9 47.9h.8M371.9 50.0h.8M375.2 51.3h.8M380.1 41.2h.8M371.4 45.2h.8M392.0 34.9h.8M379.0 47.4h.8M378.6 42.1h.8M375.5 49.4h.8M381.9 40.4h.8M394.0 39.1h.8M384.5 37.9h.8M385.1 43.1h.8M389.2 42.9h.8M391.4 37.8h.8M392.1 36.5h.8M379.1 45.3h.8M379.5 43.2h.8M379.9 43.2h.8M371.8 46.3h.8M380.9 42.3h.8M389.5 40.2h.8M375.9 45.9h.8M389.3 38.4h.8M377.0 47.3h.8M389.0 39.5h.8M373.0 47.7h.8M391.9 35.0h.8M373.2 42.8h.8M371.3 52.5h.8M390.9 40.9h.8M390.1 38.0h.8M377.9 42.8h.8M380.1 41.3h.8M374.6 46.4h.8M375.0 48.5h.8M381.0 46.9h.8M378.9 48.7h.8M388.0 43.2h.8M377.9 43.1h.8M375.2 48.3h.8M392.6 39.2h.8M377.4 43.0h.8M386.7 42.3h.8M371.3 50.8h.8M383.0 43.7h.8M388.4 43.1h.8M376.5 49.6h.8M390.8 41.1h.8M379.3 43.4h.8M393.8 35.1h.8M381.2 45.4h.8M386.5 41.9h.8M388.5 37.2h.8M383.6 42.6h.8M371.9 48.2h.8M391.7 34.7h.8M387.2 38.9h.8M380.9 43.7h.8M389.1 38.4h.8M374.1 51.5h.8M375.7 43.5h.8M385.2 39.8h.8M373.6 46.5h.8M380.6 46.0h.8M375.5 46.4h.8M384.9 39.7h.8M387.7 41.7h.8M371.5 51.3h.8M385.5 44.5h.8M386.1 43.6h.8M394.3 36.3h.8M374.9 45.3h.8M391.0 38.7h.8M387.8 41.7h.8M384.8 41.0h.8M394.0 38.4h.8M378.9 45.4h.8M378.1 47.1h.8M377.1 43.7h.8M374.4 46.5h.8M378.5 45.8h.8M375.2 50.0h.8M384.1 42.9h.8M383.3 49.1h.8M383.1 44.8h.8M392.6 38.4h.8M376.0 46.2h.8M379.3 47.6h.8M372.8 50.7h.8M383.5 46.6h.8M372.5 43.2h.8M371.3 48.0h.8M384.9 43.2h.8M385.2 39.1h.8M378.2 44.4h.8M373.5 46.2h.8M381.5 44.7h.8M391.3 39.0h.8M375.9 47.9h.8M379.3 46.4h.8M392.7 34.1h.8M375.9 45.7h.8M379.1 48.2h.8M379.1 42.3h.8M372.4 44.7h.8M392.9 33.6h.8M377.7 47.1h.8M375.7 44.9h.8M393.0 35.8h.8M384.7 40.2h.8M372.6 43.1h.8M389.4 40.8h.8M376.0 43.9h.8M392.3 37.8h.8M371.9 49.7h.8M381.4 40.7h.8M387.9 42.1h.8M392.9 36.3h.8M374.2 49.5h.8M379.8 42.3h.8M386.8 46.7h.8M394.4 34.3h.8M379.3 42.1h.8M381.9 44.5h.8M388.8 39.7h.8M374.7 50.7h.8M371.4 49.7h.8M376.7 48.2h.8M370.5 44.8h.8M372.7 45.3h.8M379.3 43.4h.8M389.4 40.0h.8M392.2 35.8h.8M381.2 41.2h.8M390.6 45.4h.8M381.7 46.9h.8M385.4 39.7h.8M384.5 39.7h.8M388.2 38.6h.8M377.0 44.5h.8M389.7 42.1h.8M380.4 41.1h.8M371.4 45.0h.8M387.3 41.1h.8M373.4 45.5h.8M386.9 43.9h.8M384.8 43.7h.8M381.7 43.0h.8" stroke="#000" stroke-opacity="0.42" stroke-width="0.8"/>
<path d="M374.3 44.9h.8M381.5 42.6h.8M373.0 52.3h.8M377.8 45.5h.8M388.3 41.2h.8M382.0 44.9h.8M373.0 49.9h.8M392.9 33.8h.8M389.9 41.0h.8M383.8 42.2h.8M392.1 36.7h.8M393.6 38.7h.8M373.4 49.2h.8M380.5 40.7h.8M380.6 46.7h.8M373.9 47.2h.8M378.6 45.3h.8M378.1 46.2h.8M373.3 50.3h.8M389.4 40.2h.8M391.2 45.1h.8M391.7 35.0h.8M391.5 36.4h.8M376.6 44.5h.8M372.0 47.6h.8M372.4 51.6h.8M375.8 49.0h.8M377.0 51.2h.8M391.9 37.4h.8M377.2 46.8h.8M383.6 43.3h.8M393.6 35.8h.8M388.0 38.4h.8M374.1 47.5h.8M392.4 33.9h.8M391.4 36.8h.8M372.4 47.8h.8M379.8 43.4h.8M387.6 41.0h.8M390.4 37.4h.8M379.4 46.0h.8M377.0 42.5h.8M378.3 45.1h.8M389.8 38.2h.8M373.0 49.1h.8M379.5 44.0h.8M387.3 48.0h.8M387.5 39.2h.8M382.0 41.2h.8M386.6 43.3h.8M385.9 43.3h.8M391.7 35.7h.8M373.6 50.7h.8M382.5 44.9h.8M384.8 40.1h.8M393.9 41.6h.8M389.4 39.4h.8M372.0 45.4h.8M376.9 42.9h.8M375.1 48.8h.8M386.2 41.9h.8M390.7 35.2h.8M371.2 43.3h.8M386.4 41.8h.8M380.8 43.8h.8M393.4 33.1h.8M382.8 39.9h.8M385.8 39.9h.8M379.6 42.3h.8M394.1 33.9h.8M376.4 48.6h.8M384.9 38.9h.8M390.1 39.7h.8M389.4 38.7h.8M392.2 40.7h.8M381.0 45.3h.8M373.6 44.0h.8M379.8 48.1h.8M386.7 39.7h.8M385.4 50.0h.8M391.8 41.9h.8M391.8 38.8h.8M382.1 40.6h.8M392.7 36.5h.8M380.1 44.5h.8M377.8 44.2h.8M376.3 46.9h.8M383.5 40.5h.8M373.7 43.2h.8M379.6 43.3h.8M388.1 37.9h.8M372.2 46.8h.8M385.6 40.6h.8M389.8 41.9h.8M393.7 40.0h.8M375.1 49.8h.8M378.3 45.1h.8M372.3 44.2h.8M381.8 48.0h.8M372.3 51.2h.8M384.1 39.5h.8M375.5 49.3h.8M384.6 40.4h.8M372.9 45.7h.8M384.9 40.5h.8M388.7 39.7h.8M391.7 35.2h.8M372.1 44.7h.8M385.7 40.6h.8M378.9 44.7h.8M391.4 40.0h.8M381.9 41.7h.8M379.3 44.7h.8M372.1 50.7h.8M394.3 35.7h.8M374.1 42.5h.8M383.8 45.8h.8M380.3 46.4h.8M376.1 46.1h.8M376.8 45.1h.8M372.2 46.4h.8M375.5 45.8h.8M373.8 47.9h.8M377.0 42.8h.8M390.3 37.6h.8M388.1 41.3h.8M393.4 35.4h.8M386.3 39.6h.8M371.7 52.2h.8M389.1 35.7h.8M384.3 43.0h.8M393.6 38.3h.8M373.1 51.1h.8M387.7 38.6h.8M372.0 46.7h.8M371.8 48.5h.8M377.9 48.0h.8M383.3 48.2h.8M380.9 45.0h.8M379.8 42.0h.8M387.5 42.3h.8M377.8 46.4h.8M389.3 39.3h.8M372.3 43.4h.8M383.3 42.6h.8M372.9 44.8h.8M384.8 41.4h.8M372.3 48.8h.8M372.5 45.5h.8M394.5 36.6h.8M381.5 47.9h.8M378.2 43.5h.8M378.4 49.8h.8M379.8 42.2h.8M379.6 43.9h.8M376.2 45.4h.8M386.0 38.0h.8M382.7 43.5h.8M390.6 36.9h.8M371.7 43.8h.8M373.2 47.2h.8M395.5 34.1h.8M382.7 43.7h.8M394.6 34.4h.8M385.5 42.3h.8M375.8 46.9h.8M392.6 35.0h.8M376.0 43.2h.8M385.7 39.2h.8M395.0 33.4h.8M389.7 42.4h.8M392.3 36.2h.8M377.9 44.7h.8M376.0 46.6h.8M376.4 43.4h.8" stroke="#000" stroke-opacity="0.42" stroke-width="0.8"/>
<path d="M392.4 42.5h.8M380.0 41.7h.8M375.0 45.3h.8M387.5 40.9h.8M375.1 49.8h.8M388.4 41.5h.8M390.2 42.9h.8M374.7 49.2h.8M386.9 39.8h.8M376.5 48.9h.8M394.2 36.8h.8M388.1 39.0h.8M372.8 48.9h.8M375.8 47.3h.8M371.6 42.8h.8M388.4 46.2h.8M388.2 40.0h.8M390.6 37.4h.8M390.3 39.1h.8M373.7 49.3h.8M389.5 40.6h.8M373.6 49.9h.8M394.7 33.8h.8M389.3 39.1h.8M378.7 41.6h.8M379.4 43.0h.8M373.5 47.9h.8M369.8 55.5h.8M385.4 42.9h.8M373.7 44.4h.8M382.4 41.1h.8M379.7 43.4h.8M393.9 34.8h.8M377.6 43.1h.8M380.5 52.0h.8M389.9 39.6h.8M375.7 49.2h.8M371.6 50.8h.8M382.2 43.6h.8M383.3 43.8h.8M394.1 35.4h.8M371.7 50.3h.8M385.5 42.0h.8M384.2 44.0h.8M391.6 37.3h.8M394.4 35.4h.8M385.9 40.3h.8M372.4 46.7h.8M380.0 50.2h.8M383.8 43.8h.8M377.0 48.6h.8M390.6 36.6h.8M377.3 42.4h.8M381.9 45.6h.8M391.1 39.1h.8M394.1 40.5h.8M392.9 37.0h.8M387.4 40.6h.8M376.1 49.6h.8M378.3 43.2h.8M382.0 41.8h.8M380.0 44.1h.8M383.6 42.9h.8M380.7 41.8h.8M370.9 46.9h.8M371.6 49.2h.8M385.6 40.4h.8M382.1 45.4h.8M384.1 43.9h.8M381.2 47.7h.8M389.9 35.7h.8M389.5 39.6h.8M391.7 44.0h.8M394.4 34.6h.8M378.7 48.9h.8M376.6 45.8h.8M386.8 39.0h.8M378.1 43.8h.8M370.9 44.6h.8M390.3 36.9h.8M381.2 48.9h.8M383.9 43.2h.8M373.6 48.6h.8M392.9 43.0h.8M379.8 46.7h.8M374.3 48.4h.8M380.4 42.4h.8M388.0 39.3h.8M379.7 42.2h.8M373.3 45.7h.8M380.6 49.4h.8M376.3 47.0h.8M384.0 41.7h.8M382.3 43.8h.8M375.2 44.4h.8M374.3 49.3h.8M388.9 37.8h.8M376.7 46.5h.8M371.8 53.3h.8M370.7 50.8h.8M374.3 51.8h.8M385.9 39.8h.8M393.2 39.5h.8M375.3 54.3h.8M372.6 50.6h.8M389.8 42.2h.8M371.2 50.1h.8M385.9 39.2h.8M383.4 42.9h.8M379.9 45.2h.8M373.2 48.0h.8M388.8 39.8h.8M392.2 35.6h.8M388.2 41.3h.8M378.0 46.1h.8M386.9 41.2h.8M377.2 43.1h.8M373.6 45.4h.8M395.2 35.9h.8M385.5 43.5h.8M389.0 45.0h.8M371.5 53.7h.8M372.3 44.7h.8M383.7 40.2h.8M374.0 44.4h.8M376.6 49.8h.8M381.5 42.7h.8M374.6 43.9h.8M390.4 36.5h.8M382.2 51.2h.8M371.8 43.6h.8M377.9 45.2h.8M372.2 51.0h.8M387.7 40.7h.8M383.0 43.0h.8M372.0 48.9h.8M375.4 48.2h.8M371.9 52.7h.8M374.8 49.1h.8M377.4 49.8h.8M383.9 41.6h.8M379.9 48.2h.8M377.7 42.9h.8M372.3 48.3h.8M392.2 40.0h.8M375.6 46.8h.8M374.0 44.6h.8M380.4 46.0h.8M372.3 44.8h.8M371.4 44.5h.8M379.0 42.4h.8M373.6 47.0h.8M378.6 46.8h.8M374.0 45.3h.8M387.2 39.1h.8M392.6 35.2h.8M388.0 40.3h.8M376.8 52.5h.8M385.4 41.5h.8M371.9 50.1h.8M379.4 43.7h.8M387.0 41.5h.8M373.9 49.9h.8M395.0 35.9h.8M376.8 49.1h.8M372.5 48.8h.8M374.6 46.5h.8M377.0 43.6h.8M373.6 46.8h.8M388.7 41.1h.8M385.4 43.9h.8M372.4 48.0h.8M373.7 48.7h.8M377.8 48.2h.8M374.4 45.1h.8" stroke="#000" stroke-opacity="0.42" stroke-width="0.8"/>
<path d="M378.2 46.1h.8M393.4 41.5h.8M373.0 46.6h.8M395.3 36.7h.8M378.5 47.1h.8M375.2 45.8h.8M391.4 35.2h.8M383.4 42.9h.8M394.3 33.1h.8M371.4 48.9h.8M377.3 47.2h.8M387.5 38.9h.8M394.7 36.1h.8M394.9 35.5h.8M383.4 42.8h.8M386.7 41.3h.8M386.3 39.7h.8M372.8 49.5h.8M372.0 48.2h.8M386.1 43.8h.8M385.7 43.1h.8M383.4 42.4h.8M379.4 43.0h.8M375.7 51.6h.8M379.5 46.3h.8M375.9 45.1h.8M371.4 45.9h.8M379.4 44.5h.8M372.3 45.6h.8M377.8 49.1h.8M372.1 44.9h.8M391.7 41.9h.8M376.1 45.8h.8M379.3 46.9h.8M391.2 39.3h.8M382.6 43.4h.8M376.2 46.4h.8M385.6 40.8h.8M381.4 43.5h.8M390.0 42.5h.8M386.5 38.5h.8M391.8 39.2h.8M376.3 46.2h.8M386.5 40.1h.8M385.9 39.0h.8M376.9 43.0h.8M373.0 48.5h.8M389.0 37.3h.8M376.0 42.5h.8M392.8 35.8h.8M387.0 37.5h.8M379.1 47.9h.8M381.4 46.7h.8M375.0 48.2h.8M371.5 44.9h.8M389.8 43.2h.8M391.4 36.0h.8M370.8 50.7h.8M387.9 37.9h.8M393.3 38.4h.8M389.6 48.7h.8M385.4 43.5h.8M375.9 45.4h.8M375.8 43.6h.8M386.8 41.8h.8M392.1 37.0h.8M390.3 41.9h.8M393.9 34.3h.8M372.6 50.2h.8M373.6 46.2h.8M372.4 50.1h.8M378.4 46.8h.8M372.7 46.8h.8M383.5 43.7h.8M373.2 44.6h.8M372.9 50.9h.8M374.2 45.7h.8M392.4 32.3h.8M383.9 43.5h.8M386.0 43.0h.8M387.8 42.3h.8M381.5 41.2h.8M387.9 45.8h.8M372.8 46.8h.8M385.6 41.0h.8M384.5 40.0h.8M391.7 35.5h.8M377.1 45.3h.8M377.7 43.2h.8M392.1 37.2h.8M395.1 35.7h.8M388.6 41.7h.8M378.7 42.8h.8M385.2 39.8h.8M376.1 46.7h.8M388.0 43.4h.8M386.2 39.6h.8M392.3 38.4h.8M376.4 49.2h.8M389.0 39.1h.8M388.5 41.2h.8M378.7 44.8h.8M386.7 37.6h.8M372.0 48.4h.8M380.9 49.5h.8M386.7 38.8h.8M379.1 46.9h.8M382.4 45.9h.8M395.5 35.1h.8M375.4 48.1h.8M393.1 33.4h.8M391.8 38.8h.8M377.8 42.8h.8M380.8 46.4h.8M393.4 39.6h.8M374.9 48.6h.8M383.4 42.8h.8M380.2 47.6h.8M386.1 40.8h.8M374.0 49.8h.8M390.1 36.2h.8M383.5 44.3h.8M379.5 44.0h.8M375.8 47.6h.8M380.4 45.0h.8M393.3 35.3h.8M391.4 38.5h.8M372.4 45.2h.8M373.7 44.0h.8M393.5 38.9h.8M379.2 47.6h.8M379.7 47.8h.8M388.1 37.5h.8M379.9 42.7h.8M389.8 40.3h.8M391.7 37.8h.8M373.3 47.2h.8M375.1 47.2h.8M379.4 43.6h.8M391.6 39.1h.8M373.1 44.5h.8M391.8 35.8h.8M377.0 48.8h.8M379.2 44.3h.8M385.2 38.6h.8M387.2 42.4h.8M386.5 39.3h.8M390.8 35.0h.8M388.9 36.8h.8M388.4 38.9h.8M383.7 45.6h.8M387.1 41.4h.8M389.6 39.3h.8M371.5 44.2h.8M389.2 41.5h.8M384.0 44.9h.8M382.9 42.5h.8M383.8 41.7h.8M376.3 47.4h.8M388.1 37.3h.8M390.0 40.4h.8M377.8 46.9h.8M391.7 38.6h.8M391.0 39.1h.8M375.4 46.4h.8M376.7 48.4h.8M376.0 47.8h.8M386.0 45.4h.8M380.7 44.3h.8M390.0 41.4h.8M395.1 35.6h.8M391.5 35.8h.8M385.3 41.0h.8M376.2 44.3h.8M376.1 49.4h.8" stroke="#000" stroke-opacity="0.42" stroke-width="0.8"/>
<path d="M386.1 45.6h.8M373.7 47.2h.8M372.7 49.2h.8M382.1 43.2h.8M384.1 41.0h.8M380.2 45.6h.8M378.9 41.3h.8M387.0 41.5h.8M391.2 36.8h.8M377.9 47.0h.8M388.2 41.6h.8M381.1 46.6h.8M382.3 43.0h.8M388.7 38.1h.8M373.3 45.2h.8M382.8 43.6h.8M388.6 43.7h.8M387.5 44.5h.8M374.3 45.4h.8M378.5 44.3h.8M376.8 49.1h.8M372.6 46.9h.8M382.9 42.9h.8M381.4 43.2h.8M375.4 48.9h.8M382.6 40.8h.8M372.6 48.5h.8M390.4 43.4h.8M375.4 47.6h.8M373.1 46.5h.8M379.1 45.8h.8M374.9 44.0h.8M375.5 43.4h.8M373.0 48.2h.8M371.9 45.0h.8M381.1 43.8h.8M384.0 43.6h.8M380.8 42.5h.8M371.8 44.3h.8M371.9 47.5h.8M374.9 41.3h.8M389.4 39.1h.8M376.2 47.1h.8M374.0 46.1h.8M373.4 43.9h.8M392.0 38.6h.8M385.1 42.6h.8M385.8 40.6h.8M381.6 46.0h.8M373.9 49.0h.8M381.3 45.4h.8M373.5 47.2h.8M383.7 42.6h.8M388.0 37.6h.8M394.5 33.0h.8M374.4 49.8h.8M373.7 52.5h.8M391.3 38.0h.8M378.4 47.4h.8M380.3 46.4h.8M389.1 38.2h.8M384.3 41.1h.8M386.4 42.5h.8M387.7 45.3h.8M379.9 45.8h.8M373.6 46.9h.8M371.2 53.9h.8M378.2 44.2h.8M383.1 44.7h.8M386.3 45.2h.8M384.9 41.0h.8M373.1 49.3h.8M393.1 33.1h.8M376.4 48.3h.8M377.2 48.1h.8M389.2 38.0h.8M386.6 42.4h.8M385.3 40.0h.8M371.7 46.4h.8M378.3 43.0h.8M372.2 47.0h.8M386.0 43.3h.8M373.8 49.8h.8M383.2 45.5h.8M376.8 45.4h.8M375.6 49.7h.8M371.8 50.2h.8M375.8 45.5h.8M388.4 43.7h.8M371.8 48.9h.8M382.6 48.5h.8M388.1 37.8h.8M375.0 44.8h.8M383.5 39.3h.8M383.9 43.8h.8M389.4 38.2h.8M378.7 43.8h.8M371.7 45.8h.8M391.5 38.4h.8M374.3 48.3h.8M382.9 44.0h.8M391.1 38.6h.8M380.2 48.5h.8M390.4 39.3h.8M391.1 37.2h.8M380.7 48.5h.8M374.5 45.5h.8M383.8 39.4h.8M382.9 44.7h.8M376.7 47.7h.8M375.7 44.6h.8M393.1 34.9h.8M388.3 38.9h.8M381.2 42.7h.8M388.1 44.2h.8M385.0 41.7h.8M374.2 45.9h.8M372.2 49.2h.8M373.8 45.9h.8M393.0 35.5h.8M377.1 42.0h.8M376.7 44.8h.8M373.2 47.1h.8M385.3 41.1h.8M382.2 42.7h.8M378.0 46.4h.8M378.1 46.5h.8M390.5 38.5h.8M381.2 42.3h.8M373.7 49.2h.8M384.4 44.8h.8M371.4 49.7h.8M376.8 44.8h.8M383.4 43.5h.8M370.8 43.8h.8M387.2 39.7h.8M376.7 44.9h.8M393.1 36.4h.8M381.5 43.7h.8M388.2 36.5h.8M376.0 51.8h.8M376.0 46.1h.8M382.4 39.2h.8M390.5 40.5h.8M376.4 42.8h.8M374.3 50.2h.8M374.7 42.8h.8M375.8 43.0h.8M375.1 50.5h.8M383.4 41.5h.8M384.1 42.9h.8M388.1 42.0h.8M387.5 39.1h.8M394.4 32.5h.8M372.9 46.2h.8M377.9 40.6h.8M390.3 39.1h.8M371.9 49.9h.8M384.1 42.1h.8M387.2 38.5h.8M390.5 36.6h.8M376.9 46.4h.8M381.1 43.3h.8M393.4 35.9h.8M393.7 34.7h.8M386.9 40.9h.8M387.6 40.1h.8M383.3 45.2h.8M384.9 43.5h.8M373.0 52.0h.8M379.2 47.9h.8M372.8 48.5h.8M386.7 42.4h.8M393.8 41.1h.8M387.5 40.7h.8" stroke="#000" stroke-opacity="0.42" stroke-width="0.8"/>
<path d="M386.4 40.2h.8M390.4 39.6h.8M383.6 45.3h.8M379.2 47.2h.8M387.8 39.5h.8M377.5 45.8h.8M377.0 45.5h.8M374.5 48.1h.8M384.3 39.4h.8M372.9 50.5h.8M378.4 41.9h.8M384.3 42.2h.8M382.4 46.5h.8M378.8 46.3h.8M376.0 43.4h.8M388.7 38.3h.8M380.3 44.4h.8M375.4 43.2h.8M374.9 45.8h.8M371.6 42.4h.8M376.7 50.0h.8M392.0 41.0h.8M377.4 47.4h.8M373.5 49.8h.8M376.9 43.9h.8M373.7 48.1h.8M386.5 41.3h.8M380.7 41.3h.8M390.3 38.7h.8M392.4 37.8h.8M377.0 47.1h.8M372.2 45.4h.8M390.0 38.0h.8M385.9 40.3h.8M388.1 44.6h.8M371.7 46.1h.8M380.6 47.0h.8M393.4 34.4h.8M375.2 45.0h.8M392.3 40.9h.8M373.2 43.0h.8M371.3 46.6h.8M388.4 40.4h.8M389.7 40.3h.8M392.6 35.0h.8M374.2 49.7h.8M388.3 40.8h.8M377.7 46.8h.8M393.8 40.3h.8M372.1 44.6h.8M375.0 44.5h.8M382.6 45.2h.8M382.5 42.4h.8M381.6 42.1h.8M371.3 47.1h.8M383.6 42.0h.8M391.6 41.0h.8M390.5 42.9h.8M373.1 47.2h.8M388.5 41.0h.8M392.5 39.7h.8M379.5 43.4h.8M376.3 48.1h.8M385.5 41.5h.8M391.8 37.6h.8M371.8 45.5h.8M391.8 38.5h.8M382.2 50.0h.8M391.1 35.7h.8M381.4 47.1h.8M392.6 35.7h.8M373.2 46.9h.8M375.8 49.0h.8M375.0 46.8h.8M386.2 41.6h.8M377.6 46.8h.8M393.6 33.5h.8M381.1 47.5h.8M392.2 40.5h.8M374.8 49.3h.8M386.2 39.9h.8M387.8 38.8h.8M393.8 36.7h.8M385.1 44.5h.8M370.4 44.7h.8M388.1 38.4h.8M376.1 47.6h.8M370.2 47.5h.8M387.1 45.6h.8M391.2 37.0h.8M384.6 47.7h.8M371.9 48.2h.8M372.2 46.8h.8M389.6 36.3h.8M382.0 41.5h.8M375.8 44.4h.8M382.2 47.2h.8M383.1 47.9h.8M372.8 44.9h.8M379.9 45.3h.8M379.4 49.8h.8M378.4 42.7h.8M393.3 35.6h.8M373.0 49.5h.8M378.3 45.3h.8M371.0 51.1h.8M383.9 42.3h.8M376.1 43.0h.8M373.0 44.7h.8M389.4 37.6h.8M386.6 39.2h.8M388.5 40.9h.8M372.7 44.6h.8M375.7 48.3h.8M394.5 34.8h.8M378.3 45.4h.8M393.3 35.3h.8M388.0 40.9h.8M394.3 37.5h.8M376.4 46.4h.8M374.9 46.2h.8M391.5 34.0h.8M391.4 41.8h.8M377.3 44.1h.8M380.8 42.5h.8M371.6 44.2h.8M374.1 48.5h.8M387.8 39.1h.8M385.1 48.9h.8M373.3 49.6h.8M380.0 44.6h.8M376.7 48.3h.8M376.4 48.0h.8M375.3 43.0h.8M372.9 44.3h.8M385.7 42.3h.8M389.8 37.7h.8M372.4 49.2h.8M381.6 45.7h.8M387.1 40.7h.8M379.6 47.1h.8M388.3 43.3h.8M378.0 46.5h.8M392.4 35.7h.8M378.2 45.6h.8M383.6 42.6h.8M384.9 40.6h.8M376.4 43.8h.8M386.6 43.6h.8M374.9 48.6h.8M388.0 42.7h.8M379.2 45.6h.8M380.3 45.1h.8M390.1 35.6h.8M394.8 34.9h.8M377.3 51.8h.8M391.9 35.0h.8M391.3 41.3h.8M391.8 39.6h.8M384.6 42.2h.8M375.8 48.7h.8M374.0 44.4h.8M372.2 44.2h.8M372.7 44.9h.8M379.2 43.4h.8M390.9 38.0h.8M379.5 46.3h.8M380.6 44.1h.8M386.2 38.8h.8M388.5 40.2h.8M372.0 44.9h.8M390.4 38.0h.8M372.5 49.2h.8M386.2 42.8h.8M375.3 45.2h.8" stroke="#000" stroke-opacity="0.42" stroke-width="0.8"/>
<path d="M373.0 54.2h.8M390.3 37.2h.8M391.9 39.5h.8M377.9 44.1h.8M373.7 48.6h.8M388.9 37.1h.8M384.4 43.6h.8M395.3 34.8h.8M371.5 46.9h.8M379.0 44.5h.8M381.4 44.5h.8M374.1 47.4h.8M385.4 41.9h.8M385.0 45.8h.8M387.0 41.4h.8M373.7 51.8h.8M380.4 43.0h.8M385.7 43.3h.8M378.9 45.6h.8M394.1 33.8h.8M377.5 45.4h.8M383.0 42.0h.8M380.2 43.6h.8M373.1 44.0h.8M380.5 43.6h.8M384.1 44.6h.8M379.8 45.7h.8M389.2 38.4h.8M389.7 38.9h.8M384.8 42.6h.8M377.0 44.5h.8M388.0 38.6h.8M376.0 42.5h.8M371.2 47.7h.8M385.9 39.3h.8M385.4 37.9h.8M383.6 43.3h.8M377.6 47.5h.8M389.8 36.8h.8M371.8 44.9h.8M390.2 39.7h.8M375.0 42.9h.8M378.0 48.2h.8M388.8 36.7h.8M383.3 41.2h.8M390.7 36.2h.8M385.6 42.5h.8M382.8 42.5h.8M381.1 46.5h.8M379.8 46.3h.8M382.2 40.1h.8M395.0 32.6h.8M379.2 46.8h.8M378.5 42.0h.8M386.5 43.8h.8M389.7 36.8h.8M374.2 44.3h.8M374.6 49.4h.8M374.4 51.6h.8M377.0 44.7h.8M385.1 48.9h.8M381.7 44.1h.8M385.6 43.2h.8M378.8 44.6h.8M391.9 35.5h.8M388.1 37.8h.8M390.0 38.6h.8M384.1 39.0h.8M386.0 42.3h.8M389.0 41.5h.8M390.6 39.4h.8M390.1 36.2h.8M371.6 44.1h.8M373.6 49.3h.8M394.3 39.9h.8M372.3 45.0h.8M379.7 42.9h.8M382.2 44.8h.8M383.4 40.8h.8M376.4 43.1h.8M383.6 42.9h.8M382.0 44.7h.8M384.6 43.3h.8M376.0 48.9h.8M385.4 36.7h.8M382.3 41.9h.8M371.1 46.5h.8M391.8 36.0h.8M384.7 45.2h.8M389.6 37.7h.8M374.6 50.3h.8M378.5 41.4h.8M373.9 46.0h.8M370.7 42.5h.8M391.2 35.0h.8M377.3 48.6h.8M375.0 49.1h.8M380.4 43.7h.8M376.8 47.5h.8M392.1 38.1h.8M383.9 45.6h.8M391.4 36.6h.8M387.3 40.7h.8M370.9 52.3h.8M386.6 42.4h.8M386.4 42.4h.8M370.8 44.9h.8M371.8 48.1h.8M376.3 45.7h.8M384.6 42.1h.8M392.5 38.0h.8M391.0 38.3h.8M395.6 36.7h.8M380.3 47.0h.8M389.2 43.7h.8M385.7 41.1h.8M385.8 39.5h.8M377.9 47.3h.8M393.3 35.7h.8M372.7 52.3h.8M372.4 55.5h.8M384.2 42.0h.8M375.3 45.2h.8M374.7 47.5h.8M371.3 47.9h.8M380.5 39.6h.8M391.5 36.5h.8M389.3 39.4h.8M379.8 43.6h.8M373.3 44.3h.8M374.8 42.9h.8M374.1 45.7h.8M376.3 47.2h.8M386.6 39.8h.8M381.0 44.0h.8M371.1 51.2h.8M375.8 47.7h.8M381.1 43.8h.8M378.2 43.3h.8M373.3 50.5h.8M381.8 42.5h.8M389.5 40.6h.8M374.0 43.3h.8M371.1 48.9h.8M375.9 48.4h.8M392.0 38.0h.8M375.7 43.6h.8M392.3 35.3h.8M372.3 50.8h.8M384.3 39.1h.8M374.1 45.2h.8M385.1 43.8h.8M376.6 45.3h.8M377.7 48.0h.8M381.2 46.0h.8M386.5 45.1h.8M387.4 38.5h.8M392.7 42.0h.8M386.2 41.0h.8M370.1 51.7h.8M388.1 41.1h.8M380.1 43.4h.8M391.0 38.9h.8M371.4 48.9h.8M375.4 44.0h.8M391.0 40.7h.8M372.0 51.3h.8M378.3 47.5h.8M384.1 40.9h.8M379.7 45.5h.8M379.8 43.5h.8M381.8 45.3h.8M387.2 40.7h.8M382.0 46.1h.8M391.8 35.8h.8" stroke="#000" stroke-opacity="0.42" stroke-width="0.8"/>
<path d="M386.8 41.2h.8M374.0 42.1h.8M389.4 39.4h.8M381.2 41.3h.8M372.2 43.9h.8M377.0 44.9h.8M383.6 43.9h.8M379.3 47.4h.8M392.3 37.1h.8M389.7 38.5h.8M378.9 41.6h.8M374.6 42.9h.8M373.3 53.9h.8M388.8 40.2h.8M382.6 42.3h.8M378.4 48.0h.8M373.3 46.0h.8M376.6 48.9h.8M392.3 34.5h.8M378.7 50.7h.8M378.5 42.4h.8M372.0 50.3h.8M389.4 39.3h.8M379.4 48.8h.8M381.4 42.2h.8M376.6 47.7h.8M385.5 43.1h.8M384.9 40.7h.8M384.5 40.7h.8M392.6 33.8h.8M371.1 50.3h.8M383.3 42.2h.8M372.9 49.4h.8M378.7 44.2h.8M393.0 34.3h.8M387.7 39.8h.8M381.1 44.1h.8M385.6 39.1h.8M393.2 36.5h.8M372.2 50.3h.8M382.9 42.7h.8M379.2 42.4h.8M389.4 40.7h.8M381.2 43.9h.8M380.4 45.1h.8M371.7 46.6h.8M375.5 49.1h.8M372.8 47.8h.8M392.0 35.9h.8M385.0 39.2h.8M380.2 48.7h.8M383.6 43.6h.8M374.4 43.7h.8M371.0 48.7h.8M382.8 41.0h.8M378.8 45.2h.8M382.3 43.7h.8M382.6 43.5h.8M390.2 37.8h.8M373.2 45.9h.8M372.5 52.7h.8M380.2 43.4h.8M374.6 49.0h.8M390.3 36.1h.8M390.1 36.1h.8M372.1 49.4h.8M374.8 44.3h.8M383.8 39.9h.8M381.2 45.0h.8M387.5 43.7h.8M372.2 44.8h.8M372.5 45.4h.8M391.7 35.4h.8M380.3 45.2h.8M388.3 42.8h.8M374.2 53.6h.8M375.3 45.9h.8M383.8 44.3h.8M373.2 44.8h.8M389.3 35.9h.8M384.1 42.2h.8M389.6 42.6h.8M393.3 40.5h.8M386.6 46.5h.8M379.3 47.1h.8M390.8 36.9h.8M388.3 37.4h.8M370.8 53.0h.8M379.3 43.1h.8M382.0 40.3h.8M395.2 34.0h.8M379.4 45.3h.8M387.3 41.6h.8M376.3 48.4h.8M375.0 50.5h.8M388.2 40.9h.8M378.9 42.9h.8M383.6 41.7h.8M372.4 48.7h.8M376.0 45.2h.8M372.6 44.9h.8M372.8 47.4h.8M386.0 42.8h.8M382.6 43.3h.8M377.4 42.8h.8M380.7 42.8h.8M392.5 36.4h.8M386.0 40.3h.8M385.6 42.7h.8M384.1 42.6h.8M381.5 41.2h.8M370.9 46.9h.8M381.0 42.4h.8M379.9 41.0h.8M392.1 36.2h.8M384.2 43.0h.8M389.3 41.6h.8M376.5 44.9h.8M383.4 44.1h.8M390.2 37.2h.8M383.9 43.9h.8M383.5 40.4h.8M374.9 50.7h.8M376.8 41.9h.8M393.2 36.2h.8M386.9 42.3h.8M380.8 42.6h.8M381.8 45.0h.8M392.7 35.7h.8M390.0 39.3h.8M372.6 45.9h.8M377.6 45.7h.8M374.3 50.4h.8M374.7 49.9h.8M373.7 45.7h.8M395.5 37.1h.8M371.8 45.5h.8M383.6 46.9h.8M371.1 44.1h.8M377.4 43.4h.8M382.0 43.9h.8M373.7 49.9h.8M389.7 43.8h.8M392.1 37.5h.8M377.3 47.7h.8M385.1 45.9h.8M377.7 48.5h.8M380.0 43.4h.8M379.5 43.0h.8M376.3 44.5h.8M391.9 41.4h.8M390.3 39.6h.8M391.6 46.1h.8M385.2 43.6h.8M391.5 35.6h.8M377.3 42.8h.8M373.7 44.9h.8M385.7 43.0h.8M390.5 40.6h.8M376.7 49.2h.8M377.8 50.4h.8M387.7 44.4h.8M387.9 42.1h.8M372.5 44.2h.8M384.7 38.8h.8M392.3 35.4h.8M382.1 47.3h.8M378.2 45.4h.8M379.3 46.3h.8M376.1 44.5h.8M381.6 47.0h.8M388.4 36.8h.8M382.1 44.6h.8M392.4 36.0h.8M389.2 38.9h.8" stroke="#000" stroke-opacity="0.42" stroke-width="0.8"/>
<path d="M388.1 39.2h.8M370.2 44.2h.8M373.4 48.8h.8M375.0 46.4h.8M388.8 39.6h.8M387.1 46.1h.8M383.9 46.3h.8M381.1 52.0h.8M389.6 44.2h.8M389.2 40.6h.8M373.5 46.6h.8M386.3 44.4h.8M392.3 38.2h.8M377.3 47.5h.8M377.9 45.0h.8M377.3 46.5h.8M391.8 40.0h.8M392.7 36.1h.8M373.2 47.8h.8M387.2 39.7h.8M380.0 43.1h.8M389.2 38.9h.8M388.7 39.6h.8M371.0 48.8h.8M384.6 44.4h.8M374.9 51.8h.8M385.7 42.4h.8M371.8 43.3h.8M392.2 35.7h.8M372.9 49.4h.8M389.7 43.9h.8M391.4 37.4h.8M383.7 44.1h.8M376.6 46.8h.8M374.2 48.2h.8M383.3 43.4h.8M384.3 44.5h.8M371.4 50.0h.8M377.6 45.4h.8M372.3 49.7h.8M372.8 51.3h.8M394.2 35.3h.8M377.3 43.8h.8M384.4 44.9h.8M391.6 37.4h.8M381.4 41.2h.8M378.9 47.6h.8M373.7 45.1h.8M389.4 40.0h.8M385.4 41.9h.8M390.0 40.2h.8M385.3 39.7h.8M379.6 43.3h.8M375.2 47.4h.8M377.2 42.5h.8M379.3 43.0h.8M383.4 43.4h.8M380.8 43.8h.8M381.1 49.9h.8M378.1 47.3h.8M377.3 44.2h.8M386.7 45.1h.8M384.0 43.5h.8M385.7 45.0h.8M383.5 43.9h.8M385.5 41.0h.8M383.6 39.1h.8M377.4 42.5h.8M373.0 50.5h.8M376.5 51.8h.8M371.6 45.4h.8M371.7 48.1h.8M377.2 48.8h.8M378.9 46.2h.8M371.8 49.9h.8M372.5 47.3h.8M386.6 41.0h.8M392.1 35.4h.8M387.1 42.8h.8M370.9 50.7h.8M377.7 43.6h.8M390.9 38.3h.8M377.7 48.6h.8M377.7 48.8h.8M391.3 37.1h.8M385.8 46.6h.8M391.6 36.9h.8M389.8 41.3h.8M387.2 38.0h.8M382.0 43.1h.8M371.1 50.0h.8M375.1 46.2h.8M374.8 46.0h.8M388.7 41.6h.8M375.6 44.0h.8M389.2 39.3h.8M372.3 44.3h.8M384.1 40.6h.8M390.7 37.1h.8M374.4 48.9h.8M392.6 36.1h.8M389.1 44.0h.8M393.1 39.6h.8M376.3 47.0h.8M375.2 48.1h.8M390.2 38.8h.8M384.7 41.3h.8M390.6 36.9h.8M378.6 44.2h.8M389.1 42.2h.8M376.2 41.6h.8M379.4 48.5h.8M394.2 35.8h.8M371.9 46.0h.8M372.5 45.9h.8M375.6 47.3h.8M387.2 40.9h.8M389.1 37.7h.8M371.4 51.3h.8M375.1 45.7h.8M378.9 48.1h.8M391.8 42.0h.8M392.8 34.3h.8M375.7 44.2h.8M378.1 46.4h.8M379.6 42.2h.8M371.4 52.7h.8M383.7 44.0h.8M374.9 48.5h.8M379.1 44.0h.8M392.7 38.8h.8M377.8 44.3h.8M391.9 38.2h.8M372.8 54.8h.8M378.3 44.9h.8M377.4 45.8h.8M394.8 35.6h.8M375.1 46.8h.8M372.8 50.7h.8M390.6 37.2h.8M373.7 52.4h.8M391.2 38.0h.8M387.8 40.5h.8M384.5 41.6h.8M384.7 39.7h.8M373.9 46.1h.8M391.8 35.8h.8M384.3 40.6h.8M378.5 42.6h.8M380.6 47.2h.8M372.4 45.5h.8M371.2 49.5h.8M372.7 48.6h.8M375.2 42.8h.8M373.1 44.3h.8M370.4 44.2h.8M373.0 55.2h.8M371.9 52.1h.8M390.9 45.7h.8M390.8 39.0h.8M373.3 50.5h.8M372.2 45.1h.8M375.0 47.9h.8M386.9 41.4h.8M386.9 42.7h.8M392.7 35.8h.8M390.9 45.6h.8M392.5 36.5h.8M392.4 39.8h.8M381.2 42.6h.8M389.2 39.0h.8M392.8 37.0h.8M386.3 45.2h.8M383.8 51.7h.8M374.6 46.6h.8" stroke="#000" stroke-opacity="0.42" stroke-width="0.8"/>
<path d="M371.3 48.7h.8M374.7 44.0h.8M389.8 37.1h.8M386.8 38.8h.8M388.7 41.2h.8M379.1 44.9h.8M374.8 45.6h.8M376.7 47.1h.8M382.7 44.3h.8M381.5 45.5h.8M373.8 48.5h.8M385.7 45.6h.8M393.5 36.1h.8M383.7 46.2h.8M380.5 46.1h.8M373.3 48.8h.8M378.7 47.7h.8M381.0 48.2h.8M392.9 35.5h.8M388.6 45.6h.8M377.8 47.4h.8M385.8 41.3h.8M379.8 44.4h.8M373.1 53.6h.8M392.9 46.7h.8M371.5 47.7h.8M384.6 41.3h.8M372.6 49.1h.8M388.6 37.5h.8M383.6 41.3h.8M375.0 46.5h.8M382.4 39.6h.8M376.5 48.3h.8M391.1 45.4h.8M373.1 45.4h.8M387.9 43.7h.8M372.3 45.8h.8M385.8 39.5h.8M383.0 42.3h.8M373.6 45.6h.8M375.8 43.3h.8M372.4 45.3h.8M386.0 42.5h.8M373.9 48.6h.8M372.7 51.1h.8M394.0 37.3h.8M375.3 47.6h.8M375.0 46.7h.8M373.5 47.1h.8M389.5 35.5h.8M388.5 37.9h.8M371.1 51.0h.8M390.1 36.5h.8M385.0 40.7h.8M378.0 42.5h.8M388.3 37.8h.8M385.3 46.2h.8M393.1 35.3h.8M374.1 44.3h.8M375.2 50.0h.8M379.0 48.3h.8M388.1 40.7h.8M382.9 42.7h.8M393.6 32.3h.8M383.9 41.3h.8M375.9 42.3h.8M379.9 45.0h.8M383.7 40.0h.8M382.2 45.0h.8M389.1 37.1h.8M378.0 47.1h.8M384.8 39.7h.8M372.7 48.8h.8M375.3 42.4h.8M378.0 48.8h.8M391.8 39.0h.8M383.7 48.4h.8M379.9 47.7h.8M376.5 49.0h.8M371.6 43.6h.8M383.3 41.5h.8M390.7 41.0h.8M391.3 40.5h.8M392.2 36.6h.8M371.0 52.0h.8M380.2 46.5h.8M381.4 42.5h.8M392.0 37.9h.8M375.1 43.2h.8M389.9 40.6h.8M371.9 47.8h.8M373.4 48.9h.8M380.0 44.2h.8M385.8 42.9h.8M373.2 43.9h.8M374.5 45.2h.8M380.7 44.8h.8M381.1 45.2h.8M370.7 49.3h.8M388.5 36.3h.8M379.0 46.6h.8M380.5 50.0h.8M373.3 50.4h.8M374.0 47.7h.8M378.1 44.3h.8M381.1 42.5h.8M389.9 39.8h.8M378.9 46.2h.8M386.0 40.6h.8M373.3 50.3h.8M393.8 36.0h.8M382.9 41.9h.8M375.2 46.9h.8M376.3 44.1h.8M388.3 38.7h.8M392.3 36.0h.8M389.5 39.5h.8M378.4 43.6h.8M379.4 47.4h.8M373.3 42.4h.8M391.3 38.3h.8M374.7 47.4h.8M377.4 44.6h.8M389.2 40.4h.8M386.9 42.1h.8M388.9 41.0h.8M385.9 38.9h.8M372.0 50.8h.8M392.1 39.5h.8M380.7 45.7h.8M387.3 44.6h.8M384.3 40.3h.8M386.7 43.4h.8M379.2 47.5h.8M373.1 46.7h.8M371.6 50.6h.8M393.1 32.9h.8M394.8 36.0h.8M378.9 42.0h.8M384.1 43.7h.8M383.2 42.9h.8M383.0 44.0h.8M373.0 49.8h.8M385.5 41.3h.8M381.1 44.4h.8M388.9 39.3h.8M376.9 44.2h.8M386.1 40.8h.8M378.7 42.8h.8M374.0 46.5h.8M392.2 35.4h.8M384.3 42.5h.8M378.0 44.4h.8M391.8 39.1h.8M390.4 37.9h.8M385.4 42.7h.8M383.1 50.1h.8M376.2 47.3h.8M384.0 45.8h.8M374.1 47.7h.8M383.4 44.9h.8M372.7 47.7h.8M388.6 37.5h.8M370.6 47.5h.8M381.4 46.3h.8M395.3 34.8h.8M383.1 52.2h.8M382.6 44.5h.8M374.9 45.8h.8M391.1 35.1h.8M388.9 40.2h.8M393.4 35.3h.8M390.1 39.1h.8M380.5 45.6h.8M372.5 46.3h.8" stroke="#000" stroke-opacity="0.42" stroke-width="0.8"/>
<path d="M392.8 35.2h.8M370.8 45.3h.8M391.3 40.0h.8M382.7 43.3h.8M374.9 45.2h.8M373.7 44.0h.8M388.2 39.5h.8M378.6 53.9h.8M380.0 44.8h.8M385.6 39.2h.8M391.0 41.3h.8M377.9 42.8h.8M374.8 44.8h.8M378.7 43.3h.8M372.6 50.7h.8M373.8 43.3h.8M386.1 47.0h.8M371.5 45.6h.8M376.1 49.6h.8M376.6 47.9h.8M377.6 49.3h.8M373.9 50.5h.8M390.0 38.9h.8M377.7 46.2h.8M393.4 36.1h.8M380.1 46.3h.8M382.9 46.0h.8M385.6 44.3h.8M393.6 34.9h.8M379.8 43.0h.8M392.4 35.3h.8M393.5 32.3h.8M372.2 46.0h.8M373.2 44.4h.8M394.8 35.3h.8M379.8 46.2h.8M376.1 46.9h.8M372.6 44.2h.8M376.1 46.1h.8M382.3 39.9h.8M373.3 49.2h.8M395.1 36.7h.8M371.3 51.0h.8M375.6 41.6h.8M372.5 47.9h.8M388.8 38.8h.8M377.8 51.4h.8M387.3 38.0h.8M381.1 41.2h.8M373.6 43.5h.8M375.1 42.7h.8M378.7 42.0h.8M392.0 39.2h.8M382.3 45.7h.8M372.0 53.3h.8M372.0 46.8h.8M383.4 44.3h.8M376.3 50.3h.8M380.4 45.0h.8M380.1 45.3h.8M390.2 37.7h.8M381.5 47.4h.8M386.9 39.8h.8M384.6 39.7h.8M386.1 41.8h.8M391.8 36.7h.8M383.8 40.9h.8M378.5 41.8h.8M379.4 42.9h.8M380.9 43.2h.8M371.3 51.3h.8M384.0 45.1h.8M383.4 42.4h.8M378.7 48.5h.8M372.5 50.4h.8M373.9 51.7h.8M375.1 46.1h.8M389.5 38.3h.8M372.1 47.9h.8M392.1 35.9h.8M388.7 38.2h.8M375.5 46.7h.8M377.0 43.8h.8M383.7 44.4h.8M386.4 39.7h.8M382.9 45.8h.8M374.2 45.5h.8M379.2 47.6h.8M374.6 42.8h.8M377.2 44.3h.8M378.2 44.9h.8M377.4 46.6h.8M374.2 43.4h.8M389.6 38.8h.8M387.9 38.6h.8M376.4 43.7h.8M371.8 49.3h.8M391.9 39.0h.8M382.5 41.2h.8M389.5 36.1h.8M393.2 34.6h.8M383.7 43.6h.8M373.3 50.9h.8M381.3 49.2h.8M371.7 46.5h.8M370.7 50.1h.8M378.6 42.7h.8M380.3 44.1h.8M384.3 40.8h.8M383.6 39.1h.8M376.3 45.1h.8M380.1 47.0h.8M374.0 44.0h.8M373.4 45.7h.8M377.8 44.7h.8M385.7 40.7h.8M380.1 43.7h.8M381.2 44.0h.8M379.4 47.1h.8M393.8 33.5h.8M378.3 44.5h.8M391.8 37.6h.8M375.6 47.9h.8M387.3 39.3h.8M382.3 46.2h.8M387.8 38.8h.8M383.0 41.6h.8M379.9 41.6h.8M390.6 40.6h.8M385.4 43.1h.8M382.7 42.7h.8M374.5 43.7h.8M375.1 50.7h.8M385.9 39.6h.8M385.3 40.2h.8M373.3 44.0h.8M378.9 43.9h.8M381.2 48.6h.8M392.7 35.1h.8M372.8 54.6h.8M391.1 37.6h.8M390.2 37.5h.8M385.7 39.8h.8M375.6 45.6h.8M393.0 34.6h.8M390.6 43.8h.8M389.5 38.1h.8M387.8 42.8h.8M381.9 44.0h.8M393.9 38.5h.8M374.3 45.3h.8M384.4 40.8h.8M377.7 47.6h.8M384.0 41.4h.8M381.5 41.2h.8M380.9 47.0h.8M395.5 35.8h.8M389.8 36.4h.8M385.6 40.0h.8M371.3 46.7h.8M378.6 43.8h.8M385.9 39.0h.8M373.6 50.8h.8M375.3 44.2h.8M372.2 53.0h.8M388.6 39.0h.8M388.0 41.5h.8M386.8 44.7h.8M385.9 39.4h.8M391.7 37.2h.8M371.1 50.5h.8M371.1 44.5h.8M380.9 42.3h.8M378.7 48.2h.8" stroke="#000" stroke-opacity="0.42" stroke-width="0.8"/>
<path d="M362.1 44.3h.7M363.6 47.4h.7M364.6 47.5h.7M351.6 48.1h.7M348.5 49.5h.7M359.6 52.9h.7M371.2 49.4h.7M356.4 38.9h.7M360.9 47.7h.7M363.0 45.1h.7M368.2 51.5h.7M364.6 46.8h.7M366.7 53.0h.7M354.8 40.5h.7M370.9 49.5h.7M348.2 49.7h.7M360.8 46.0h.7M355.4 44.8h.7M348.5 47.8h.7M351.5 46.7h.7M359.7 51.2h.7M359.3 51.2h.7M351.7 45.0h.7M368.2 46.9h.7M363.9 50.8h.7M371.0 41.8h.7M358.7 56.1h.7M358.6 47.8h.7M349.4 53.2h.7M358.5 53.0h.7M368.2 43.4h.7M359.8 45.8h.7M350.8 48.6h.7M356.2 49.2h.7M366.1 45.4h.7M367.8 37.9h.7M369.1 48.4h.7M359.1 54.0h.7M368.5 49.9h.7M353.6 54.1h.7M369.5 46.7h.7M363.3 51.5h.7M356.1 44.4h.7M353.3 50.1h.7M369.3 52.6h.7M350.3 45.9h.7" stroke="#000" stroke-opacity="0.28" stroke-width="0.7"/>
<path d="M362.6 51.6h.7M368.8 48.4h.7M370.2 50.7h.7M362.7 46.3h.7M370.4 47.3h.7M363.7 52.2h.7M368.6 40.7h.7M366.1 48.7h.7M362.0 48.8h.7M368.4 45.4h.7M355.5 48.4h.7M355.7 52.1h.7M370.9 44.9h.7M353.2 52.3h.7M361.6 52.4h.7M368.1 44.4h.7M362.1 46.9h.7M358.3 44.3h.7M371.8 44.1h.7M357.8 49.4h.7M373.6 42.9h.7M348.1 48.8h.7M365.8 46.6h.7M351.9 49.6h.7M358.9 52.7h.7M365.1 47.9h.7M351.0 49.9h.7M358.8 51.4h.7M353.0 51.8h.7M364.6 40.7h.7M353.6 49.0h.7M373.4 53.5h.7M349.5 42.5h.7M373.1 49.2h.7M370.0 43.6h.7M365.2 48.1h.7M352.0 48.3h.7M367.5 47.1h.7M361.7 52.4h.7M348.0 46.9h.7M353.9 55.6h.7M360.9 50.2h.7M369.8 51.4h.7M350.4 49.8h.7M362.4 48.5h.7M355.1 51.1h.7" stroke="#000" stroke-opacity="0.28" stroke-width="0.7"/>
<path d="M356.0 54.9h.7M371.7 52.3h.7M362.2 55.8h.7M363.7 51.6h.7M374.1 49.7h.7M359.6 51.1h.7M366.7 42.9h.7M351.7 41.6h.7M357.5 53.1h.7M367.5 42.4h.7M371.1 48.1h.7M358.1 50.1h.7M347.7 45.5h.7M368.0 47.7h.7M370.9 56.4h.7M356.0 48.5h.7M356.3 45.7h.7M359.6 57.6h.7M354.2 50.1h.7M360.2 50.5h.7M358.2 48.7h.7M371.9 46.1h.7M358.3 56.3h.7M361.0 50.4h.7M368.1 48.2h.7M368.7 46.7h.7M367.6 45.0h.7M362.4 48.2h.7M351.8 46.4h.7M353.3 54.8h.7M361.9 47.7h.7M372.5 45.9h.7M363.5 43.2h.7M354.8 53.1h.7M360.1 45.5h.7M356.0 46.7h.7M363.9 54.7h.7M358.0 52.6h.7M352.5 46.7h.7M359.5 45.7h.7M366.9 44.0h.7M352.9 54.4h.7M366.8 48.8h.7M359.5 54.7h.7M372.7 53.0h.7M359.0 46.3h.7" stroke="#000" stroke-opacity="0.28" stroke-width="0.7"/>
<path d="M364.8 45.5h.7M359.5 54.8h.7M374.5 50.8h.7M353.7 52.7h.7M356.6 51.5h.7M371.5 52.4h.7M370.3 46.8h.7M355.5 46.0h.7M352.6 45.1h.7M363.1 48.7h.7M361.6 51.7h.7M361.1 44.4h.7M363.7 52.3h.7M369.5 41.9h.7M358.5 51.2h.7M368.3 49.1h.7M371.6 51.3h.7M365.3 47.8h.7M357.3 43.4h.7M372.0 54.6h.7M366.6 52.1h.7M352.2 52.4h.7M354.5 45.9h.7M369.2 48.8h.7M373.9 46.8h.7M373.4 51.3h.7M371.4 51.3h.7M350.9 53.5h.7M362.3 54.0h.7M361.5 48.2h.7M378.2 48.3h.7M360.3 48.2h.7M366.1 47.3h.7M360.5 46.7h.7M364.8 47.3h.7M365.7 47.3h.7M373.1 47.5h.7M359.8 47.4h.7M352.1 44.6h.7M366.5 39.3h.7M361.8 49.3h.7M360.3 40.8h.7M353.9 46.3h.7M367.6 46.0h.7M368.5 46.4h.7M370.4 48.7h.7" stroke="#000" stroke-opacity="0.28" stroke-width="0.7"/>
<path d="M374.9 45.4h.7M367.5 46.1h.7M361.8 42.3h.7M372.3 45.8h.7M356.1 47.1h.7M370.7 41.9h.7M352.3 48.9h.7M368.9 48.2h.7M367.4 41.4h.7M350.8 50.7h.7M356.1 49.1h.7M359.8 44.9h.7M359.7 52.9h.7M355.2 44.7h.7M354.5 57.4h.7M354.4 52.2h.7M357.5 46.7h.7M359.2 53.7h.7M355.4 45.1h.7M362.4 46.4h.7M346.8 54.6h.7M360.4 50.2h.7M359.4 52.1h.7M363.1 48.4h.7M359.8 46.3h.7M366.3 51.9h.7M363.1 44.2h.7M360.6 53.7h.7M353.1 49.3h.7M370.5 43.4h.7M362.8 44.0h.7M354.4 51.4h.7M365.7 42.5h.7M354.0 48.6h.7M365.0 41.4h.7M352.5 46.5h.7M346.7 48.1h.7M366.7 51.3h.7M365.8 51.8h.7M368.2 50.0h.7M370.9 47.5h.7M364.2 46.1h.7M354.1 50.3h.7M358.2 49.7h.7M368.3 42.2h.7M353.4 44.9h.7" stroke="#000" stroke-opacity="0.28" stroke-width="0.7"/>
<path d="M354.2 52.7h.7M368.0 50.9h.7M366.1 49.9h.7M351.9 52.0h.7M370.6 49.5h.7M351.7 43.4h.7M363.3 43.5h.7M358.2 48.0h.7M359.8 54.4h.7M349.6 52.5h.7M353.7 48.1h.7M370.7 54.5h.7M367.8 48.7h.7M368.4 48.3h.7M359.9 47.9h.7M358.2 51.6h.7M352.5 55.6h.7M356.2 46.5h.7M355.3 45.0h.7M374.0 45.6h.7M367.7 53.0h.7M357.6 44.3h.7M358.1 47.2h.7M365.6 42.5h.7M360.5 49.4h.7M351.9 42.4h.7M374.9 48.6h.7M361.5 46.3h.7M363.2 44.0h.7M351.7 50.2h.7M357.8 54.6h.7M369.9 44.8h.7M364.2 47.9h.7M370.7 43.3h.7M354.8 48.0h.7M365.7 48.5h.7M352.5 47.5h.7M368.3 40.3h.7M362.1 41.9h.7M353.3 52.7h.7M361.3 55.5h.7M360.2 49.7h.7M369.6 45.3h.7M359.1 49.6h.7M351.8 52.3h.7M357.4 55.3h.7" stroke="#000" stroke-opacity="0.28" stroke-width="0.7"/>
<path d="M374.1 52.8h.7M364.4 42.8h.7M368.2 50.7h.7M357.5 55.7h.7M371.1 50.7h.7M355.6 56.6h.7M359.3 54.6h.7M361.5 47.2h.7M368.2 50.6h.7M368.1 50.5h.7M359.5 48.3h.7M361.5 43.9h.7M354.7 48.2h.7M355.4 43.1h.7M367.0 45.2h.7M361.8 46.8h.7M370.6 52.1h.7M369.1 56.4h.7M359.2 53.1h.7M372.4 45.1h.7M363.4 42.2h.7M354.7 55.4h.7M369.9 50.6h.7M362.2 47.1h.7M352.6 45.0h.7M368.5 45.4h.7M366.5 52.0h.7M365.3 45.9h.7M354.5 49.4h.7M356.7 44.4h.7M364.3 50.1h.7M365.3 53.8h.7M354.1 50.7h.7M372.5 50.4h.7M368.5 49.0h.7M355.2 54.3h.7M376.1 48.1h.7M352.3 49.3h.7M353.4 56.3h.7M366.0 46.1h.7M357.6 53.9h.7M362.7 55.5h.7M355.6 43.3h.7M350.2 45.6h.7M367.0 47.2h.7M357.0 53.7h.7" stroke="#000" stroke-opacity="0.28" stroke-width="0.7"/>
<path d="M363.6 50.7h.7M365.7 49.4h.7M353.9 51.7h.7M358.4 48.4h.7M364.6 50.2h.7M365.1 50.9h.7M371.0 47.9h.7M368.4 49.0h.7M357.8 49.7h.7M358.4 45.7h.7M365.2 44.2h.7M357.7 44.2h.7M367.5 48.2h.7M364.1 41.5h.7M366.6 43.9h.7M362.8 50.3h.7M372.8 50.3h.7M363.6 47.3h.7M370.0 44.7h.7M346.7 55.7h.7M362.4 51.7h.7M366.9 50.5h.7M358.8 42.6h.7M362.2 39.6h.7M367.2 50.3h.7M362.2 50.6h.7M351.8 51.4h.7M370.8 49.3h.7M360.4 57.7h.7M359.0 49.7h.7M359.5 42.9h.7M367.5 46.0h.7M353.6 55.8h.7M365.4 52.0h.7M367.1 52.0h.7M357.0 49.8h.7M372.9 48.7h.7M371.2 49.2h.7M358.0 53.8h.7M372.0 53.6h.7M367.2 46.4h.7M367.0 40.1h.7M356.6 51.2h.7M366.0 50.2h.7M371.1 54.1h.7M368.1 41.7h.7" stroke="#000" stroke-opacity="0.28" stroke-width="0.7"/>
<path d="M367.6 50.6h.7M356.1 43.9h.7M368.7 45.7h.7M356.5 49.9h.7M351.6 42.2h.7M372.5 45.8h.7M357.1 43.5h.7M360.5 48.3h.7M366.9 47.9h.7M365.1 47.1h.7M361.6 48.3h.7M372.2 49.2h.7M357.1 50.3h.7M367.6 39.5h.7M364.3 56.6h.7M354.9 52.4h.7M363.7 51.7h.7M353.0 52.1h.7M354.9 46.0h.7M364.9 50.7h.7M371.5 50.6h.7M366.7 52.4h.7M360.8 56.0h.7M364.6 49.3h.7M359.3 44.0h.7M370.7 51.7h.7M369.5 47.5h.7M353.2 46.2h.7M375.0 50.8h.7M361.8 49.5h.7M366.4 50.4h.7M361.3 54.5h.7M352.0 44.7h.7M355.9 53.3h.7M368.5 46.2h.7M370.1 40.3h.7M371.9 49.9h.7M368.7 41.8h.7M356.0 51.3h.7M364.6 55.2h.7M363.0 48.9h.7M349.7 46.4h.7M356.1 53.9h.7M358.5 49.4h.7M368.1 48.1h.7M360.3 49.3h.7" stroke="#000" stroke-opacity="0.28" stroke-width="0.7"/>
<path d="M360.2 54.2h.7M355.0 50.8h.7M368.0 48.8h.7M356.5 44.5h.7M365.4 40.7h.7M371.1 51.1h.7M366.7 50.1h.7M362.6 52.3h.7M370.1 41.1h.7M350.0 49.1h.7M358.8 46.8h.7M360.5 43.9h.7M352.6 49.5h.7M354.2 44.0h.7M366.8 56.1h.7M357.2 43.0h.7M350.6 43.4h.7M364.1 44.2h.7M354.5 50.6h.7M368.1 45.0h.7M352.5 55.8h.7M366.2 47.2h.7M366.2 43.8h.7M355.4 50.2h.7M360.5 53.5h.7M369.5 52.8h.7M355.0 57.7h.7M367.5 45.7h.7M353.7 45.5h.7M370.5 47.5h.7M372.2 44.2h.7M367.4 46.5h.7M345.7 45.5h.7M362.5 54.3h.7M370.4 48.6h.7M366.9 47.0h.7M352.6 53.1h.7M362.5 50.1h.7M354.0 53.1h.7M355.4 41.7h.7M354.4 49.9h.7M371.5 49.4h.7M369.0 45.7h.7M361.9 54.3h.7M354.0 52.1h.7M363.8 47.9h.7" stroke="#000" stroke-opacity="0.28" stroke-width="0.7"/>
<path d="M367.3 43.8h.7M357.6 40.3h.7M367.2 52.4h.7M365.4 49.5h.7M367.9 47.3h.7M360.2 52.1h.7M356.1 51.8h.7M355.9 48.0h.7M358.5 52.5h.7M356.2 48.4h.7M357.1 47.3h.7M352.1 51.8h.7M362.2 43.8h.7M365.4 50.5h.7M360.0 50.9h.7M362.6 52.3h.7M354.7 57.7h.7M362.0 46.5h.7M357.5 44.1h.7M366.5 51.6h.7M370.5 49.3h.7M359.4 53.1h.7M353.0 54.7h.7M357.7 49.3h.7M371.6 45.6h.7M366.7 43.3h.7M356.5 43.6h.7M369.9 45.8h.7M354.3 50.3h.7M357.4 52.1h.7M366.9 51.3h.7M362.5 51.1h.7M361.6 43.6h.7M368.1 52.8h.7M370.6 47.2h.7M363.7 47.2h.7M354.4 50.8h.7M355.4 45.0h.7M366.2 49.5h.7M359.6 50.0h.7M369.3 52.0h.7M351.6 48.2h.7M359.3 44.2h.7M367.2 51.0h.7M371.9 53.6h.7" stroke="#000" stroke-opacity="0.28" stroke-width="0.7"/>
<path d="M355.4 54.0h.7M369.9 40.0h.7M352.2 48.0h.7M371.9 50.7h.7M350.8 41.7h.7M366.8 47.6h.7M359.1 57.4h.7M363.8 45.3h.7M363.4 39.6h.7M373.9 51.1h.7M353.2 51.6h.7M351.5 55.3h.7M361.1 48.8h.7M354.7 53.9h.7M349.3 52.1h.7M362.6 52.5h.7M355.8 52.3h.7M364.0 46.3h.7M352.8 43.7h.7M369.7 39.5h.7M357.6 44.7h.7M363.3 44.2h.7M370.2 42.7h.7M350.3 49.0h.7M354.9 54.0h.7M358.1 52.6h.7M360.7 46.1h.7M369.4 50.5h.7M364.6 47.6h.7M361.8 45.6h.7M360.8 43.3h.7M351.6 43.2h.7M360.7 51.5h.7M353.7 47.5h.7M347.7 55.1h.7M364.3 43.4h.7M361.0 50.3h.7M360.4 39.2h.7M357.7 51.3h.7M348.7 54.1h.7M356.3 58.3h.7M374.2 51.9h.7M353.6 56.0h.7M352.7 49.9h.7M360.3 51.5h.7" stroke="#000" stroke-opacity="0.28" stroke-width="0.7"/>
<path d="M367.8 54.6h.7M361.9 43.9h.7M370.1 54.4h.7M368.9 47.3h.7M369.3 43.5h.7M361.1 48.8h.7M369.7 42.7h.7M365.0 50.6h.7M364.4 45.1h.7M366.7 48.2h.7M368.6 46.7h.7M365.4 49.0h.7M368.9 49.6h.7M369.9 48.8h.7M371.6 49.0h.7M371.8 47.9h.7M363.2 50.1h.7M367.3 49.4h.7M367.6 48.7h.7M367.5 45.6h.7M365.2 43.4h.7M369.8 46.2h.7M362.7 42.1h.7M371.5 49.7h.7M363.7 46.9h.7" stroke="#000" stroke-opacity="0.3" stroke-width="0.7"/>
<path d="M361.5 51.9h.7M371.7 53.3h.7M368.2 51.5h.7M364.6 50.0h.7M368.2 53.0h.7M364.2 47.3h.7M365.2 45.4h.7M362.5 46.1h.7M372.6 47.9h.7M365.0 48.4h.7M367.6 46.0h.7M360.1 51.6h.7M360.7 43.9h.7M370.4 48.5h.7M373.0 46.8h.7M366.8 47.3h.7M368.8 48.7h.7M366.4 50.3h.7M364.2 52.6h.7M369.6 44.0h.7M368.1 46.4h.7M363.5 53.3h.7M371.6 49.3h.7M368.9 52.2h.7M361.3 49.2h.7" stroke="#000" stroke-opacity="0.3" stroke-width="0.7"/>
<path d="M370.8 42.0h.7M367.3 43.0h.7M365.3 45.5h.7M367.0 42.7h.7M362.9 52.0h.7M364.3 46.7h.7M369.0 45.3h.7M369.0 52.6h.7M369.5 50.4h.7M370.7 45.3h.7M366.1 51.4h.7M368.6 49.8h.7M365.4 44.4h.7M371.0 48.5h.7M367.8 41.4h.7M371.6 49.4h.7M365.3 44.4h.7M367.0 49.2h.7M372.6 45.8h.7M366.2 51.3h.7M366.5 44.3h.7M368.4 48.3h.7M371.6 46.7h.7M362.6 43.0h.7M361.7 52.3h.7" stroke="#000" stroke-opacity="0.3" stroke-width="0.7"/>
<path d="M367.0 49.2h.7M369.8 45.4h.7M364.6 54.4h.7M375.4 46.5h.7M363.7 50.5h.7M369.5 51.0h.7M368.2 49.9h.7M360.4 53.9h.7M369.0 50.8h.7M369.8 47.0h.7M372.8 45.7h.7M365.7 44.0h.7M367.2 50.5h.7M369.3 43.8h.7M369.2 48.6h.7M369.6 42.7h.7M363.6 52.1h.7M372.5 46.3h.7M362.1 49.1h.7M363.6 51.4h.7M363.7 50.1h.7M360.6 53.2h.7M367.5 44.3h.7M362.5 48.5h.7M361.5 45.7h.7" stroke="#000" stroke-opacity="0.3" stroke-width="0.7"/>
<path d="M372.0 47.6h.7M360.9 45.6h.7M371.5 43.5h.7M367.9 51.9h.7M366.1 53.3h.7M373.3 46.6h.7M366.0 43.3h.7M364.0 50.7h.7M369.4 52.1h.7M367.3 46.7h.7M366.5 46.6h.7M375.6 51.4h.7M369.1 44.2h.7M367.0 44.7h.7M364.1 47.4h.7M368.0 51.4h.7M367.2 44.4h.7M369.3 50.4h.7M364.3 50.2h.7M369.7 47.5h.7M363.9 52.7h.7M365.9 49.4h.7M369.0 52.6h.7M365.3 50.5h.7M366.8 49.1h.7" stroke="#000" stroke-opacity="0.3" stroke-width="0.7"/>
<path d="M366.0 42.7h.7M368.7 47.6h.7M366.6 49.5h.7M364.2 46.7h.7M370.2 51.4h.7M363.7 50.7h.7M365.7 47.4h.7M369.6 48.5h.7M364.0 46.0h.7M369.1 48.4h.7M366.6 50.3h.7M366.7 45.3h.7M362.3 48.8h.7M365.2 52.9h.7M371.6 46.4h.7M365.8 44.1h.7M367.4 50.1h.7M361.3 50.1h.7M359.4 50.2h.7M372.1 49.4h.7M371.5 44.5h.7M372.3 48.7h.7M365.1 48.5h.7M364.0 47.4h.7M366.6 49.8h.7" stroke="#000" stroke-opacity="0.3" stroke-width="0.7"/>
<path d="M361.3 43.7h.7M359.4 51.4h.7M360.9 44.5h.7M365.1 47.3h.7M369.6 47.4h.7M363.1 45.3h.7M363.3 46.6h.7M365.2 51.4h.7M360.2 44.3h.7M368.8 50.5h.7M362.2 50.0h.7M371.1 46.6h.7M361.8 53.0h.7M369.0 49.7h.7M368.6 43.5h.7M365.5 49.1h.7M365.0 44.1h.7M364.2 49.7h.7M367.2 53.6h.7M366.3 46.1h.7M372.6 46.5h.7M370.6 44.1h.7M361.1 51.2h.7M367.3 46.8h.7M363.0 53.3h.7" stroke="#000" stroke-opacity="0.3" stroke-width="0.7"/>
<path d="M365.3 48.8h.7M363.1 55.6h.7M368.0 46.6h.7M366.6 44.9h.7M364.5 47.1h.7M372.4 52.3h.7M371.2 46.1h.7M363.2 47.4h.7M370.5 44.6h.7M372.0 47.3h.7M369.7 48.5h.7M364.2 49.2h.7M363.2 48.1h.7M367.6 48.9h.7M362.4 49.1h.7M372.7 44.3h.7M364.7 46.3h.7M365.5 53.5h.7M369.6 51.9h.7M364.2 44.6h.7M370.6 42.8h.7M366.1 47.1h.7M366.4 46.0h.7M364.7 43.6h.7M365.5 51.1h.7" stroke="#000" stroke-opacity="0.3" stroke-width="0.7"/>
<path d="M362.8 47.9h.7M369.8 43.2h.7M368.6 53.9h.7M365.3 49.1h.7M365.6 47.5h.7M366.0 50.3h.7M371.6 52.2h.7M370.0 46.3h.7M362.3 43.9h.7M371.5 49.0h.7M366.8 51.6h.7M368.3 44.3h.7M369.8 51.8h.7M365.9 49.8h.7M362.8 45.6h.7M364.1 50.2h.7M371.5 46.5h.7M368.8 46.4h.7M369.4 40.8h.7M366.1 50.6h.7M367.0 47.5h.7M367.0 44.4h.7M363.9 48.0h.7M372.2 49.6h.7M365.8 46.2h.7" stroke="#000" stroke-opacity="0.3" stroke-width="0.7"/>
<path d="M369.4 44.9h.7M364.3 45.0h.7M365.9 52.5h.7M364.7 45.8h.7M364.3 48.6h.7M367.8 44.9h.7M365.8 41.8h.7M360.7 46.9h.7M360.1 44.0h.7M368.7 53.4h.7M367.2 50.6h.7M366.5 51.3h.7M368.4 43.0h.7M364.3 45.5h.7M371.8 43.0h.7M370.1 49.5h.7M366.0 46.0h.7M365.5 44.6h.7M369.0 50.2h.7M364.7 47.2h.7M368.6 48.5h.7M365.9 50.8h.7M367.9 48.0h.7M362.4 54.5h.7M366.6 48.3h.7" stroke="#000" stroke-opacity="0.3" stroke-width="0.7"/>
<path d="M366.3 45.0h.7M372.0 42.6h.7M371.2 46.3h.7M368.0 48.6h.7M365.5 43.8h.7M365.0 50.3h.7M369.1 45.5h.7M369.9 43.5h.7M368.2 42.1h.7M368.5 51.6h.7M370.2 51.5h.7M370.6 48.6h.7M371.9 52.9h.7M371.5 48.4h.7M368.3 43.0h.7M368.3 48.0h.7M366.0 48.4h.7M364.1 51.9h.7M365.0 47.8h.7M373.4 51.1h.7M371.6 50.5h.7M364.0 46.0h.7M367.4 45.6h.7M364.5 51.3h.7M373.0 51.7h.7" stroke="#000" stroke-opacity="0.3" stroke-width="0.7"/>
<path d="M371.4 47.3h.7M366.9 50.3h.7M371.1 48.0h.7M361.5 54.5h.7M364.5 47.1h.7M366.9 49.3h.7M365.2 44.7h.7M369.0 49.1h.7M364.2 50.7h.7M365.9 42.8h.7M361.8 51.9h.7M369.5 46.1h.7M371.5 48.5h.7M360.8 45.1h.7M367.2 43.1h.7M370.8 41.3h.7M371.6 51.7h.7M362.9 50.6h.7M362.3 50.7h.7M372.5 48.8h.7M370.3 43.3h.7M373.6 48.8h.7M365.9 47.0h.7M361.6 44.9h.7M372.9 47.1h.7" stroke="#000" stroke-opacity="0.3" stroke-width="0.7"/>
<path d="M380.6 51.2h.7M370.1 57.2h.7M371.9 56.0h.7M370.0 63.0h.7M370.7 51.3h.7M384.1 48.1h.7M380.3 50.7h.7M385.9 53.6h.7M391.1 54.2h.7M386.6 49.5h.7M388.6 59.8h.7M386.1 50.9h.7M391.6 47.5h.7M379.8 55.4h.7M390.1 53.1h.7M384.5 51.6h.7M369.8 60.5h.7M376.6 52.3h.7M379.3 54.2h.7M376.9 51.7h.7M378.6 54.3h.7M384.7 53.8h.7M381.8 50.2h.7M384.5 57.1h.7M389.7 53.0h.7" stroke="#000" stroke-opacity="0.3" stroke-width="0.7"/>
<path d="M378.5 54.2h.7M384.9 52.3h.7M384.7 54.0h.7M378.7 53.1h.7M378.7 48.6h.7M374.5 60.6h.7M372.9 58.1h.7M379.5 53.5h.7M378.7 52.6h.7M375.1 51.5h.7M378.5 59.0h.7M387.7 52.6h.7M377.2 55.9h.7M379.0 50.4h.7M383.3 55.5h.7M389.8 50.9h.7M382.7 44.5h.7M374.1 55.2h.7M378.8 55.6h.7M389.8 48.3h.7M381.9 54.4h.7M376.8 53.4h.7M384.3 52.5h.7M377.0 60.2h.7M381.7 55.3h.7" stroke="#000" stroke-opacity="0.3" stroke-width="0.7"/>
<path d="M387.2 51.8h.7M378.4 53.5h.7M381.6 58.1h.7M383.9 59.4h.7M385.6 51.5h.7M386.5 49.6h.7M382.4 54.0h.7M386.5 53.1h.7M381.7 50.6h.7M376.7 55.1h.7M377.5 57.6h.7M378.6 58.9h.7M379.1 50.3h.7M381.0 52.6h.7M389.5 57.6h.7M385.1 52.5h.7M386.7 54.4h.7M379.5 54.1h.7M387.3 46.3h.7M388.7 56.7h.7M392.3 53.6h.7M379.6 44.2h.7M388.5 54.3h.7M376.5 46.1h.7M381.4 56.4h.7" stroke="#000" stroke-opacity="0.3" stroke-width="0.7"/>
<path d="M383.8 54.6h.7M366.2 54.2h.7M377.8 52.5h.7M385.9 51.2h.7M388.8 52.5h.7M381.5 52.6h.7M374.2 56.5h.7M390.2 44.3h.7M381.5 52.1h.7M397.3 48.6h.7M385.8 50.8h.7M387.0 47.3h.7M384.0 48.8h.7M389.6 49.9h.7M366.8 59.4h.7M376.2 62.0h.7M377.0 53.8h.7M381.8 55.1h.7M370.8 56.7h.7M371.1 52.5h.7M377.6 52.8h.7M381.0 54.9h.7M389.3 47.4h.7M382.3 51.1h.7M381.2 50.7h.7" stroke="#000" stroke-opacity="0.3" stroke-width="0.7"/>
<path d="M379.0 57.1h.7M367.9 53.4h.7M370.1 62.3h.7M384.7 50.5h.7M384.7 49.7h.7M381.1 50.0h.7M394.5 50.2h.7M382.0 52.0h.7M392.1 49.2h.7M378.4 53.5h.7M374.7 52.2h.7M381.1 55.8h.7M388.7 51.2h.7M378.7 53.9h.7M388.8 51.3h.7M378.7 54.0h.7M389.1 45.7h.7M382.0 45.1h.7M383.1 52.7h.7M382.6 47.3h.7M381.7 58.2h.7M384.0 50.7h.7M385.8 57.1h.7M376.9 62.6h.7M380.0 50.6h.7" stroke="#000" stroke-opacity="0.3" stroke-width="0.7"/>
<path d="M380.2 55.3h.7M386.7 54.8h.7M389.5 54.3h.7M386.7 49.2h.7M384.3 54.8h.7M386.1 49.1h.7M375.4 57.3h.7M383.6 52.4h.7M378.6 54.1h.7M378.3 49.5h.7M389.5 54.8h.7M392.6 53.2h.7M378.7 49.8h.7M382.6 46.6h.7M376.7 50.5h.7M390.0 52.1h.7M385.5 54.8h.7M388.7 50.5h.7M386.7 52.9h.7M379.4 52.0h.7M386.4 45.1h.7M381.8 55.2h.7M378.5 52.0h.7M377.6 48.5h.7M386.1 50.7h.7" stroke="#000" stroke-opacity="0.3" stroke-width="0.7"/>
<path d="M379.4 56.7h.7M389.3 48.0h.7M373.8 58.0h.7M379.3 52.7h.7M387.7 51.5h.7M376.7 58.3h.7M382.2 50.6h.7M378.6 54.9h.7M381.1 46.4h.7M382.1 53.9h.7M380.4 52.7h.7M376.1 53.4h.7M381.7 52.9h.7M378.5 50.7h.7M391.5 55.8h.7M378.7 47.1h.7M383.2 51.3h.7M381.2 51.5h.7M371.0 56.8h.7M385.6 47.2h.7M379.2 52.3h.7M379.8 48.9h.7M379.0 52.1h.7M382.9 55.9h.7M380.0 61.5h.7" stroke="#000" stroke-opacity="0.3" stroke-width="0.7"/>
<path d="M377.4 60.3h.7M383.6 51.0h.7M373.8 59.5h.7M388.6 50.9h.7M380.4 51.1h.7M383.5 56.0h.7M377.4 55.0h.7M373.6 52.5h.7M374.3 51.1h.7M381.9 50.3h.7M378.4 54.4h.7M388.3 48.3h.7M385.7 51.8h.7M377.9 53.0h.7M369.7 53.8h.7M383.2 56.0h.7M383.8 53.8h.7M386.8 50.0h.7M376.8 54.1h.7M383.5 54.3h.7M389.9 53.9h.7M382.9 47.1h.7M379.4 59.0h.7M386.7 50.4h.7M383.7 56.4h.7" stroke="#000" stroke-opacity="0.3" stroke-width="0.7"/>
<path d="M378.9 52.5h.7M383.9 52.5h.7M380.6 51.9h.7M379.0 49.0h.7M379.4 52.1h.7M384.5 54.8h.7M371.0 60.1h.7M376.3 55.5h.7M381.3 54.6h.7M381.0 50.9h.7M380.3 56.8h.7M383.3 51.3h.7M380.5 49.2h.7M390.3 52.0h.7M386.3 53.9h.7M379.6 49.1h.7M388.3 55.8h.7M387.1 47.3h.7M374.4 57.1h.7M374.6 52.2h.7M378.2 51.1h.7M379.4 60.5h.7M379.4 54.2h.7M379.4 52.9h.7M379.3 55.4h.7" stroke="#000" stroke-opacity="0.3" stroke-width="0.7"/>
<path d="M376.6 51.4h.7M378.2 57.7h.7M381.8 52.0h.7M386.8 49.8h.7M389.2 53.8h.7M391.4 50.2h.7M386.5 52.8h.7M387.5 54.6h.7M375.3 50.1h.7M378.1 48.5h.7M387.4 52.4h.7M383.9 47.8h.7M378.6 54.1h.7M382.4 49.3h.7M377.2 49.9h.7M391.2 56.5h.7M373.7 55.7h.7M392.6 53.1h.7M380.4 51.3h.7M388.3 53.1h.7M383.5 54.0h.7M384.7 54.6h.7M378.6 60.9h.7M375.7 56.5h.7M379.9 55.9h.7" stroke="#000" stroke-opacity="0.3" stroke-width="0.7"/>
<path d="M378.8 49.2h.7M378.4 52.1h.7M391.8 52.8h.7M383.1 51.5h.7M380.2 51.5h.7M387.3 49.1h.7M387.3 54.8h.7M374.2 54.8h.7M385.2 50.1h.7M385.6 50.5h.7M375.1 50.8h.7M373.8 52.8h.7M384.2 51.1h.7M384.1 53.8h.7M389.4 54.4h.7M388.8 53.8h.7M383.0 57.6h.7M375.9 57.6h.7M375.4 60.3h.7M371.5 51.8h.7M382.3 49.1h.7M386.2 53.9h.7M375.1 51.2h.7M385.4 56.1h.7M386.7 58.7h.7" stroke="#000" stroke-opacity="0.3" stroke-width="0.7"/>
<path d="M387.3 50.4h.7M379.4 51.5h.7M374.5 58.3h.7M383.8 52.8h.7M387.4 54.8h.7M381.8 45.2h.7M374.1 56.2h.7M388.3 50.6h.7M382.0 54.4h.7M366.9 57.5h.7M380.4 57.7h.7M395.2 54.3h.7M372.6 52.7h.7M371.3 51.3h.7M371.4 56.8h.7M371.7 54.8h.7M377.2 60.2h.7M377.7 50.5h.7M387.6 52.7h.7M391.7 49.8h.7M381.2 55.0h.7M383.6 54.9h.7M386.9 49.1h.7M378.2 59.7h.7M369.6 57.7h.7" stroke="#000" stroke-opacity="0.3" stroke-width="0.7"/>
<line x1="371.40" y1="30.40" x2="371.40" y2="100.70" stroke="#333" stroke-width="0.9"/>
<line x1="344.20" y1="72.85" x2="415.40" y2="72.85" stroke="#333" stroke-width="0.9"/>
<path d="M451.7 51.1h.8M459.3 42.9h.8M448.7 41.4h.8M455.6 50.0h.8M450.7 47.8h.8M447.8 42.9h.8M451.0 46.8h.8M457.4 39.5h.8M454.7 50.1h.8M460.1 45.3h.8M452.9 49.4h.8M441.2 43.8h.8M449.7 43.2h.8M458.3 47.6h.8M443.8 47.7h.8M443.8 49.0h.8M454.6 38.9h.8M461.7 49.1h.8M443.4 44.0h.8M464.6 41.6h.8M445.7 41.8h.8M457.4 45.8h.8M468.5 47.0h.8M468.1 46.4h.8M461.0 49.3h.8M460.5 49.0h.8M453.7 44.4h.8M456.8 46.9h.8M450.7 41.2h.8M450.1 48.1h.8M455.3 42.0h.8M465.2 42.2h.8M457.9 46.6h.8M449.8 45.9h.8M452.1 43.6h.8M465.0 44.2h.8M461.9 43.1h.8M455.5 50.0h.8M461.5 50.8h.8M454.0 48.5h.8M442.0 47.0h.8M462.2 49.5h.8M453.1 44.6h.8M455.1 49.9h.8M455.2 47.8h.8M467.9 43.6h.8M448.3 48.1h.8M457.1 44.9h.8M454.5 40.2h.8M446.5 42.4h.8M457.3 46.1h.8M467.7 45.4h.8M453.5 39.3h.8M469.2 44.9h.8M452.7 40.6h.8M459.0 49.1h.8M457.4 45.1h.8M465.3 46.5h.8M441.5 45.8h.8M466.1 43.6h.8M449.9 46.0h.8M461.3 41.8h.8M451.5 49.2h.8M453.4 40.8h.8M450.4 46.0h.8M465.6 44.1h.8M449.6 40.6h.8M456.8 49.6h.8M455.0 47.0h.8M452.9 38.9h.8M454.8 47.6h.8M451.7 44.6h.8M455.6 49.1h.8M450.4 50.4h.8M457.8 50.1h.8M463.7 47.1h.8M440.6 45.7h.8M468.2 45.1h.8M451.0 38.0h.8M460.3 50.0h.8M460.1 49.9h.8M456.4 42.2h.8M454.2 50.4h.8M458.7 41.5h.8M448.9 45.0h.8M456.0 40.7h.8M460.1 44.1h.8M453.0 44.4h.8M445.1 42.7h.8M456.9 43.2h.8M450.0 45.6h.8M455.3 44.3h.8M464.9 46.4h.8M466.5 49.8h.8M458.4 49.0h.8M453.2 41.0h.8M460.9 48.0h.8M458.5 46.8h.8M444.3 42.0h.8M455.1 46.4h.8M448.0 41.1h.8M457.8 47.2h.8M453.8 43.3h.8M444.2 49.4h.8M456.4 41.0h.8M443.8 50.3h.8M467.2 43.2h.8M448.5 42.4h.8M447.1 45.8h.8M451.2 49.2h.8M454.3 41.0h.8M468.4 46.1h.8M467.5 44.2h.8M452.2 42.6h.8M448.8 49.6h.8M441.8 46.6h.8M452.6 42.4h.8M464.8 45.1h.8M443.4 45.4h.8M464.1 45.1h.8M464.8 43.4h.8M454.2 44.3h.8M456.0 46.4h.8M442.3 47.4h.8M468.9 46.8h.8M449.3 41.1h.8M454.0 51.6h.8M458.9 40.3h.8M452.5 50.6h.8M451.9 45.8h.8M446.4 48.9h.8M444.6 41.6h.8M459.9 42.1h.8M459.3 43.3h.8M446.4 44.8h.8M447.2 45.6h.8M457.2 50.6h.8M444.4 40.8h.8M458.0 50.3h.8M456.4 44.4h.8M459.7 42.4h.8M449.0 52.1h.8M460.7 46.3h.8M444.2 39.6h.8M446.7 49.5h.8M461.7 50.7h.8M449.3 47.7h.8M448.1 41.7h.8M457.2 50.1h.8M456.4 40.5h.8" stroke="#000" stroke-opacity="0.33" stroke-width="0.8"/>
<path d="M458.0 44.5h.8M464.3 46.3h.8M451.8 47.4h.8M465.3 45.8h.8M451.6 50.9h.8M450.0 46.1h.8M452.4 48.6h.8M454.1 44.2h.8M457.6 44.3h.8M444.1 39.8h.8M454.3 46.8h.8M441.5 44.8h.8M462.3 51.4h.8M465.4 44.4h.8M460.1 49.6h.8M460.3 46.0h.8M460.4 47.1h.8M455.2 39.7h.8M464.3 39.6h.8M447.7 47.2h.8M464.6 50.2h.8M452.6 39.3h.8M449.7 44.9h.8M445.8 48.0h.8M460.3 51.1h.8M454.5 49.6h.8M447.4 41.1h.8M453.1 42.6h.8M450.2 42.4h.8M465.0 48.3h.8M452.5 44.2h.8M454.8 43.0h.8M450.7 41.5h.8M453.5 47.9h.8M457.3 51.6h.8M448.0 46.4h.8M445.4 44.1h.8M458.5 41.8h.8M462.5 49.8h.8M465.9 46.6h.8M445.2 42.0h.8M443.4 49.8h.8M446.6 43.0h.8M469.4 46.5h.8M451.5 46.6h.8M459.1 50.0h.8M466.6 41.8h.8M467.3 45.3h.8M463.6 45.5h.8M457.1 48.7h.8M457.3 52.6h.8M455.5 43.8h.8M443.5 44.7h.8M442.4 47.4h.8M449.6 48.4h.8M451.9 43.4h.8M461.7 49.7h.8M461.3 45.2h.8M454.3 45.3h.8M455.0 49.4h.8M451.0 45.2h.8M459.7 39.2h.8M441.6 47.4h.8M447.8 48.5h.8M448.1 41.6h.8M462.5 51.5h.8M455.9 52.9h.8M467.6 43.6h.8M463.7 46.5h.8M457.8 46.2h.8M454.3 43.9h.8M459.4 41.0h.8M442.5 39.8h.8M453.8 39.0h.8M461.2 49.0h.8M453.1 44.7h.8M460.8 48.4h.8M464.4 41.4h.8M449.0 50.5h.8M456.7 45.3h.8M455.0 50.4h.8M469.1 42.5h.8M456.1 38.9h.8M450.7 43.4h.8M467.1 44.9h.8M464.0 49.1h.8M451.6 44.8h.8M456.8 42.5h.8M442.3 46.8h.8M458.5 39.0h.8M446.4 49.6h.8M468.3 47.4h.8M454.8 40.1h.8M459.0 42.2h.8M458.0 46.6h.8M461.2 47.6h.8M455.0 50.5h.8M451.3 45.2h.8M453.0 49.3h.8M449.9 47.5h.8M461.5 47.7h.8M455.8 42.0h.8M451.4 42.6h.8M463.4 45.0h.8M443.7 39.6h.8M456.1 44.0h.8M452.6 49.8h.8M443.9 41.1h.8M447.7 50.9h.8M463.0 43.2h.8M446.7 44.4h.8M455.0 43.7h.8M455.7 50.9h.8M450.8 48.3h.8M458.3 43.9h.8M458.4 41.6h.8M468.0 45.9h.8M454.9 43.9h.8M467.1 42.9h.8M462.6 42.2h.8M454.7 49.9h.8M455.0 51.0h.8M456.9 48.0h.8M451.4 43.9h.8M459.1 48.4h.8M468.7 42.6h.8M454.4 37.9h.8M464.6 44.9h.8M450.0 50.0h.8M460.4 45.8h.8M446.8 43.0h.8M443.9 46.3h.8M454.0 45.8h.8M442.7 41.6h.8M458.2 47.8h.8M458.2 46.8h.8M443.3 42.7h.8M459.4 48.4h.8M441.0 44.8h.8M456.1 42.0h.8M453.0 41.9h.8M450.8 42.4h.8M458.1 43.8h.8M459.1 47.2h.8M456.3 49.8h.8M460.1 45.3h.8M461.8 45.7h.8M457.7 48.3h.8M447.5 49.6h.8M446.3 45.2h.8" stroke="#000" stroke-opacity="0.33" stroke-width="0.8"/>
<path d="M464.9 41.9h.8M457.1 42.6h.8M462.0 48.7h.8M454.0 42.3h.8M467.4 49.3h.8M465.3 44.9h.8M467.0 47.8h.8M445.9 50.0h.8M446.6 43.7h.8M463.0 49.7h.8M452.1 43.6h.8M468.3 47.1h.8M458.6 41.2h.8M465.3 44.2h.8M467.7 46.4h.8M461.3 43.2h.8M461.3 48.5h.8M454.3 43.0h.8M457.2 47.9h.8M448.7 46.4h.8M463.5 42.5h.8M465.3 47.2h.8M464.4 49.6h.8M464.1 48.7h.8M461.6 48.9h.8M450.3 39.8h.8M447.7 47.1h.8M452.6 41.0h.8M459.1 49.0h.8M449.5 42.4h.8M458.7 48.6h.8M443.4 46.5h.8M442.1 44.5h.8M462.2 43.0h.8M466.4 41.6h.8M455.7 43.2h.8M457.0 45.3h.8M453.9 41.6h.8M449.3 45.0h.8M449.1 46.1h.8M458.4 42.7h.8M458.4 49.1h.8M456.2 45.9h.8M462.0 43.6h.8M453.1 51.3h.8M455.1 39.2h.8M454.5 51.6h.8M470.7 42.7h.8M461.1 50.2h.8M455.6 50.8h.8M450.5 49.6h.8M448.9 47.5h.8M441.8 42.1h.8M460.6 50.0h.8M444.4 41.7h.8M457.9 41.5h.8M451.8 50.5h.8M461.7 43.0h.8M452.0 44.5h.8M443.9 40.1h.8M443.8 49.0h.8M450.9 41.3h.8M443.4 43.8h.8M460.7 46.7h.8M466.0 49.8h.8M443.7 46.7h.8M460.9 44.5h.8M447.8 44.0h.8M446.8 50.5h.8M443.7 40.4h.8M459.6 51.0h.8M463.8 44.1h.8M448.1 47.2h.8M455.4 39.6h.8M467.0 50.1h.8M452.1 47.1h.8M463.2 40.0h.8M454.4 51.7h.8M452.7 39.7h.8M445.4 43.3h.8M462.7 41.3h.8M447.5 48.0h.8M453.4 46.2h.8M466.0 43.9h.8M454.9 42.4h.8M445.1 42.1h.8M459.9 50.3h.8M466.0 49.9h.8M466.9 46.3h.8M459.5 41.6h.8M452.9 49.2h.8M451.6 42.8h.8M458.4 50.9h.8M454.9 49.2h.8M452.7 41.8h.8M461.2 45.4h.8M451.2 48.1h.8M467.0 42.4h.8M454.6 41.1h.8M462.5 45.5h.8M463.2 41.2h.8M462.1 41.2h.8M456.6 39.6h.8M444.2 48.2h.8M456.0 40.2h.8M456.7 49.0h.8M448.5 45.7h.8M456.6 42.5h.8M448.4 50.4h.8M442.3 49.1h.8M445.6 50.0h.8M460.4 49.7h.8M462.2 49.1h.8M452.5 39.9h.8M447.3 45.2h.8M462.8 46.4h.8M461.4 47.6h.8M459.8 45.7h.8M451.4 40.8h.8M466.3 47.2h.8M461.2 50.7h.8M458.6 48.5h.8M442.8 41.6h.8M450.2 51.7h.8M444.1 44.5h.8M463.8 46.6h.8M450.8 48.8h.8M453.3 49.1h.8M453.9 47.7h.8M447.3 46.8h.8M456.6 46.3h.8M440.5 48.8h.8M447.3 51.6h.8M454.1 42.1h.8M458.9 41.7h.8M459.5 49.3h.8M463.8 45.7h.8M449.1 50.7h.8M446.8 44.9h.8M451.4 41.4h.8M445.1 47.0h.8M466.5 47.1h.8M448.1 46.4h.8M443.5 46.2h.8M460.4 49.2h.8M455.2 46.8h.8M450.2 39.8h.8M462.9 46.5h.8M447.9 48.2h.8" stroke="#000" stroke-opacity="0.33" stroke-width="0.8"/>
<path d="M455.0 50.3h.8M456.1 45.9h.8M461.1 40.5h.8M450.5 46.9h.8M455.1 41.4h.8M452.4 46.2h.8M462.7 50.9h.8M447.2 47.3h.8M461.8 44.0h.8M452.7 43.1h.8M458.6 50.7h.8M448.2 42.2h.8M467.2 47.0h.8M460.4 45.1h.8M448.0 47.6h.8M456.2 47.2h.8M464.8 51.5h.8M445.5 39.0h.8M466.8 41.6h.8M448.3 45.4h.8M450.1 53.2h.8M462.0 42.2h.8M464.6 50.5h.8M459.1 49.9h.8M464.8 48.2h.8M456.2 50.2h.8M451.3 47.4h.8M463.6 45.2h.8M458.1 43.5h.8M446.5 41.2h.8M446.9 39.0h.8M441.6 41.4h.8M453.9 46.4h.8M456.6 45.1h.8M443.9 49.1h.8M450.9 54.2h.8M455.5 44.7h.8M454.9 48.8h.8M455.9 50.1h.8M451.6 38.4h.8M451.5 50.2h.8M460.6 38.2h.8M445.0 45.0h.8M453.1 51.2h.8M464.5 41.5h.8M442.8 42.8h.8M452.6 52.3h.8M448.5 46.2h.8M448.0 42.1h.8M442.0 44.1h.8M441.7 43.4h.8M455.7 48.2h.8M456.7 48.1h.8M452.0 47.0h.8M462.9 45.1h.8M452.3 48.3h.8M453.9 50.4h.8M461.0 43.6h.8M454.0 46.8h.8M455.6 42.9h.8M451.8 38.3h.8M454.2 42.6h.8M454.0 46.7h.8M456.4 50.6h.8M462.8 46.0h.8M448.1 52.7h.8M457.1 46.3h.8M451.0 46.4h.8M445.2 48.1h.8M450.3 48.9h.8M457.4 40.2h.8M456.4 46.0h.8M454.4 40.5h.8M460.6 41.5h.8M466.3 43.7h.8M466.0 41.7h.8M455.1 42.9h.8M456.7 46.2h.8M454.4 49.9h.8M451.0 50.6h.8M448.8 52.8h.8M453.6 50.4h.8M453.3 41.5h.8M458.4 49.5h.8M465.2 48.0h.8M452.5 45.1h.8M459.8 49.6h.8M456.9 49.0h.8M441.4 44.4h.8M450.9 46.3h.8M451.5 48.0h.8M445.8 47.6h.8M460.4 47.4h.8M467.3 42.5h.8M457.7 53.4h.8M441.6 45.3h.8M442.3 48.2h.8M462.8 48.8h.8M455.1 41.9h.8M451.7 41.8h.8M451.3 49.7h.8M440.9 48.6h.8M445.0 43.8h.8M459.3 46.7h.8M459.0 47.4h.8M468.7 47.5h.8M459.6 40.7h.8M455.6 44.7h.8M460.2 48.4h.8M451.3 49.4h.8M462.0 45.6h.8M458.8 50.5h.8M462.7 48.4h.8M455.8 48.8h.8M468.4 48.1h.8M443.3 44.7h.8M459.8 48.0h.8M459.7 46.2h.8M452.4 41.5h.8M462.1 41.0h.8M447.9 49.0h.8M453.6 38.9h.8M454.7 49.7h.8M459.5 45.5h.8M466.8 41.7h.8M457.6 52.8h.8M448.8 48.1h.8M466.7 47.2h.8M456.3 41.0h.8M453.1 48.1h.8M467.3 50.3h.8M452.1 45.8h.8M441.2 44.1h.8M452.3 45.1h.8M460.4 42.7h.8M454.8 47.2h.8M461.9 45.0h.8M444.5 48.5h.8M454.5 41.2h.8M443.8 46.5h.8M466.5 50.1h.8M464.7 50.3h.8M451.2 43.6h.8M440.2 43.9h.8M446.0 46.0h.8M459.1 51.8h.8M457.1 49.2h.8M468.1 46.3h.8M455.7 41.2h.8" stroke="#000" stroke-opacity="0.33" stroke-width="0.8"/>
<path d="M461.7 43.6h.8M464.1 44.8h.8M451.4 50.8h.8M448.6 46.2h.8M448.4 50.0h.8M463.9 50.0h.8M446.8 51.5h.8M450.8 43.4h.8M447.4 43.7h.8M447.9 47.4h.8M459.7 46.0h.8M445.4 44.0h.8M455.8 47.9h.8M443.8 46.0h.8M460.5 47.7h.8M460.4 53.1h.8M446.6 46.3h.8M449.1 48.1h.8M457.6 41.7h.8M455.1 44.6h.8M451.2 41.8h.8M459.8 44.9h.8M442.5 44.8h.8M460.7 51.6h.8M445.4 43.8h.8M450.1 53.3h.8M470.3 42.6h.8M448.1 45.9h.8M448.4 48.7h.8M465.2 48.1h.8M454.3 38.9h.8M457.6 49.2h.8M454.8 48.4h.8M458.1 41.1h.8M452.8 44.5h.8M443.3 42.2h.8M460.4 42.2h.8M443.1 44.2h.8M446.2 51.9h.8M457.2 47.3h.8M444.9 41.2h.8M464.4 43.9h.8M451.7 47.3h.8M448.4 45.4h.8M456.0 40.5h.8M442.2 42.3h.8M454.4 43.5h.8M450.2 45.5h.8M463.1 50.9h.8M451.6 44.3h.8M450.4 42.9h.8M461.8 50.1h.8M458.2 47.6h.8M454.9 39.6h.8M445.9 46.4h.8M454.9 50.2h.8M448.4 39.4h.8M453.7 47.3h.8M465.3 42.8h.8M444.7 47.0h.8M450.4 46.8h.8M462.1 48.0h.8M465.7 44.3h.8M460.3 43.9h.8M451.4 44.7h.8M458.7 45.6h.8M452.9 50.5h.8M448.9 42.1h.8M454.4 48.4h.8M452.9 42.4h.8M465.4 40.6h.8M465.1 47.3h.8M464.7 47.4h.8M456.0 46.7h.8M463.7 49.1h.8M458.6 40.2h.8M448.3 38.9h.8M457.4 51.2h.8M447.7 46.5h.8M464.7 43.0h.8M466.4 48.0h.8M441.0 43.3h.8M460.9 46.7h.8M454.0 46.7h.8M461.3 40.5h.8M459.9 50.9h.8M455.7 45.1h.8M467.8 47.4h.8M456.2 43.4h.8M453.3 42.5h.8M464.3 42.6h.8M445.1 44.0h.8M455.4 49.7h.8M459.1 42.6h.8M462.7 50.5h.8M464.4 52.0h.8M446.2 48.3h.8M445.7 49.9h.8M463.0 41.7h.8M454.0 43.6h.8M443.3 43.5h.8M467.6 49.4h.8M444.2 44.6h.8M441.6 49.8h.8M457.1 45.9h.8M457.5 43.3h.8M463.7 41.6h.8M450.1 45.1h.8M465.3 41.6h.8M441.1 45.3h.8M453.2 41.1h.8M451.7 49.2h.8M461.4 46.7h.8M453.8 50.6h.8M465.0 41.9h.8M456.8 42.2h.8M460.2 41.6h.8M448.3 41.7h.8M455.0 40.8h.8M445.6 43.1h.8M459.9 49.6h.8M467.6 48.1h.8M465.7 45.2h.8M459.2 46.4h.8M456.1 44.2h.8M453.7 45.3h.8M455.4 47.2h.8M457.2 38.4h.8M466.8 47.0h.8M462.8 44.1h.8M461.0 47.2h.8M466.6 43.3h.8M457.9 46.4h.8M448.6 44.5h.8M457.1 47.0h.8M445.6 41.8h.8M454.8 41.5h.8M461.6 40.7h.8M452.4 46.3h.8M464.6 45.8h.8M456.7 52.0h.8M459.3 46.1h.8M460.2 42.5h.8M458.5 44.9h.8M451.6 39.4h.8M458.2 53.3h.8M457.6 47.4h.8M466.6 44.3h.8M451.0 44.2h.8" stroke="#000" stroke-opacity="0.33" stroke-width="0.8"/>
<path d="M454.0 45.4h.8M458.1 51.7h.8M444.7 43.3h.8M440.8 43.4h.8M456.5 40.8h.8M458.3 45.4h.8M464.2 48.9h.8M460.1 49.0h.8M460.2 40.7h.8M459.2 43.8h.8M441.5 45.4h.8M446.1 38.6h.8M458.2 49.9h.8M453.5 44.5h.8M448.8 41.5h.8M442.0 45.7h.8M450.8 50.0h.8M464.5 38.0h.8M466.6 46.5h.8M455.9 46.1h.8M459.5 47.3h.8M464.6 44.6h.8M458.0 48.0h.8M461.5 48.3h.8M460.4 46.0h.8M464.3 45.2h.8M454.4 49.9h.8M458.6 43.0h.8M449.7 46.2h.8M457.5 46.3h.8M459.8 48.2h.8M448.2 44.3h.8M455.4 41.2h.8M440.6 44.2h.8M451.6 39.7h.8M463.4 41.4h.8M457.3 46.7h.8M445.3 41.7h.8M458.9 46.8h.8M461.1 48.8h.8M453.2 40.0h.8M464.6 43.5h.8M460.4 49.0h.8M457.2 50.8h.8M470.2 49.9h.8M459.4 47.0h.8M452.3 44.9h.8M462.9 43.9h.8M460.0 40.9h.8M446.3 49.7h.8M462.1 47.2h.8M445.4 44.7h.8M461.2 50.3h.8M465.4 44.8h.8M451.7 49.9h.8M463.0 43.2h.8M453.0 48.0h.8M442.0 46.3h.8M450.6 46.0h.8M452.5 41.9h.8M455.5 47.8h.8M458.8 51.8h.8M462.2 47.9h.8M442.5 44.9h.8M453.7 41.3h.8M448.2 45.9h.8M457.4 41.1h.8M441.2 41.5h.8M454.4 40.9h.8M461.3 42.5h.8M449.0 49.6h.8M461.0 46.6h.8M451.8 50.3h.8M443.6 43.0h.8M449.4 45.8h.8M451.1 40.3h.8M469.1 43.9h.8M456.4 40.0h.8M447.2 47.6h.8M462.4 44.0h.8M443.6 43.8h.8M452.3 39.5h.8M457.3 46.3h.8M446.7 41.3h.8M454.1 53.6h.8M443.8 43.1h.8M443.4 46.3h.8M452.4 41.7h.8M445.6 44.4h.8M453.3 38.4h.8M444.6 51.1h.8M462.3 45.5h.8M445.4 48.7h.8M462.6 43.1h.8M454.3 49.4h.8M453.4 46.2h.8M444.9 41.3h.8M455.3 43.4h.8M449.3 50.0h.8M463.0 43.7h.8M444.3 42.8h.8M452.3 41.8h.8M447.8 44.7h.8M444.8 45.0h.8M447.9 48.1h.8M445.5 48.8h.8M448.8 39.8h.8M454.8 38.8h.8M457.5 41.6h.8M448.0 49.0h.8M445.8 41.5h.8M455.5 47.5h.8M454.6 45.6h.8M456.7 43.2h.8M463.8 46.9h.8M450.0 50.4h.8M454.2 36.8h.8M445.7 48.1h.8M458.8 44.0h.8M443.3 42.8h.8M442.1 47.9h.8M456.3 43.6h.8M455.3 48.1h.8M448.8 45.5h.8M450.9 43.2h.8M452.8 47.2h.8M460.5 50.7h.8M466.6 45.6h.8M466.5 49.4h.8M463.8 44.8h.8M445.4 47.3h.8M464.1 48.1h.8M464.9 46.5h.8M462.4 45.7h.8M450.3 43.2h.8M457.7 45.9h.8M459.7 45.4h.8M464.7 47.3h.8M454.5 39.7h.8M451.3 43.9h.8M454.2 47.8h.8M453.1 41.8h.8M460.5 48.3h.8M456.8 43.2h.8M464.4 41.8h.8M441.7 42.2h.8M449.7 41.4h.8M458.9 46.8h.8M464.1 47.0h.8" stroke="#000" stroke-opacity="0.33" stroke-width="0.8"/>
<path d="M463.8 44.5h.8M461.3 39.7h.8M456.2 43.5h.8M448.6 50.9h.8M455.9 52.2h.8M449.8 42.1h.8M443.8 44.3h.8M463.4 47.9h.8M467.4 46.3h.8M454.9 45.3h.8M458.1 49.9h.8M453.1 49.7h.8M441.2 46.4h.8M454.0 39.0h.8M451.6 42.5h.8M455.2 47.7h.8M461.8 42.0h.8M444.9 40.1h.8M465.0 48.9h.8M444.0 44.4h.8M442.2 49.0h.8M455.7 42.2h.8M457.7 49.4h.8M457.0 50.1h.8M458.6 40.4h.8M459.8 44.9h.8M451.8 45.7h.8M467.3 48.3h.8M462.5 43.2h.8M457.5 48.1h.8M461.8 47.8h.8M454.6 42.5h.8M444.7 45.7h.8M445.2 44.5h.8M443.7 48.5h.8M462.8 43.1h.8M447.6 44.4h.8M454.1 46.6h.8M453.0 52.9h.8M461.3 47.9h.8M447.8 42.9h.8M455.0 52.4h.8M455.2 45.2h.8M452.8 45.9h.8M458.3 50.1h.8M453.5 49.8h.8M454.1 48.0h.8M457.8 44.7h.8M456.9 50.6h.8M444.7 48.7h.8M445.5 44.3h.8M460.1 39.5h.8M465.6 46.5h.8M460.5 47.3h.8M445.6 41.9h.8M452.3 44.1h.8M454.4 47.8h.8M465.2 47.4h.8M455.6 44.9h.8M468.6 45.0h.8M444.7 44.6h.8M447.8 44.0h.8M445.8 44.9h.8M443.1 47.6h.8M459.3 47.8h.8M465.9 50.6h.8M453.1 48.5h.8M452.5 46.2h.8M449.5 43.2h.8M444.7 50.5h.8M462.0 47.2h.8M459.4 51.4h.8M459.0 42.6h.8M466.4 48.7h.8M457.1 42.4h.8M462.5 47.0h.8M449.4 50.2h.8M461.0 49.2h.8M447.8 47.0h.8M448.3 43.3h.8M441.7 42.2h.8M452.2 39.9h.8M465.1 48.5h.8M464.9 44.0h.8M449.4 43.3h.8M459.0 43.4h.8M460.7 49.6h.8M461.7 43.2h.8M462.6 45.0h.8M455.6 51.2h.8M455.9 39.7h.8M446.5 42.3h.8M455.3 45.5h.8M445.4 47.7h.8M454.7 41.2h.8M462.9 49.2h.8M459.0 49.1h.8M447.4 49.8h.8M466.1 41.9h.8M455.9 46.5h.8M455.7 46.9h.8M444.4 46.1h.8M448.4 49.0h.8M451.3 49.2h.8M452.3 46.5h.8M448.4 49.3h.8M456.2 45.3h.8M466.1 45.9h.8M452.5 51.0h.8M459.3 39.4h.8M460.3 48.5h.8M461.3 44.6h.8M443.4 46.8h.8M452.8 43.3h.8M446.5 46.0h.8M442.4 46.0h.8M455.0 44.8h.8M454.8 45.7h.8M458.1 42.4h.8M452.9 41.7h.8M450.2 44.8h.8M443.3 47.2h.8M447.5 49.0h.8M460.3 42.9h.8M450.3 47.8h.8M453.0 52.1h.8M465.2 46.1h.8M458.9 43.1h.8M459.7 38.7h.8M441.1 42.8h.8M462.0 40.2h.8M449.1 44.2h.8M443.0 46.6h.8M463.5 42.3h.8M472.1 45.3h.8M444.5 40.3h.8M467.4 41.2h.8M461.6 50.1h.8M446.3 47.4h.8M458.9 49.3h.8M468.6 45.0h.8M465.8 49.7h.8M448.5 45.5h.8M453.1 41.4h.8M459.4 44.3h.8M442.2 47.3h.8M460.1 45.9h.8M461.2 46.9h.8M459.3 42.3h.8" stroke="#000" stroke-opacity="0.33" stroke-width="0.8"/>
<path d="M458.5 42.5h.8M465.1 50.7h.8M452.8 51.3h.8M448.8 40.8h.8M456.4 43.6h.8M444.4 46.9h.8M450.9 40.5h.8M441.6 47.2h.8M440.8 45.8h.8M449.5 45.3h.8M462.1 42.9h.8M467.8 43.0h.8M452.0 42.7h.8M450.4 42.9h.8M461.8 42.7h.8M465.2 41.7h.8M456.0 44.6h.8M454.2 48.5h.8M463.3 50.1h.8M462.7 44.9h.8M452.0 45.3h.8M466.3 50.3h.8M452.8 42.6h.8M452.1 51.4h.8M463.3 44.3h.8M462.9 49.0h.8M459.0 46.8h.8M457.1 51.0h.8M464.5 50.2h.8M461.3 45.4h.8M462.0 48.4h.8M458.5 39.8h.8M463.1 52.6h.8M449.0 41.0h.8M453.5 49.8h.8M464.1 42.9h.8M441.5 44.6h.8M450.9 40.7h.8M452.1 39.8h.8M452.5 41.0h.8M449.3 45.1h.8M449.9 48.3h.8M457.7 38.3h.8M465.7 44.6h.8M466.8 43.6h.8M459.5 48.6h.8M459.6 48.4h.8M464.9 46.4h.8M462.7 45.3h.8M459.0 45.4h.8M463.2 46.7h.8M462.1 45.5h.8M467.7 46.0h.8M446.5 49.9h.8M463.5 50.7h.8M446.9 48.9h.8M456.9 43.1h.8M442.2 46.6h.8M448.4 49.0h.8M461.6 50.2h.8M441.5 45.6h.8M465.5 48.3h.8M459.7 45.4h.8M459.4 43.9h.8M452.4 54.0h.8M457.7 46.7h.8M445.9 42.4h.8M452.9 45.5h.8M448.9 43.1h.8M440.4 46.2h.8M455.0 51.7h.8M452.8 47.2h.8M465.0 47.2h.8M464.3 47.6h.8M442.5 45.8h.8M457.7 43.2h.8M460.4 43.1h.8M441.8 45.9h.8M460.3 41.3h.8M451.5 46.7h.8M451.9 50.2h.8M445.9 43.0h.8M450.9 40.9h.8M456.6 41.3h.8M463.6 49.4h.8M441.9 44.5h.8M464.2 47.5h.8M442.9 47.4h.8M452.7 39.1h.8M454.1 40.0h.8M458.6 50.0h.8M453.8 42.9h.8M445.6 43.7h.8M452.4 51.4h.8M454.5 45.3h.8M458.2 52.3h.8M460.0 50.0h.8M463.8 46.2h.8M452.5 49.4h.8M457.5 46.8h.8M444.1 45.4h.8M464.9 48.5h.8M447.1 41.6h.8M445.5 43.0h.8M451.8 50.3h.8M450.2 38.2h.8M456.2 45.0h.8M455.2 47.0h.8M455.2 40.1h.8M457.0 41.2h.8M463.7 50.4h.8M468.2 42.8h.8M447.9 47.7h.8M442.0 45.4h.8M464.6 51.8h.8M447.3 41.7h.8M450.5 50.8h.8M460.8 52.7h.8M452.6 44.8h.8M445.9 42.7h.8M465.4 48.6h.8M453.5 42.6h.8M444.7 45.3h.8M453.7 50.6h.8M454.1 42.3h.8M465.0 50.2h.8M466.7 46.7h.8M457.7 44.7h.8M463.8 48.5h.8M455.1 47.6h.8M457.1 46.7h.8M452.5 43.7h.8M468.7 47.9h.8M452.6 50.4h.8M459.4 48.0h.8M443.1 45.7h.8M454.9 44.0h.8M446.1 50.0h.8M456.8 51.5h.8M451.9 47.5h.8M458.4 45.8h.8M447.9 46.1h.8M447.2 43.5h.8M455.3 38.3h.8M450.4 44.4h.8M454.5 45.4h.8M445.0 45.6h.8M450.0 38.7h.8M466.9 46.4h.8" stroke="#000" stroke-opacity="0.33" stroke-width="0.8"/>
<path d="M447.2 47.4h.8M452.4 43.8h.8M463.8 44.2h.8M444.5 44.9h.8M443.0 44.8h.8M445.5 44.9h.8M457.4 49.1h.8M446.3 51.8h.8M457.9 44.6h.8M455.4 44.2h.8M445.5 42.7h.8M465.8 43.3h.8M465.5 43.4h.8M451.8 46.6h.8M448.9 49.6h.8M464.4 47.3h.8M448.3 48.4h.8M454.3 41.2h.8M458.9 40.1h.8M444.1 49.9h.8M451.5 47.9h.8M460.8 42.6h.8M455.5 39.6h.8M447.2 39.5h.8M459.9 47.2h.8M445.9 42.1h.8M461.3 51.2h.8M446.9 42.8h.8M457.6 46.1h.8M461.5 45.7h.8M451.5 42.5h.8M449.9 44.3h.8M463.1 44.7h.8M453.4 39.1h.8M449.2 44.2h.8M459.4 45.3h.8M445.2 39.7h.8M451.8 43.4h.8M468.0 44.7h.8M455.2 45.0h.8M469.2 47.5h.8M468.2 46.3h.8M463.8 44.2h.8M456.2 49.5h.8M457.2 54.4h.8M445.2 45.4h.8M463.1 44.2h.8M463.0 46.5h.8M455.8 37.5h.8M460.4 50.9h.8M469.4 44.3h.8M445.8 53.3h.8M448.7 46.9h.8M452.8 40.3h.8M448.4 42.9h.8M450.2 41.8h.8M443.6 47.3h.8M466.6 45.0h.8M441.5 45.3h.8M447.1 46.8h.8M453.1 40.0h.8M462.4 46.1h.8M453.7 42.2h.8M448.2 42.9h.8M460.9 44.9h.8M457.7 43.1h.8M461.5 49.2h.8M462.0 42.9h.8M466.6 47.4h.8M448.8 48.6h.8M449.1 43.5h.8M449.6 45.4h.8M456.4 48.0h.8M468.8 49.2h.8M449.2 45.3h.8M451.7 42.8h.8M452.1 40.4h.8M463.2 52.0h.8M449.4 46.9h.8M461.6 53.6h.8M463.9 48.8h.8M447.3 45.5h.8M471.4 43.5h.8M460.5 39.1h.8M446.9 47.0h.8M454.5 45.9h.8M449.7 41.2h.8M459.9 47.2h.8M447.7 49.8h.8M457.8 48.4h.8M455.4 43.6h.8M458.2 52.0h.8M462.1 50.1h.8M444.6 48.6h.8M456.8 44.0h.8M451.3 48.8h.8M454.9 48.5h.8M460.2 48.5h.8M445.9 45.8h.8M464.9 46.6h.8M451.4 48.9h.8M448.3 49.1h.8M467.4 45.8h.8M442.7 43.4h.8M457.1 48.1h.8M456.5 44.7h.8M463.7 48.7h.8M453.1 48.6h.8M449.9 40.5h.8M450.1 42.1h.8M446.2 43.1h.8M445.4 40.0h.8M454.0 39.5h.8M466.3 43.0h.8M445.6 41.9h.8M454.7 47.5h.8M456.1 46.3h.8M456.0 48.9h.8M456.7 40.2h.8M457.6 44.2h.8M471.3 47.7h.8M453.0 43.1h.8M456.3 48.6h.8M457.0 46.0h.8M464.0 41.1h.8M465.3 46.5h.8M460.5 45.4h.8M463.3 44.9h.8M456.5 43.3h.8M453.8 43.9h.8M457.5 46.5h.8M442.3 43.0h.8M458.5 46.2h.8M462.5 44.1h.8M460.6 43.7h.8M465.9 40.7h.8M457.3 46.2h.8M465.2 44.2h.8M450.9 46.9h.8M454.0 41.8h.8M454.5 44.4h.8M455.4 53.2h.8M451.5 40.8h.8M466.3 42.6h.8M455.9 44.6h.8M458.7 40.0h.8M450.7 44.6h.8M459.8 41.4h.8M449.6 45.4h.8" stroke="#000" stroke-opacity="0.33" stroke-width="0.8"/>
<path d="M447.7 41.3h.8M466.4 47.2h.8M446.7 44.8h.8M458.0 44.0h.8M448.2 45.1h.8M456.8 49.1h.8M465.4 42.7h.8M442.5 44.9h.8M461.4 48.0h.8M456.5 44.4h.8M456.6 48.9h.8M452.5 49.9h.8M441.1 47.6h.8M444.1 48.7h.8M466.1 41.8h.8M454.4 40.3h.8M457.7 42.1h.8M464.1 48.3h.8M453.6 44.7h.8M458.8 40.8h.8M445.2 48.5h.8M449.0 39.4h.8M459.5 51.3h.8M451.3 47.1h.8M457.1 38.8h.8M447.6 42.6h.8M452.0 46.7h.8M463.9 50.8h.8M451.8 38.6h.8M450.7 40.3h.8M446.2 46.3h.8M468.3 46.9h.8M449.0 50.8h.8M450.7 46.7h.8M462.0 47.5h.8M457.4 51.9h.8M452.2 44.3h.8M449.9 42.2h.8M441.1 45.6h.8M449.5 40.8h.8M462.5 45.7h.8M462.4 42.3h.8M450.4 39.7h.8M459.7 48.1h.8M461.3 40.4h.8M453.7 40.6h.8M461.9 43.2h.8M468.9 43.2h.8M454.7 44.1h.8M447.9 42.0h.8M443.5 49.1h.8M452.0 37.3h.8M448.1 43.9h.8M452.1 51.5h.8M468.8 44.1h.8M441.9 47.9h.8M440.1 45.5h.8M451.5 46.8h.8M462.0 48.5h.8M447.7 46.8h.8M458.0 41.3h.8M451.4 46.5h.8M462.8 45.6h.8M468.8 44.4h.8M465.5 47.8h.8M461.4 51.0h.8M469.7 50.4h.8M462.8 51.6h.8M459.7 52.8h.8M459.1 41.1h.8M449.2 50.6h.8M456.5 46.6h.8M447.7 40.9h.8M457.8 51.4h.8M447.2 39.3h.8M466.0 41.4h.8M446.5 44.7h.8M456.9 42.9h.8M447.1 47.1h.8M445.5 44.6h.8M458.2 50.7h.8M457.7 48.3h.8M451.2 50.4h.8M457.4 54.2h.8M467.5 43.4h.8M451.4 39.9h.8M452.2 43.7h.8M450.7 42.0h.8M466.4 48.7h.8M463.4 42.3h.8M452.1 48.3h.8M463.0 44.2h.8M452.0 52.4h.8M447.8 42.6h.8M455.8 44.5h.8M445.4 44.1h.8M455.9 50.9h.8M465.1 49.4h.8M466.0 43.4h.8M445.1 39.7h.8M457.8 44.5h.8M452.9 42.3h.8M455.8 46.4h.8M444.4 50.1h.8M455.4 48.8h.8M463.7 47.0h.8M461.9 39.0h.8M447.2 49.3h.8M449.8 46.0h.8M465.6 46.1h.8M446.0 44.6h.8M463.8 42.9h.8M448.6 44.1h.8M467.4 47.4h.8M462.4 45.8h.8M442.5 40.7h.8M466.2 47.6h.8M451.0 46.4h.8M463.0 47.4h.8M466.5 43.4h.8M455.9 43.8h.8M444.6 46.1h.8M452.8 44.6h.8M457.3 39.8h.8M444.7 45.2h.8M444.3 49.5h.8M459.9 52.6h.8M465.9 48.3h.8M452.0 47.3h.8M448.7 46.6h.8M446.8 51.5h.8M459.2 44.6h.8M447.6 47.6h.8M445.0 44.3h.8M454.0 42.1h.8M458.3 50.2h.8M450.3 50.1h.8M462.8 48.7h.8M455.9 43.3h.8M454.0 43.3h.8M457.7 45.1h.8M468.9 45.0h.8M448.5 49.3h.8M450.2 44.8h.8M461.1 45.0h.8M442.6 41.4h.8M443.0 39.5h.8M445.2 48.6h.8M448.8 48.7h.8" stroke="#000" stroke-opacity="0.33" stroke-width="0.8"/>
<path d="M452.1 39.3h.8M445.1 42.0h.8M452.5 50.2h.8M452.1 48.8h.8M443.0 45.4h.8M466.4 48.2h.8M443.4 44.9h.8M449.6 44.6h.8M446.1 44.5h.8M444.2 49.5h.8M449.3 44.5h.8M441.5 50.0h.8M466.2 44.6h.8M457.7 50.3h.8M463.2 43.0h.8M445.3 49.5h.8M459.4 41.1h.8M445.6 45.0h.8M462.1 44.0h.8M445.2 43.7h.8M443.5 44.7h.8M464.1 42.2h.8M443.9 41.1h.8M451.0 44.0h.8M464.0 46.9h.8M451.6 43.1h.8M453.9 48.8h.8M453.8 49.9h.8M461.7 51.2h.8M453.0 44.4h.8M445.2 44.6h.8M444.2 44.7h.8M448.0 46.4h.8M450.9 44.0h.8M452.6 48.5h.8M445.4 43.1h.8M449.3 47.1h.8M453.6 51.5h.8M459.8 41.6h.8M449.0 50.7h.8M446.0 44.9h.8M458.4 50.7h.8M443.5 44.4h.8M452.8 38.8h.8M451.3 44.7h.8M445.7 41.4h.8M456.6 42.5h.8M446.8 46.7h.8M455.6 42.9h.8M461.6 47.9h.8M448.3 43.3h.8M452.3 45.6h.8M450.2 44.9h.8M450.9 40.0h.8M458.3 48.3h.8M447.1 43.8h.8M467.2 48.7h.8M443.8 47.3h.8M444.4 42.4h.8M451.0 51.0h.8M448.6 47.5h.8M466.8 47.5h.8M456.8 48.1h.8M465.3 46.9h.8M456.6 43.7h.8M452.9 44.7h.8M446.2 40.3h.8M449.5 42.7h.8M448.7 47.3h.8M459.0 48.8h.8M457.5 51.6h.8M451.2 43.6h.8M467.9 45.4h.8M464.1 40.7h.8M461.9 45.7h.8M468.8 43.0h.8M455.3 41.3h.8M469.6 48.0h.8M460.9 41.5h.8M459.1 43.9h.8M447.3 46.2h.8M448.2 48.7h.8M451.1 51.7h.8M457.6 41.4h.8M448.3 45.6h.8M461.4 42.8h.8M450.5 47.0h.8M466.0 47.0h.8M454.9 49.2h.8M461.2 46.8h.8M466.7 43.8h.8M448.9 41.7h.8M456.1 40.9h.8M457.8 52.4h.8M448.1 47.0h.8M448.0 47.3h.8M462.6 47.5h.8M458.2 51.3h.8M452.9 51.1h.8M455.3 45.4h.8M457.5 40.3h.8M454.9 47.2h.8M462.2 39.2h.8M454.8 51.2h.8M458.6 44.7h.8M444.5 48.1h.8M461.0 47.8h.8M452.4 46.2h.8M462.5 50.5h.8M446.9 53.9h.8M453.5 48.7h.8M449.0 47.8h.8M456.1 45.7h.8M461.5 48.3h.8M441.0 43.6h.8M462.5 44.7h.8M447.0 39.6h.8M455.7 38.5h.8M458.3 47.5h.8M460.0 43.4h.8M441.9 41.6h.8M454.7 47.0h.8M460.5 47.4h.8M448.4 44.8h.8M464.2 45.6h.8M458.6 38.3h.8M446.7 41.9h.8M453.2 46.5h.8M469.3 46.7h.8M447.3 41.2h.8M462.2 39.0h.8M446.6 51.1h.8M454.4 48.6h.8M453.0 44.7h.8M445.5 41.1h.8M456.5 48.4h.8M445.4 50.2h.8M466.0 40.4h.8M455.3 49.4h.8M458.2 40.7h.8M445.1 46.3h.8M458.5 45.5h.8M465.4 47.8h.8M452.3 40.7h.8M442.0 47.6h.8M447.2 44.0h.8M452.9 44.0h.8M454.4 45.2h.8M464.3 43.3h.8" stroke="#000" stroke-opacity="0.33" stroke-width="0.8"/>
<path d="M453.0 44.5h.8M466.7 44.6h.8M449.5 48.5h.8M450.9 51.5h.8M449.4 40.5h.8M464.9 49.4h.8M442.2 43.1h.8M464.8 43.8h.8M455.3 44.3h.8M465.8 47.6h.8M458.4 44.4h.8M447.5 44.3h.8M457.1 49.5h.8M444.4 47.3h.8M462.1 43.4h.8M463.6 41.3h.8M456.7 44.3h.8M449.9 50.6h.8M452.4 39.3h.8M467.8 46.5h.8M451.0 48.4h.8M467.5 43.1h.8M444.7 42.1h.8M454.7 38.3h.8M459.7 40.2h.8M461.7 47.5h.8M446.0 50.6h.8M446.8 49.7h.8M460.3 49.2h.8M462.2 43.6h.8M458.1 40.2h.8M464.3 41.7h.8M453.9 50.8h.8M444.7 42.5h.8M440.6 45.8h.8M458.9 48.4h.8M453.3 51.3h.8M452.3 42.5h.8M450.3 46.9h.8M460.0 49.4h.8M464.2 45.5h.8M459.5 46.3h.8M467.7 44.0h.8M450.5 42.0h.8M452.5 49.6h.8M457.3 38.6h.8M450.3 42.1h.8M458.9 45.3h.8M451.9 50.2h.8M454.4 46.0h.8M442.8 46.5h.8M448.5 43.8h.8M461.4 41.9h.8M452.6 40.4h.8M446.7 45.2h.8M441.6 50.5h.8M446.7 39.3h.8M463.7 50.5h.8M465.7 51.5h.8M453.1 43.1h.8M453.9 49.9h.8M441.1 41.2h.8M456.1 45.0h.8M456.8 43.3h.8M451.3 49.2h.8M456.6 40.4h.8M456.8 45.9h.8M464.9 47.1h.8M457.8 47.7h.8M455.3 48.4h.8M448.8 40.4h.8M449.4 44.5h.8M462.9 46.6h.8M451.8 47.6h.8M447.3 44.8h.8M452.1 42.8h.8M459.4 46.9h.8M467.8 46.8h.8M465.2 44.5h.8M447.1 46.7h.8M449.2 41.3h.8M451.7 46.9h.8M450.4 48.9h.8M468.5 47.5h.8M461.5 41.9h.8M448.3 44.3h.8M449.1 48.3h.8M457.2 45.2h.8M463.1 44.1h.8M467.4 49.4h.8M451.9 51.4h.8M456.4 42.5h.8M459.9 49.9h.8M449.9 49.9h.8M459.5 49.6h.8M465.0 48.6h.8M450.8 40.3h.8M459.4 44.3h.8M463.6 51.5h.8M448.8 43.9h.8M451.3 46.1h.8M465.1 43.9h.8M453.8 50.9h.8M446.4 40.5h.8M456.6 39.0h.8M444.6 44.2h.8M449.1 48.0h.8M455.8 49.2h.8M460.7 52.3h.8M446.5 50.4h.8M449.7 47.6h.8M461.1 48.1h.8M452.5 53.2h.8M440.3 46.4h.8M455.7 43.0h.8M455.2 39.8h.8M467.9 49.0h.8M447.5 42.2h.8M464.1 46.9h.8M460.0 49.5h.8M453.3 45.2h.8M444.3 45.9h.8M461.0 47.7h.8M452.1 50.8h.8M442.4 48.1h.8M441.4 45.1h.8M452.1 50.3h.8M445.0 46.6h.8M462.4 50.9h.8M443.8 46.7h.8M468.1 43.2h.8M451.2 44.0h.8M466.4 42.2h.8M453.4 46.5h.8M463.9 45.5h.8M441.5 44.9h.8M454.0 50.8h.8M447.3 43.7h.8M450.8 46.7h.8M463.6 47.8h.8M457.5 43.5h.8M463.2 48.4h.8M453.1 42.1h.8M467.7 50.3h.8M450.9 47.6h.8M463.1 51.8h.8M454.4 49.0h.8M450.2 39.8h.8M450.7 46.1h.8" stroke="#000" stroke-opacity="0.33" stroke-width="0.8"/>
<path d="M463.9 47.0h.8M454.5 47.4h.8M458.5 46.4h.8M447.0 43.0h.8M451.2 43.2h.8M455.8 50.0h.8M458.5 45.2h.8M450.9 44.8h.8M459.3 43.9h.8M453.8 50.9h.8M448.2 44.7h.8M455.1 50.4h.8M462.6 44.2h.8M456.0 44.7h.8M453.9 41.1h.8M463.0 45.9h.8M442.8 41.6h.8M453.6 43.0h.8M449.6 46.2h.8M441.9 43.2h.8M445.4 44.1h.8M450.8 47.1h.8M457.5 43.7h.8M451.5 44.5h.8M448.9 47.3h.8M467.2 45.0h.8M455.4 40.6h.8M443.2 50.0h.8M450.7 48.3h.8M454.6 42.9h.8M444.0 46.2h.8M444.0 45.3h.8M460.2 51.3h.8M451.1 44.1h.8M452.5 40.6h.8M460.8 42.6h.8M462.9 43.2h.8M455.4 48.0h.8M452.1 48.1h.8M442.9 45.6h.8M465.7 46.0h.8M456.2 49.0h.8M453.6 44.7h.8M459.6 45.7h.8M458.1 43.4h.8M440.9 44.9h.8M449.4 45.8h.8M465.6 46.5h.8M457.5 44.5h.8M456.1 45.7h.8M453.0 47.3h.8M456.2 42.3h.8M452.1 46.9h.8M445.0 42.6h.8M456.7 44.7h.8M468.6 46.6h.8M447.3 45.0h.8M444.4 45.0h.8M460.4 42.5h.8M449.1 46.0h.8M453.4 45.7h.8M450.6 43.1h.8M453.6 46.6h.8M447.3 47.5h.8M449.3 49.1h.8M455.3 45.6h.8M448.1 44.0h.8M457.3 45.8h.8M461.4 44.6h.8M455.7 46.2h.8M460.0 46.5h.8M450.4 47.7h.8M447.8 48.7h.8" stroke="#000" stroke-opacity="0.4" stroke-width="0.8"/>
<path d="M441.9 44.9h.8M441.4 39.2h.8M456.7 44.7h.8M464.8 46.9h.8M454.5 44.7h.8M449.3 44.8h.8M459.7 41.3h.8M456.2 40.6h.8M456.3 46.2h.8M448.8 48.7h.8M471.2 45.6h.8M468.2 49.6h.8M454.2 46.3h.8M469.3 47.5h.8M457.1 45.4h.8M445.5 45.3h.8M456.5 38.8h.8M459.6 44.9h.8M455.0 41.4h.8M454.9 46.2h.8M448.6 43.5h.8M447.5 47.0h.8M448.3 45.5h.8M452.8 48.3h.8M442.7 46.6h.8M448.5 43.5h.8M456.1 46.6h.8M451.2 44.2h.8M442.6 43.6h.8M459.0 46.4h.8M460.2 47.8h.8M455.3 42.9h.8M460.5 51.9h.8M460.3 42.4h.8M455.9 39.6h.8M454.4 45.9h.8M450.5 41.8h.8M455.7 45.1h.8M448.5 42.4h.8M466.4 44.8h.8M455.2 49.1h.8M452.7 47.5h.8M453.3 46.7h.8M457.9 46.6h.8M457.2 48.5h.8M450.8 47.6h.8M456.9 44.5h.8M447.3 41.0h.8M460.0 43.7h.8M454.8 43.8h.8M451.1 45.3h.8M459.7 47.6h.8M452.1 42.7h.8M444.0 47.3h.8M451.5 45.6h.8M458.7 46.7h.8M456.2 45.8h.8M453.3 40.0h.8M453.9 44.6h.8M462.7 42.9h.8M453.4 42.4h.8M442.4 45.3h.8M451.6 41.8h.8M448.9 46.7h.8M454.9 40.7h.8M451.2 41.3h.8M457.9 46.7h.8M456.5 45.1h.8M464.1 43.2h.8M456.8 46.3h.8M449.8 46.3h.8M455.8 46.2h.8M447.9 41.4h.8" stroke="#000" stroke-opacity="0.4" stroke-width="0.8"/>
<path d="M459.5 48.7h.8M461.5 47.5h.8M451.2 46.9h.8M454.5 48.5h.8M461.2 43.6h.8M450.1 42.7h.8M448.8 43.4h.8M455.9 47.9h.8M459.5 43.2h.8M459.1 47.0h.8M461.0 43.3h.8M448.6 46.9h.8M445.5 48.8h.8M453.5 46.0h.8M466.9 46.8h.8M440.5 46.3h.8M457.5 50.8h.8M461.6 43.8h.8M460.0 44.8h.8M447.7 42.4h.8M444.2 50.4h.8M456.5 47.5h.8M463.8 50.7h.8M455.6 47.2h.8M460.6 43.3h.8M453.7 45.2h.8M445.8 42.4h.8M452.8 45.5h.8M455.0 46.1h.8M453.8 46.8h.8M462.6 45.6h.8M443.0 47.3h.8M448.7 46.3h.8M461.5 41.1h.8M446.8 50.3h.8M447.2 43.3h.8M453.5 44.8h.8M455.4 44.9h.8M445.5 49.5h.8M446.6 45.8h.8M451.7 48.4h.8M461.8 43.3h.8M461.8 45.6h.8M453.5 47.1h.8M452.6 47.4h.8M449.9 41.6h.8M447.1 47.2h.8M454.3 44.1h.8M456.1 44.1h.8M458.1 48.4h.8M452.3 42.6h.8M455.8 47.8h.8M459.5 47.5h.8M450.4 42.7h.8M466.1 46.2h.8M452.8 44.5h.8M458.7 45.3h.8M445.1 42.3h.8M453.9 46.1h.8M445.8 49.3h.8M459.8 44.4h.8M449.8 42.2h.8M451.4 41.2h.8M456.7 48.4h.8M454.4 43.0h.8M448.5 44.3h.8M444.9 46.7h.8M454.5 49.4h.8M450.3 44.3h.8M456.3 44.5h.8M453.1 47.1h.8M447.8 45.1h.8M443.5 47.1h.8" stroke="#000" stroke-opacity="0.4" stroke-width="0.8"/>
<path d="M451.6 45.0h.8M461.2 44.4h.8M450.9 43.0h.8M448.0 42.2h.8M464.0 48.3h.8M448.6 46.3h.8M459.8 45.9h.8M457.1 46.2h.8M456.9 50.4h.8M459.1 48.1h.8M451.0 43.7h.8M471.5 47.9h.8M457.0 42.5h.8M456.9 47.6h.8M449.6 49.6h.8M456.7 47.0h.8M456.4 44.6h.8M458.2 43.8h.8M455.4 42.8h.8M451.8 42.9h.8M458.6 49.7h.8M448.5 51.2h.8M447.4 45.9h.8M459.7 44.3h.8M460.7 46.2h.8M457.4 50.0h.8M452.9 45.8h.8M441.6 48.9h.8M448.5 44.6h.8M454.4 43.2h.8M447.4 45.1h.8M461.8 50.9h.8M440.2 47.8h.8M447.8 46.0h.8M446.6 41.9h.8M470.2 46.1h.8M458.5 43.2h.8M455.5 40.9h.8M450.3 42.8h.8M447.4 48.3h.8M462.3 44.3h.8M445.8 41.3h.8M457.4 46.9h.8M447.3 48.2h.8M449.9 44.0h.8M458.5 49.2h.8M453.4 41.2h.8M458.2 47.4h.8M457.4 44.4h.8M458.6 45.8h.8M460.6 46.2h.8M461.9 36.0h.8M446.4 45.8h.8M449.8 44.3h.8M462.7 44.7h.8M450.0 46.8h.8M461.6 43.5h.8M445.9 45.4h.8M445.9 43.8h.8M470.8 46.0h.8M451.7 42.5h.8M456.3 45.2h.8M452.8 47.0h.8M465.9 44.6h.8M447.3 49.3h.8M450.6 43.9h.8M455.4 40.1h.8M466.6 50.6h.8M456.2 40.9h.8M460.1 45.9h.8M458.9 43.9h.8M457.9 48.0h.8M456.8 39.7h.8" stroke="#000" stroke-opacity="0.4" stroke-width="0.8"/>
<path d="M450.9 40.5h.8M462.2 40.1h.8M453.3 45.1h.8M457.9 44.5h.8M461.5 47.6h.8M465.2 46.2h.8M449.9 43.2h.8M454.8 44.5h.8M441.8 46.6h.8M453.9 48.1h.8M449.1 50.0h.8M455.4 45.6h.8M449.9 44.8h.8M455.0 40.8h.8M453.7 44.4h.8M457.2 43.9h.8M446.4 43.2h.8M445.0 44.5h.8M458.7 41.4h.8M454.4 42.2h.8M454.6 44.4h.8M454.2 44.3h.8M462.4 46.2h.8M444.4 44.4h.8M454.4 45.8h.8M445.6 45.5h.8M455.3 44.9h.8M452.5 47.7h.8M441.6 49.3h.8M458.8 43.3h.8M449.5 41.8h.8M456.3 47.6h.8M456.1 43.3h.8M463.4 53.3h.8M456.0 46.8h.8M451.3 45.8h.8M448.3 46.2h.8M453.5 46.8h.8M448.5 45.9h.8M445.5 38.9h.8M462.5 49.2h.8M456.2 45.5h.8M459.5 49.4h.8M457.3 48.9h.8M452.6 42.6h.8M466.0 45.0h.8M453.6 43.2h.8M459.2 49.9h.8M454.8 44.9h.8M453.5 48.7h.8M462.5 45.4h.8M455.7 47.6h.8M447.5 46.4h.8M459.1 47.2h.8M454.9 43.7h.8M445.8 43.8h.8M458.6 45.2h.8M448.5 41.4h.8M457.3 47.1h.8M459.3 48.0h.8M449.3 43.6h.8M448.3 46.5h.8M464.5 44.1h.8M444.6 45.0h.8M458.9 46.4h.8M457.6 43.9h.8M448.4 46.4h.8M448.8 42.3h.8M449.4 40.9h.8M445.5 44.7h.8M449.6 49.8h.8M452.4 44.2h.8M447.2 44.5h.8" stroke="#000" stroke-opacity="0.4" stroke-width="0.8"/>
<path d="M448.4 44.4h.8M460.9 45.7h.8M448.2 40.8h.8M459.3 51.3h.8M465.3 46.3h.8M453.5 43.4h.8M447.9 47.2h.8M441.3 43.3h.8M466.3 47.3h.8M454.8 49.7h.8M449.6 47.0h.8M456.2 45.9h.8M448.0 42.4h.8M456.9 41.9h.8M450.6 45.3h.8M456.4 48.5h.8M460.2 46.1h.8M453.2 48.2h.8M460.0 49.5h.8M450.0 48.0h.8M454.7 37.4h.8M465.1 49.3h.8M463.0 44.9h.8M452.5 44.1h.8M457.5 42.6h.8M449.3 41.5h.8M452.1 45.7h.8M466.4 47.2h.8M446.9 46.5h.8M442.8 47.7h.8M458.8 44.7h.8M444.5 43.3h.8M445.5 43.3h.8M440.6 42.5h.8M468.9 44.0h.8M461.5 39.6h.8M447.9 43.1h.8M451.2 46.1h.8M450.3 46.6h.8M459.0 46.9h.8M451.0 47.0h.8M465.8 44.9h.8M462.4 46.9h.8M442.1 45.6h.8M449.5 42.8h.8M454.3 44.8h.8M444.3 45.2h.8M448.4 44.0h.8M459.8 43.6h.8M468.5 49.3h.8M460.1 48.4h.8M458.4 44.1h.8M453.8 40.2h.8M451.6 47.4h.8M452.8 44.0h.8M455.2 46.2h.8M445.4 45.5h.8M457.5 45.6h.8M456.7 48.2h.8M458.1 44.0h.8M453.0 43.3h.8M441.8 45.1h.8M455.4 45.7h.8M464.1 47.2h.8M453.3 42.3h.8M451.6 45.8h.8M459.8 43.4h.8M451.4 47.3h.8M444.3 45.1h.8M462.7 46.9h.8M445.6 46.0h.8M453.9 50.0h.8M444.6 46.2h.8" stroke="#000" stroke-opacity="0.4" stroke-width="0.8"/>
<path d="M454.3 46.4h.8M456.0 43.7h.8M460.6 40.5h.8M454.6 47.9h.8M449.2 40.7h.8M454.1 42.1h.8M452.7 48.4h.8M453.9 43.4h.8M458.1 47.2h.8M458.2 44.8h.8M446.7 43.7h.8M441.5 51.3h.8M447.0 41.2h.8M458.2 48.2h.8M456.0 44.4h.8M455.7 43.8h.8M451.8 48.9h.8M451.5 50.3h.8M453.2 42.3h.8M455.4 48.4h.8M442.3 40.3h.8M457.3 45.7h.8M448.6 44.4h.8M450.2 44.7h.8M454.4 42.3h.8M459.1 43.4h.8M458.0 51.2h.8M446.7 47.0h.8M444.6 43.5h.8M448.1 45.1h.8M457.6 48.2h.8M456.5 43.5h.8M455.7 44.6h.8M456.6 48.2h.8M456.5 41.8h.8M444.3 44.3h.8M460.5 44.3h.8M456.3 42.4h.8M450.5 44.6h.8M462.4 43.6h.8M457.9 40.1h.8M458.5 45.8h.8M448.4 49.7h.8M451.5 45.2h.8M451.7 45.5h.8M444.7 47.5h.8M459.1 41.1h.8M444.1 42.4h.8M457.1 43.7h.8M454.3 47.6h.8M449.5 44.8h.8M448.9 46.2h.8M453.2 40.7h.8M443.7 48.7h.8M454.3 40.6h.8M461.8 42.0h.8M449.4 43.9h.8M443.8 43.8h.8M446.5 43.8h.8M456.9 44.8h.8M452.3 39.9h.8M448.0 43.9h.8M451.7 48.2h.8M451.8 49.7h.8M450.7 46.4h.8M457.9 48.0h.8M455.2 45.1h.8M455.9 46.1h.8M453.4 49.1h.8M458.9 46.8h.8M446.8 45.7h.8M460.7 46.0h.8M454.8 49.9h.8" stroke="#000" stroke-opacity="0.4" stroke-width="0.8"/>
<path d="M451.2 46.2h.8M445.1 46.0h.8M462.4 45.5h.8M452.0 44.6h.8M459.8 48.2h.8M441.9 42.6h.8M452.8 45.2h.8M457.3 47.0h.8M447.9 41.1h.8M449.6 43.5h.8M451.2 46.7h.8M453.8 44.6h.8M461.8 46.0h.8M456.2 45.9h.8M452.0 43.1h.8M461.9 48.1h.8M453.3 44.6h.8M453.7 45.5h.8M463.2 44.8h.8M461.6 47.8h.8M449.1 50.6h.8M452.1 45.7h.8M451.6 45.7h.8M454.7 46.5h.8M449.1 46.6h.8M453.4 45.3h.8M452.3 47.2h.8M451.0 45.8h.8M448.0 42.8h.8M461.9 45.8h.8M448.4 45.5h.8M454.0 48.8h.8M450.4 42.9h.8M454.3 50.6h.8M456.3 46.3h.8M458.4 46.1h.8M459.6 42.0h.8M450.0 47.7h.8M454.8 49.5h.8M448.7 44.3h.8M446.7 45.3h.8M446.6 44.4h.8M459.8 49.7h.8M443.0 43.3h.8M460.7 45.0h.8M470.5 48.3h.8M450.8 45.9h.8M448.8 41.2h.8M451.6 45.3h.8M452.2 49.4h.8M463.4 40.9h.8M451.3 40.3h.8M447.3 44.8h.8M456.4 43.4h.8M454.2 48.1h.8M447.6 47.2h.8M447.0 47.2h.8M456.5 42.2h.8M451.5 46.1h.8M449.3 48.5h.8M459.4 48.8h.8M447.8 47.1h.8M448.1 46.2h.8M454.2 45.3h.8M457.2 40.4h.8M443.4 47.5h.8M445.1 46.4h.8M464.4 43.2h.8M465.2 46.6h.8M448.2 50.7h.8M457.9 43.2h.8M446.5 45.5h.8" stroke="#000" stroke-opacity="0.4" stroke-width="0.8"/>
<path d="M440.6 44.9h.8M444.5 44.1h.8M452.3 44.3h.8M454.6 49.5h.8M456.3 45.2h.8M453.3 44.1h.8M458.3 42.6h.8M441.5 46.3h.8M446.4 44.9h.8M460.9 44.0h.8M453.2 42.1h.8M448.4 42.9h.8M440.2 42.6h.8M449.5 42.9h.8M447.1 45.3h.8M451.4 49.5h.8M444.5 47.3h.8M444.4 45.2h.8M448.9 51.3h.8M453.3 45.4h.8M455.9 47.6h.8M459.9 44.6h.8M452.6 44.3h.8M460.9 46.3h.8M441.8 47.0h.8M456.3 43.7h.8M451.1 44.2h.8M454.6 45.7h.8M446.6 46.7h.8M456.0 43.0h.8M446.8 46.0h.8M450.6 44.7h.8M454.3 45.4h.8M456.7 43.7h.8M449.1 48.5h.8M451.1 43.6h.8M455.7 47.1h.8M461.7 46.4h.8M447.6 40.9h.8M464.1 43.9h.8M447.6 47.2h.8M464.1 40.6h.8M447.3 42.8h.8M452.1 46.8h.8M451.1 47.7h.8M448.3 47.1h.8M464.8 43.2h.8M464.8 43.3h.8M447.3 46.7h.8M447.4 41.7h.8M455.8 44.3h.8M452.6 47.1h.8M448.2 40.8h.8M441.2 46.8h.8M445.6 44.3h.8M440.9 47.4h.8M441.6 42.3h.8M457.1 44.9h.8M456.5 47.8h.8M451.4 44.7h.8M446.6 41.7h.8M461.8 42.2h.8M462.7 47.0h.8M468.2 44.0h.8M449.6 44.0h.8M455.4 46.7h.8M451.2 45.0h.8M459.0 45.2h.8M452.5 48.5h.8M457.7 50.3h.8M455.0 46.2h.8M451.2 43.9h.8" stroke="#000" stroke-opacity="0.4" stroke-width="0.8"/>
<path d="M451.6 49.8h.8M452.1 49.3h.8M450.0 42.6h.8M454.6 49.1h.8M457.7 46.5h.8M451.5 43.2h.8M451.3 44.9h.8M465.5 43.4h.8M456.0 43.8h.8M453.5 40.5h.8M448.3 45.3h.8M453.8 46.4h.8M453.1 46.2h.8M441.5 46.7h.8M450.2 46.0h.8M460.5 46.2h.8M444.5 45.4h.8M459.8 43.9h.8M446.9 43.8h.8M446.4 50.9h.8M460.9 45.9h.8M462.4 44.4h.8M465.6 45.9h.8M451.5 44.9h.8M457.4 43.2h.8M440.8 48.5h.8M466.8 45.3h.8M446.0 40.5h.8M450.3 41.4h.8M446.3 42.0h.8M454.0 44.2h.8M450.5 46.3h.8M452.4 41.3h.8M443.4 42.9h.8M455.9 47.7h.8M447.7 46.6h.8M443.9 44.4h.8M465.3 47.0h.8M464.3 49.3h.8M453.6 46.7h.8M445.6 44.6h.8M462.7 44.9h.8M443.5 46.4h.8M450.0 41.9h.8M459.1 43.9h.8M454.5 47.9h.8M455.2 44.7h.8M456.1 44.3h.8M441.8 46.7h.8M466.0 45.7h.8M449.6 47.8h.8M459.6 45.7h.8M446.1 45.8h.8M449.6 51.2h.8M456.6 45.4h.8M456.9 44.1h.8M451.8 44.2h.8M460.4 49.5h.8M454.9 45.5h.8M449.6 46.9h.8M460.3 44.9h.8M457.0 46.4h.8M442.7 44.2h.8M452.4 48.0h.8M456.5 43.0h.8M457.8 43.4h.8M443.2 41.6h.8M451.0 47.1h.8M453.7 47.6h.8M443.5 40.8h.8M446.8 49.7h.8M445.8 45.4h.8" stroke="#000" stroke-opacity="0.4" stroke-width="0.8"/>
<path d="M447.7 48.0h.8M460.4 46.2h.8M450.4 43.0h.8M452.0 43.4h.8M446.0 48.7h.8M446.5 46.6h.8M457.4 45.5h.8M456.5 47.8h.8M459.9 48.5h.8M447.1 43.2h.8M446.5 47.1h.8M444.8 44.9h.8M460.6 46.3h.8M460.0 44.2h.8M451.0 42.4h.8M443.6 47.8h.8M451.8 48.0h.8M451.5 44.4h.8M452.6 45.5h.8M465.9 40.5h.8M450.9 39.8h.8M457.2 47.6h.8M450.2 46.7h.8M453.4 45.4h.8M448.7 43.6h.8M452.6 43.9h.8M465.7 47.9h.8M457.3 43.5h.8M460.4 47.7h.8M455.6 44.1h.8M453.5 41.6h.8M457.6 46.4h.8M461.6 42.5h.8M456.8 46.3h.8M454.3 45.9h.8M443.2 39.2h.8M451.0 43.1h.8M459.0 48.6h.8M450.7 47.2h.8M450.3 47.4h.8M447.4 47.0h.8M453.4 43.9h.8M451.0 49.7h.8M452.4 44.0h.8M448.1 44.0h.8M448.6 42.5h.8M464.4 48.5h.8M446.1 48.2h.8M457.7 52.5h.8M467.2 46.3h.8M460.8 47.8h.8M454.9 43.5h.8M459.3 42.6h.8M461.4 42.2h.8M458.1 46.3h.8M448.2 45.4h.8M451.6 45.4h.8M444.5 46.9h.8M445.9 45.1h.8M450.2 44.9h.8M442.6 46.9h.8M452.4 48.1h.8M457.7 45.4h.8M452.4 45.4h.8M452.2 40.7h.8M452.9 50.3h.8M454.9 44.2h.8M447.3 45.4h.8M450.3 39.5h.8M451.3 48.8h.8M453.0 50.1h.8M452.4 46.0h.8" stroke="#000" stroke-opacity="0.4" stroke-width="0.8"/>
<path d="M451.4 45.4h.8M454.7 40.1h.8M458.0 40.6h.8M449.0 45.9h.8M452.8 44.8h.8M459.4 48.3h.8M453.0 40.7h.8M444.3 45.7h.8M449.6 44.5h.8M465.0 46.0h.8M444.5 41.4h.8M444.8 50.3h.8M463.0 47.9h.8M458.7 47.2h.8M449.8 45.6h.8M445.4 45.8h.8M464.4 50.6h.8M459.5 50.0h.8M445.0 50.1h.8M463.8 43.6h.8M448.9 43.4h.8M452.3 47.4h.8M465.6 41.5h.8M455.6 48.0h.8M452.3 49.0h.8M463.9 41.1h.8M462.4 42.8h.8M456.8 43.9h.8M454.4 46.3h.8M448.6 46.0h.8M445.1 46.1h.8M447.0 42.3h.8M453.8 45.8h.8M452.7 44.2h.8M452.5 46.2h.8M443.6 45.1h.8M446.1 49.1h.8M452.9 40.5h.8M454.1 47.2h.8M460.8 40.5h.8M458.4 45.2h.8M456.5 46.1h.8M449.7 46.8h.8M450.6 45.7h.8M454.7 46.2h.8M447.2 46.5h.8M459.7 44.3h.8M451.4 46.1h.8M449.8 43.2h.8M444.2 46.5h.8M460.3 42.1h.8M457.8 47.6h.8M455.2 45.4h.8M453.0 43.7h.8M451.4 46.4h.8M448.0 46.5h.8M442.0 45.5h.8M454.8 42.5h.8M445.8 42.4h.8M453.4 45.5h.8M466.3 46.3h.8M465.3 41.0h.8M449.1 43.8h.8M454.5 44.0h.8M445.1 45.3h.8M468.5 39.2h.8M462.7 47.8h.8M447.7 42.4h.8M455.8 42.8h.8M463.3 48.3h.8M443.4 41.1h.8M444.9 43.6h.8" stroke="#000" stroke-opacity="0.4" stroke-width="0.8"/>
<path d="M450.4 55.8h.7M466.7 57.1h.7M448.5 57.8h.7M461.4 53.0h.7M460.4 53.5h.7M457.4 59.3h.7M459.1 52.6h.7M455.0 52.2h.7M455.9 53.3h.7M448.9 53.8h.7M461.7 55.6h.7M451.4 54.6h.7M448.9 56.3h.7M451.1 54.8h.7M449.1 52.4h.7M445.9 56.4h.7M450.2 57.7h.7M444.8 53.1h.7M452.8 54.1h.7M451.5 53.8h.7M447.0 46.7h.7M449.8 51.4h.7M454.0 60.0h.7M449.2 53.4h.7M454.5 57.8h.7M472.0 59.0h.7M454.1 55.4h.7M457.0 64.7h.7M454.3 54.8h.7M449.0 56.8h.7M452.3 54.9h.7M462.1 57.6h.7M448.8 56.5h.7M451.6 55.6h.7M454.7 50.7h.7M463.2 53.5h.7M457.9 57.2h.7M469.2 53.6h.7" stroke="#000" stroke-opacity="0.3" stroke-width="0.7"/>
<path d="M473.7 56.6h.7M459.9 51.2h.7M446.0 56.6h.7M455.7 58.2h.7M453.9 59.1h.7M472.6 49.8h.7M453.5 49.9h.7M464.9 56.8h.7M463.9 51.0h.7M452.8 54.0h.7M450.3 53.3h.7M452.5 47.0h.7M464.9 50.7h.7M452.8 48.3h.7M453.2 53.3h.7M465.8 52.3h.7M447.6 51.1h.7M462.3 51.0h.7M452.8 52.2h.7M458.6 54.1h.7M451.2 55.5h.7M453.2 54.3h.7M461.6 58.2h.7M461.7 57.3h.7M465.5 59.7h.7M450.9 53.2h.7M475.9 56.5h.7M451.5 55.7h.7M469.9 55.3h.7M450.7 52.1h.7M443.9 55.3h.7M459.2 49.0h.7M470.5 54.7h.7M458.4 58.8h.7M457.6 54.4h.7M458.0 55.9h.7M455.9 59.1h.7M459.1 53.7h.7" stroke="#000" stroke-opacity="0.3" stroke-width="0.7"/>
<path d="M457.4 59.1h.7M447.7 57.5h.7M449.3 57.9h.7M463.4 61.5h.7M457.2 51.9h.7M456.0 48.7h.7M448.2 57.5h.7M448.8 53.1h.7M458.6 59.5h.7M453.5 51.0h.7M453.4 56.3h.7M453.3 54.9h.7M461.3 52.9h.7M446.9 45.1h.7M457.3 53.9h.7M458.1 57.8h.7M442.2 52.0h.7M454.5 49.5h.7M457.0 50.0h.7M456.8 52.7h.7M446.2 50.8h.7M455.0 54.5h.7M462.6 53.4h.7M452.2 56.1h.7M455.7 46.1h.7M463.3 56.3h.7M457.6 48.6h.7M446.7 53.2h.7M454.6 53.9h.7M457.2 62.7h.7M455.3 53.3h.7M448.5 59.8h.7M450.3 54.6h.7M465.3 49.7h.7M453.8 55.9h.7M452.8 51.9h.7M464.5 56.0h.7M450.7 57.0h.7" stroke="#000" stroke-opacity="0.3" stroke-width="0.7"/>
<path d="M467.5 54.0h.7M463.8 53.0h.7M448.6 52.1h.7M455.2 53.5h.7M445.6 59.1h.7M458.9 53.9h.7M452.6 53.9h.7M448.1 56.4h.7M459.9 55.9h.7M462.9 49.6h.7M448.3 54.0h.7M451.9 52.0h.7M458.7 56.7h.7M444.0 58.1h.7M462.9 51.0h.7M450.1 50.7h.7M450.6 56.2h.7M467.4 54.1h.7M446.0 53.5h.7M455.6 52.5h.7M465.4 58.2h.7M467.4 51.9h.7M448.1 56.8h.7M466.2 51.9h.7M459.3 54.2h.7M455.4 60.8h.7M448.0 52.5h.7M466.6 56.7h.7M448.7 55.4h.7M459.0 58.9h.7M451.4 56.5h.7M451.0 54.1h.7M466.7 52.8h.7M441.9 51.7h.7M454.9 58.6h.7M470.2 57.0h.7M464.0 54.7h.7" stroke="#000" stroke-opacity="0.3" stroke-width="0.7"/>
<path d="M462.6 61.3h.7M462.1 57.5h.7M462.8 53.0h.7M447.3 50.9h.7M467.0 58.5h.7M458.1 58.2h.7M459.6 58.8h.7M460.0 54.1h.7M447.6 51.1h.7M450.0 52.2h.7M463.8 58.6h.7M451.3 51.1h.7M449.4 49.7h.7M454.0 43.3h.7M457.7 58.8h.7M445.2 54.1h.7M461.6 53.1h.7M459.6 52.3h.7M463.7 52.9h.7M463.1 55.8h.7M464.0 50.6h.7M456.6 59.1h.7M449.8 59.1h.7M459.6 56.2h.7M445.5 45.6h.7M457.0 54.7h.7M455.4 54.1h.7M469.6 48.6h.7M449.0 51.9h.7M460.8 53.7h.7M462.2 63.7h.7M463.9 51.5h.7M451.0 49.3h.7M460.3 57.4h.7M463.2 53.2h.7M459.9 60.3h.7M467.9 58.9h.7" stroke="#000" stroke-opacity="0.3" stroke-width="0.7"/>
<path d="M454.8 53.1h.7M457.7 51.9h.7M454.1 58.4h.7M451.2 56.9h.7M461.5 55.2h.7M448.3 52.6h.7M448.6 61.2h.7M456.7 56.1h.7M444.6 59.8h.7M459.8 55.0h.7M458.6 58.9h.7M452.5 49.1h.7M472.6 60.1h.7M450.8 58.8h.7M460.4 56.5h.7M448.4 60.3h.7M462.9 58.7h.7M469.3 59.2h.7M453.8 53.5h.7M461.1 50.1h.7M450.3 50.5h.7M446.5 50.7h.7M453.7 51.8h.7M455.3 55.6h.7M463.6 58.2h.7M456.6 52.4h.7M463.9 60.0h.7M450.3 55.1h.7M453.2 62.2h.7M448.0 51.1h.7M452.4 56.9h.7M441.7 51.5h.7M444.5 49.8h.7M451.7 61.2h.7M467.5 54.8h.7M452.3 58.2h.7M456.3 59.4h.7" stroke="#000" stroke-opacity="0.3" stroke-width="0.7"/>
<path d="M462.3 56.3h.7M453.3 50.7h.7M461.4 53.1h.7M451.6 56.9h.7M455.0 51.7h.7M458.3 52.9h.7M456.0 53.3h.7M457.5 59.3h.7M457.2 56.0h.7M451.8 52.6h.7M459.7 56.8h.7M457.3 45.5h.7M466.2 56.0h.7M445.1 57.6h.7M453.8 50.6h.7M455.8 58.2h.7M440.1 52.9h.7M456.5 56.1h.7M456.1 52.7h.7M463.4 51.9h.7M453.4 53.3h.7M463.6 50.5h.7M459.3 55.5h.7M466.5 56.1h.7M465.2 59.5h.7M463.1 48.7h.7M465.3 52.3h.7M448.9 52.2h.7M468.5 53.8h.7M443.8 56.1h.7M460.7 59.5h.7M462.1 58.0h.7M454.7 56.5h.7M455.3 59.4h.7M446.2 50.4h.7M455.9 49.3h.7M459.2 54.4h.7" stroke="#000" stroke-opacity="0.3" stroke-width="0.7"/>
<path d="M461.2 55.0h.7M441.3 46.9h.7M460.7 57.3h.7M452.3 53.1h.7M461.1 54.2h.7M452.9 50.1h.7M459.3 48.3h.7M456.0 58.1h.7M459.4 60.1h.7M463.5 59.4h.7M469.1 51.7h.7M442.8 53.3h.7M458.1 56.6h.7M447.6 52.3h.7M443.9 51.7h.7M456.1 61.9h.7M454.0 60.4h.7M444.0 55.2h.7M466.2 55.3h.7M469.0 52.9h.7M458.9 56.7h.7M458.9 51.2h.7M459.7 52.6h.7M457.6 54.1h.7M464.6 56.3h.7M456.8 57.2h.7M453.2 51.7h.7M446.7 57.0h.7M462.1 55.2h.7M456.0 55.1h.7M452.8 52.4h.7M460.8 62.6h.7M457.3 52.4h.7M455.6 49.5h.7M453.9 57.0h.7M452.1 55.5h.7M458.8 53.3h.7" stroke="#000" stroke-opacity="0.3" stroke-width="0.7"/>
<path d="M454.2 53.9h.7M458.1 56.7h.7M455.5 56.3h.7M465.2 57.2h.7M460.7 54.8h.7M442.9 54.2h.7M453.0 54.9h.7M469.6 50.3h.7M454.2 56.4h.7M455.7 51.7h.7M461.9 48.1h.7M458.8 53.2h.7M453.9 54.2h.7M452.4 56.8h.7M450.1 58.8h.7M465.2 53.4h.7M460.9 55.3h.7M464.8 52.5h.7M456.2 55.6h.7M454.7 47.8h.7M459.7 57.2h.7M461.2 60.7h.7M458.3 49.5h.7M453.7 50.3h.7M458.9 58.0h.7M467.7 56.9h.7M445.9 50.0h.7M453.5 54.3h.7M460.8 54.3h.7M459.9 61.7h.7M456.5 52.6h.7M465.1 47.8h.7M458.4 51.9h.7M452.4 57.7h.7M453.0 59.0h.7M450.9 51.5h.7M461.4 54.7h.7" stroke="#000" stroke-opacity="0.3" stroke-width="0.7"/>
<path d="M457.0 48.1h.7M451.9 54.0h.7M459.5 55.9h.7M454.8 59.2h.7M457.1 57.8h.7M468.0 60.6h.7M453.6 52.1h.7M450.7 49.9h.7M449.4 59.5h.7M458.2 60.4h.7M451.1 54.7h.7M445.6 53.4h.7M459.7 56.4h.7M450.3 53.0h.7M447.6 55.9h.7M456.1 47.0h.7M451.2 56.0h.7M453.8 53.0h.7M460.9 58.3h.7M457.4 51.1h.7M462.6 53.2h.7M451.1 51.1h.7M459.1 49.1h.7M448.8 49.3h.7M460.0 55.0h.7M448.2 57.5h.7M459.2 51.7h.7M447.1 53.1h.7M461.7 60.6h.7M454.1 55.7h.7M456.8 52.1h.7M443.3 53.9h.7M463.3 49.7h.7M463.8 55.0h.7M472.6 51.7h.7M461.9 55.4h.7M457.7 62.1h.7" stroke="#000" stroke-opacity="0.3" stroke-width="0.7"/>
<path d="M460.3 61.7h.7M468.7 55.4h.7M462.4 60.0h.7M449.2 55.4h.7M457.6 64.2h.7M474.4 58.2h.7M459.6 54.8h.7M452.7 54.3h.7M453.7 50.3h.7M452.1 55.8h.7M456.7 59.4h.7M445.7 55.6h.7M454.8 52.9h.7M448.8 57.3h.7M456.9 60.8h.7M457.9 50.7h.7M464.9 53.8h.7M459.0 55.0h.7M454.9 54.8h.7M451.2 57.1h.7M453.7 51.9h.7M456.2 50.6h.7M457.9 55.6h.7M454.3 51.0h.7M460.7 52.8h.7M461.9 55.0h.7M460.8 53.6h.7M468.2 57.2h.7M456.1 59.2h.7M460.3 57.3h.7M457.2 58.6h.7M443.2 57.8h.7M444.2 54.7h.7M471.4 55.6h.7M458.2 52.0h.7M453.6 49.3h.7M466.5 52.2h.7" stroke="#000" stroke-opacity="0.3" stroke-width="0.7"/>
<path d="M452.4 50.4h.7M463.8 59.8h.7M456.2 60.7h.7M447.9 58.1h.7M465.9 53.7h.7M455.2 49.0h.7M452.8 52.5h.7M459.0 48.7h.7M452.6 46.7h.7M449.0 54.2h.7M457.5 60.5h.7M467.2 55.5h.7M467.0 53.5h.7M456.8 49.3h.7M448.7 59.1h.7M461.5 57.1h.7M448.4 57.7h.7M444.0 56.8h.7M457.9 52.3h.7M471.3 52.3h.7M470.5 53.9h.7M447.3 51.5h.7M463.5 56.1h.7M444.4 58.3h.7M450.6 61.5h.7M452.4 50.3h.7M452.8 54.8h.7M456.4 51.5h.7M456.5 57.7h.7M454.9 59.3h.7M457.2 56.2h.7M441.8 54.6h.7M451.4 59.2h.7M461.3 56.7h.7M466.3 48.7h.7M461.3 58.9h.7M448.1 59.7h.7" stroke="#000" stroke-opacity="0.3" stroke-width="0.7"/>
<path d="M475.3 45.6h.7M472.6 47.2h.7M468.6 46.8h.7M470.8 46.5h.7M471.5 40.2h.7M476.2 42.4h.7M466.9 41.4h.7M476.9 43.6h.7M471.0 43.8h.7M471.2 51.0h.7M464.1 49.8h.7M464.7 45.0h.7M466.0 48.4h.7M472.4 40.1h.7M473.9 41.8h.7M476.6 41.7h.7M472.2 44.6h.7M462.3 49.7h.7M475.1 38.0h.7" stroke="#000" stroke-opacity="0.3" stroke-width="0.7"/>
<path d="M468.4 46.1h.7M459.7 41.9h.7M474.8 40.5h.7M470.7 50.3h.7M469.3 40.0h.7M470.6 41.7h.7M471.0 41.8h.7M472.4 48.7h.7M481.6 42.3h.7M476.7 33.9h.7M473.3 44.2h.7M469.1 48.8h.7M477.8 39.8h.7M475.3 50.6h.7M467.5 44.8h.7M470.5 46.4h.7M459.1 42.8h.7M464.2 46.3h.7M476.2 43.9h.7" stroke="#000" stroke-opacity="0.3" stroke-width="0.7"/>
<path d="M470.2 43.5h.7M473.7 45.7h.7M474.6 42.9h.7M472.5 45.0h.7M473.5 43.7h.7M472.1 42.8h.7M467.2 42.8h.7M463.8 47.9h.7M475.2 45.9h.7M471.4 47.3h.7M464.3 40.0h.7M477.2 48.9h.7M474.8 45.9h.7M470.3 41.9h.7M470.6 48.0h.7M476.6 43.7h.7M470.4 47.6h.7M472.6 39.8h.7M472.0 42.8h.7" stroke="#000" stroke-opacity="0.3" stroke-width="0.7"/>
<path d="M473.4 45.6h.7M469.6 44.3h.7M472.1 45.7h.7M465.3 43.9h.7M463.9 37.8h.7M474.4 42.1h.7M466.0 44.8h.7M468.3 43.5h.7M468.9 46.2h.7M469.0 42.8h.7M475.7 37.7h.7M477.7 49.0h.7M469.7 44.9h.7M473.7 52.2h.7M470.0 38.9h.7M470.0 45.6h.7M476.9 43.2h.7M472.9 43.8h.7M463.5 45.5h.7" stroke="#000" stroke-opacity="0.3" stroke-width="0.7"/>
<path d="M467.0 48.1h.7M474.3 46.2h.7M477.8 46.2h.7M471.8 39.0h.7M474.0 39.9h.7M471.7 47.8h.7M471.3 46.7h.7M475.7 47.2h.7M467.3 40.8h.7M474.4 43.3h.7M480.2 45.8h.7M471.1 40.8h.7M478.8 44.2h.7M470.4 41.0h.7M470.5 51.4h.7M477.4 43.0h.7M468.4 40.0h.7M470.8 45.3h.7" stroke="#000" stroke-opacity="0.3" stroke-width="0.7"/>
<path d="M470.8 44.2h.7M465.5 47.6h.7M476.6 44.2h.7M469.7 42.4h.7M464.9 48.4h.7M468.1 40.9h.7M477.4 44.2h.7M472.1 43.4h.7M473.2 37.3h.7M470.4 40.5h.7M471.2 36.8h.7M474.2 52.4h.7M474.0 42.7h.7M471.6 40.9h.7M465.7 44.0h.7M478.1 45.2h.7M473.5 46.9h.7M466.7 40.7h.7" stroke="#000" stroke-opacity="0.3" stroke-width="0.7"/>
<path d="M467.9 42.7h.7M469.1 45.4h.7M473.5 43.0h.7M471.8 47.8h.7M470.9 42.3h.7M467.6 38.5h.7M478.6 42.9h.7M469.3 45.1h.7M464.3 42.3h.7M470.6 43.5h.7M471.5 48.1h.7M474.0 50.0h.7M471.3 36.4h.7M471.2 40.2h.7M474.9 50.5h.7M469.6 44.1h.7M469.2 48.5h.7M464.6 46.7h.7" stroke="#000" stroke-opacity="0.3" stroke-width="0.7"/>
<path d="M466.5 44.8h.7M472.6 44.0h.7M477.5 45.3h.7M465.1 46.6h.7M471.8 49.6h.7M475.7 45.1h.7M469.5 42.9h.7M474.6 48.4h.7M469.0 45.5h.7M471.8 47.8h.7M473.4 46.2h.7M475.6 46.4h.7M471.1 46.6h.7M466.8 50.9h.7M472.9 50.3h.7M469.3 45.7h.7M475.9 44.2h.7M473.7 41.2h.7" stroke="#000" stroke-opacity="0.3" stroke-width="0.7"/>
<path d="M469.2 43.7h.7M476.9 47.4h.7M470.0 48.7h.7M476.5 48.8h.7M471.5 49.4h.7M475.3 43.1h.7M468.0 48.9h.7M473.0 45.4h.7M464.0 45.9h.7M470.2 36.5h.7M472.7 46.3h.7M467.1 45.3h.7M464.5 43.9h.7M473.5 42.4h.7M470.2 46.0h.7M470.6 41.8h.7M470.4 43.2h.7M467.2 44.6h.7" stroke="#000" stroke-opacity="0.3" stroke-width="0.7"/>
<path d="M477.0 42.7h.7M474.0 51.1h.7M475.4 46.9h.7M471.8 39.7h.7M474.5 44.5h.7M472.1 48.2h.7M463.7 46.0h.7M476.1 43.3h.7M469.4 44.1h.7M466.1 47.3h.7M475.2 51.7h.7M476.7 44.4h.7M463.1 46.9h.7M469.4 50.3h.7M470.5 38.7h.7M472.8 42.5h.7M472.2 37.0h.7M468.0 45.9h.7" stroke="#000" stroke-opacity="0.3" stroke-width="0.7"/>
<path d="M475.9 42.2h.7M470.4 44.7h.7M473.7 46.3h.7M474.6 45.5h.7M475.2 41.1h.7M473.2 49.5h.7M473.2 45.4h.7M471.5 45.6h.7M467.4 41.1h.7M468.3 43.2h.7M468.6 44.0h.7M471.6 41.2h.7M470.5 46.0h.7M469.6 48.0h.7M472.8 37.1h.7M471.5 48.2h.7M464.6 43.9h.7M474.4 40.2h.7" stroke="#000" stroke-opacity="0.3" stroke-width="0.7"/>
<path d="M472.2 39.4h.7M475.9 44.9h.7M473.6 45.1h.7M474.8 47.6h.7M466.6 42.5h.7M471.2 37.8h.7M471.3 47.0h.7M470.8 47.6h.7M482.4 45.7h.7M475.0 52.8h.7M475.3 42.8h.7M466.1 42.1h.7M464.5 45.2h.7M473.5 48.1h.7M479.0 52.5h.7M475.5 44.9h.7M472.9 48.4h.7M472.1 42.7h.7" stroke="#000" stroke-opacity="0.3" stroke-width="0.7"/>
<path d="M462.4 38.3h.7M463.4 36.2h.7M462.3 34.0h.7M444.9 37.2h.7M450.9 36.6h.7M452.8 34.4h.7M442.4 34.7h.7M454.2 36.6h.7M459.2 36.8h.7M443.9 37.8h.7M463.5 39.0h.7M461.8 36.6h.7M457.8 36.3h.7" stroke="#000" stroke-opacity="0.25" stroke-width="0.7"/>
<path d="M452.8 34.3h.7M441.0 40.3h.7M459.0 37.4h.7M461.6 37.2h.7M465.7 38.8h.7M445.8 36.9h.7M469.3 37.6h.7M473.1 33.8h.7M465.0 38.6h.7M456.1 36.7h.7M459.5 37.8h.7M457.0 37.9h.7M459.8 39.5h.7" stroke="#000" stroke-opacity="0.25" stroke-width="0.7"/>
<path d="M452.4 37.2h.7M453.9 35.2h.7M453.8 39.3h.7M451.7 34.9h.7M454.5 37.4h.7M454.7 38.3h.7M462.6 38.1h.7M463.1 40.5h.7M451.8 33.6h.7M453.5 37.1h.7M451.6 36.5h.7M442.2 35.7h.7M440.6 37.3h.7" stroke="#000" stroke-opacity="0.25" stroke-width="0.7"/>
<path d="M449.4 35.3h.7M458.1 35.1h.7M455.7 35.8h.7M471.9 37.0h.7M454.7 37.1h.7M457.5 37.1h.7M454.3 35.8h.7M466.1 35.7h.7M452.5 38.3h.7M469.8 36.3h.7M455.1 38.7h.7M456.2 40.7h.7M451.9 37.7h.7" stroke="#000" stroke-opacity="0.25" stroke-width="0.7"/>
<path d="M457.2 34.4h.7M461.0 38.1h.7M457.2 37.7h.7M454.7 36.9h.7M450.0 38.6h.7M443.3 38.2h.7M462.6 39.9h.7M464.0 37.2h.7M459.6 38.5h.7M445.6 36.6h.7M463.3 36.9h.7M456.8 35.7h.7M466.3 40.6h.7" stroke="#000" stroke-opacity="0.25" stroke-width="0.7"/>
<path d="M461.7 37.4h.7M451.9 37.8h.7M457.8 41.4h.7M450.0 35.6h.7M456.0 37.5h.7M455.2 35.3h.7M459.5 35.4h.7M459.1 36.1h.7M459.4 33.2h.7M445.8 38.4h.7M470.4 38.2h.7M461.8 37.9h.7M454.6 35.7h.7" stroke="#000" stroke-opacity="0.25" stroke-width="0.7"/>
<path d="M460.2 37.8h.7M442.0 38.3h.7M456.4 34.5h.7M475.6 35.2h.7M451.7 35.0h.7M463.3 38.9h.7M443.2 36.9h.7M451.2 39.1h.7M443.5 39.8h.7M457.0 37.4h.7M456.6 37.3h.7M464.5 39.5h.7M472.1 38.7h.7" stroke="#000" stroke-opacity="0.25" stroke-width="0.7"/>
<path d="M465.1 36.6h.7M453.1 35.2h.7M463.9 35.4h.7M450.0 34.4h.7M463.5 37.5h.7M444.7 35.1h.7M451.3 37.9h.7M447.8 34.9h.7M463.0 38.9h.7M462.5 34.8h.7M461.9 35.4h.7M461.2 37.3h.7M457.8 39.1h.7" stroke="#000" stroke-opacity="0.25" stroke-width="0.7"/>
<path d="M460.0 37.7h.7M455.7 36.4h.7M471.0 37.9h.7M451.6 37.5h.7M448.7 37.2h.7M456.5 36.8h.7M453.2 34.7h.7M445.9 34.6h.7M464.5 36.6h.7M447.0 36.4h.7M468.0 33.5h.7M450.7 36.1h.7" stroke="#000" stroke-opacity="0.25" stroke-width="0.7"/>
<path d="M457.4 36.8h.7M456.0 38.3h.7M452.6 36.9h.7M450.5 39.8h.7M463.3 37.7h.7M473.0 38.2h.7M455.0 36.0h.7M458.8 39.7h.7M463.8 35.6h.7M444.6 37.1h.7M448.3 37.0h.7M458.5 37.2h.7" stroke="#000" stroke-opacity="0.25" stroke-width="0.7"/>
<path d="M441.7 38.7h.7M457.5 36.6h.7M456.0 39.1h.7M462.8 35.9h.7M451.2 36.6h.7M474.7 34.4h.7M463.9 38.9h.7M470.5 33.3h.7M460.4 37.0h.7M444.1 34.9h.7M448.4 33.8h.7M448.4 38.3h.7" stroke="#000" stroke-opacity="0.25" stroke-width="0.7"/>
<path d="M468.9 37.5h.7M452.4 36.7h.7M461.2 37.2h.7M445.8 40.3h.7M450.9 36.5h.7M444.0 35.3h.7M457.8 38.8h.7M448.2 38.1h.7M442.5 33.8h.7M445.1 38.8h.7M463.6 32.3h.7M455.6 35.7h.7" stroke="#000" stroke-opacity="0.25" stroke-width="0.7"/>
<line x1="465.40" y1="30.40" x2="465.40" y2="100.70" stroke="#333" stroke-width="0.9"/>
<line x1="438.90" y1="72.85" x2="508.80" y2="72.85" stroke="#333" stroke-width="0.9"/>
<text x="113.60" y="153.70" font-size="10.5" text-anchor="start" font-weight="bold" fill="#111">C</text>
<line x1="146.60" y1="157.00" x2="146.60" y2="235.80" stroke="#181818" stroke-width="1.05"/>
<line x1="146.10" y1="235.30" x2="224.80" y2="235.30" stroke="#181818" stroke-width="1.05"/>
<line x1="146.60" y1="235.30" x2="146.60" y2="237.10" stroke="#181818" stroke-width="1.05"/>
<text x="146.60" y="246.00" font-size="6.0" text-anchor="middle" stroke="#222" stroke-width="0.18">0</text>
<line x1="161.64" y1="235.30" x2="161.64" y2="237.10" stroke="#181818" stroke-width="1.05"/>
<text x="161.64" y="246.00" font-size="6.0" text-anchor="middle" stroke="#222" stroke-width="0.18">20</text>
<line x1="176.68" y1="235.30" x2="176.68" y2="237.10" stroke="#181818" stroke-width="1.05"/>
<text x="176.68" y="246.00" font-size="6.0" text-anchor="middle" stroke="#222" stroke-width="0.18">40</text>
<line x1="191.72" y1="235.30" x2="191.72" y2="237.10" stroke="#181818" stroke-width="1.05"/>
<text x="191.72" y="246.00" font-size="6.0" text-anchor="middle" stroke="#222" stroke-width="0.18">60</text>
<line x1="206.76" y1="235.30" x2="206.76" y2="237.10" stroke="#181818" stroke-width="1.05"/>
<text x="206.76" y="246.00" font-size="6.0" text-anchor="middle" stroke="#222" stroke-width="0.18">80</text>
<line x1="221.80" y1="235.30" x2="221.80" y2="237.10" stroke="#181818" stroke-width="1.05"/>
<text x="221.80" y="246.00" font-size="6.0" text-anchor="middle" stroke="#222" stroke-width="0.18">100</text>
<text x="160.8" y="257.3" font-size="7.1" font-weight="bold" fill="#222" textLength="49" lengthAdjust="spacingAndGlyphs">% of alive A20 cells</text>
<rect x="147.10" y="160.60" width="62.19" height="5.70" fill="#9898a6"/>
<rect x="147.10" y="167.70" width="65.12" height="5.90" fill="#2da5dc"/>
<line x1="144.30" y1="166.95" x2="146.60" y2="166.95" stroke="#181818" stroke-width="1.05"/>
<text x="140.60" y="169.25" font-size="6.7" text-anchor="end" textLength="19.34" lengthAdjust="spacingAndGlyphs" stroke="#222" stroke-width="0.18">Control</text>
<rect x="147.10" y="180.80" width="8.42" height="5.70" fill="#9898a6"/>
<rect x="147.10" y="187.90" width="38.58" height="5.90" fill="#2da5dc"/>
<line x1="144.30" y1="187.15" x2="146.60" y2="187.15" stroke="#181818" stroke-width="1.05"/>
<text x="140.60" y="189.45" font-size="6.7" text-anchor="end" textLength="16.22" lengthAdjust="spacingAndGlyphs" stroke="#222" stroke-width="0.18">CART</text>
<rect x="147.10" y="201.20" width="28.58" height="5.70" fill="#9898a6"/>
<rect x="147.10" y="208.30" width="30.83" height="5.90" fill="#2da5dc"/>
<line x1="144.30" y1="207.55" x2="146.60" y2="207.55" stroke="#181818" stroke-width="1.05"/>
<text x="140.60" y="209.85" font-size="6.7" text-anchor="end" textLength="7.89" lengthAdjust="spacingAndGlyphs" stroke="#222" stroke-width="0.18">RT</text>
<rect x="147.10" y="221.90" width="5.49" height="5.70" fill="#9898a6"/>
<rect x="147.10" y="229.00" width="16.09" height="5.90" fill="#2da5dc"/>
<line x1="144.30" y1="228.25" x2="146.60" y2="228.25" stroke="#181818" stroke-width="1.05"/>
<text x="140.60" y="230.55" font-size="6.7" text-anchor="end" textLength="27.62" lengthAdjust="spacingAndGlyphs" stroke="#222" stroke-width="0.18">RT+CART</text>
<circle cx="208.20" cy="162.00" r="1.2" fill="#111"/>
<circle cx="209.10" cy="163.90" r="1.2" fill="#111"/>
<circle cx="209.60" cy="165.20" r="1.2" fill="#111"/>
<circle cx="210.50" cy="169.10" r="1.2" fill="#111"/>
<circle cx="211.40" cy="170.90" r="1.2" fill="#111"/>
<circle cx="211.90" cy="172.40" r="1.2" fill="#111"/>
<circle cx="156.00" cy="180.90" r="1.2" fill="#111"/>
<circle cx="156.20" cy="183.70" r="1.2" fill="#111"/>
<circle cx="155.90" cy="186.40" r="1.2" fill="#111"/>
<circle cx="182.60" cy="191.10" r="1.2" fill="#111"/>
<circle cx="184.80" cy="191.10" r="1.2" fill="#111"/>
<circle cx="187.00" cy="191.10" r="1.2" fill="#111"/>
<circle cx="173.60" cy="202.50" r="1.2" fill="#111"/>
<circle cx="174.60" cy="204.30" r="1.2" fill="#111"/>
<circle cx="175.00" cy="205.70" r="1.2" fill="#111"/>
<circle cx="176.40" cy="209.50" r="1.2" fill="#111"/>
<circle cx="177.50" cy="211.40" r="1.2" fill="#111"/>
<circle cx="177.90" cy="213.00" r="1.2" fill="#111"/>
<circle cx="151.40" cy="223.00" r="1.2" fill="#111"/>
<circle cx="152.20" cy="224.60" r="1.2" fill="#111"/>
<circle cx="153.00" cy="225.90" r="1.2" fill="#111"/>
<circle cx="161.50" cy="229.60" r="1.2" fill="#111"/>
<circle cx="162.80" cy="231.10" r="1.2" fill="#111"/>
<circle cx="163.70" cy="232.30" r="1.2" fill="#111"/>
<line x1="192.30" y1="180.20" x2="192.30" y2="193.50" stroke="#555" stroke-width="0.8"/>
<text x="198.40" y="189.00" font-size="5.8" text-anchor="middle" stroke="#222" stroke-width="0.18">****</text>
<line x1="168.80" y1="221.00" x2="168.80" y2="233.10" stroke="#555" stroke-width="0.8"/>
<text x="174.10" y="230.20" font-size="5.8" text-anchor="middle" stroke="#222" stroke-width="0.18">***</text>
<rect x="227.90" y="157.70" width="5.40" height="5.30" fill="#9898a6"/>
<rect x="227.90" y="166.90" width="5.40" height="5.40" fill="#2da5dc"/>
<text x="236.10" y="162.30" font-size="6" text-anchor="start" fill="#333" stroke="#333" stroke-width="0.18">CD19+</text>
<text x="236.10" y="171.90" font-size="6" text-anchor="start" fill="#333" stroke="#333" stroke-width="0.18">B220+</text>
<text x="271.80" y="154.80" font-size="10.5" text-anchor="start" font-weight="bold" fill="#111">D</text>
<line x1="325.80" y1="157.00" x2="325.80" y2="236.00" stroke="#181818" stroke-width="1.05"/>
<line x1="325.30" y1="235.50" x2="404.00" y2="235.50" stroke="#181818" stroke-width="1.05"/>
<line x1="325.80" y1="235.50" x2="325.80" y2="237.30" stroke="#181818" stroke-width="1.05"/>
<text x="325.80" y="246.10" font-size="6.0" text-anchor="middle" stroke="#222" stroke-width="0.18">0</text>
<line x1="341.00" y1="235.50" x2="341.00" y2="237.30" stroke="#181818" stroke-width="1.05"/>
<text x="341.00" y="246.10" font-size="6.0" text-anchor="middle" stroke="#222" stroke-width="0.18">20</text>
<line x1="356.20" y1="235.50" x2="356.20" y2="237.30" stroke="#181818" stroke-width="1.05"/>
<text x="356.20" y="246.10" font-size="6.0" text-anchor="middle" stroke="#222" stroke-width="0.18">40</text>
<line x1="371.40" y1="235.50" x2="371.40" y2="237.30" stroke="#181818" stroke-width="1.05"/>
<text x="371.40" y="246.10" font-size="6.0" text-anchor="middle" stroke="#222" stroke-width="0.18">60</text>
<line x1="386.60" y1="235.50" x2="386.60" y2="237.30" stroke="#181818" stroke-width="1.05"/>
<text x="386.60" y="246.10" font-size="6.0" text-anchor="middle" stroke="#222" stroke-width="0.18">80</text>
<line x1="401.80" y1="235.50" x2="401.80" y2="237.30" stroke="#181818" stroke-width="1.05"/>
<text x="401.80" y="246.10" font-size="6.0" text-anchor="middle" stroke="#222" stroke-width="0.18">100</text>
<text x="331.6" y="257.1" font-size="7.1" font-weight="bold" fill="#222" textLength="67" lengthAdjust="spacingAndGlyphs">% of alive B220+ A20 cells</text>
<rect x="326.30" y="160.30" width="64.45" height="8.40" fill="#2a9fdf"/>
<line x1="323.50" y1="164.50" x2="325.80" y2="164.50" stroke="#181818" stroke-width="1.05"/>
<text x="320.40" y="166.80" font-size="6.7" text-anchor="end" textLength="19.34" lengthAdjust="spacingAndGlyphs" stroke="#222" stroke-width="0.18">Control</text>
<rect x="326.30" y="169.60" width="37.54" height="8.40" fill="#2a9fdf"/>
<line x1="323.50" y1="173.80" x2="325.80" y2="173.80" stroke="#181818" stroke-width="1.05"/>
<text x="320.40" y="176.10" font-size="6.7" text-anchor="end" textLength="16.22" lengthAdjust="spacingAndGlyphs" stroke="#222" stroke-width="0.18">CART</text>
<rect x="326.30" y="178.90" width="30.78" height="8.40" fill="#2a9fdf"/>
<line x1="323.50" y1="183.10" x2="325.80" y2="183.10" stroke="#181818" stroke-width="1.05"/>
<text x="320.40" y="185.40" font-size="6.7" text-anchor="end" textLength="7.89" lengthAdjust="spacingAndGlyphs" stroke="#222" stroke-width="0.18">RT</text>
<rect x="326.30" y="188.20" width="15.58" height="8.40" fill="#2a9fdf"/>
<line x1="323.50" y1="192.40" x2="325.80" y2="192.40" stroke="#181818" stroke-width="1.05"/>
<text x="320.40" y="194.70" font-size="6.7" text-anchor="end" textLength="27.62" lengthAdjust="spacingAndGlyphs" stroke="#222" stroke-width="0.18">RT+CART</text>
<rect x="326.30" y="197.50" width="31.69" height="8.40" fill="#fdb813"/>
<line x1="323.50" y1="201.70" x2="325.80" y2="201.70" stroke="#181818" stroke-width="1.05"/>
<text x="320.40" y="204.00" font-size="6.7" text-anchor="end" textLength="17.23" lengthAdjust="spacingAndGlyphs" stroke="#222" stroke-width="0.18">T cells</text>
<rect x="326.30" y="206.80" width="14.82" height="8.40" fill="#fdb813"/>
<line x1="323.50" y1="211.00" x2="325.80" y2="211.00" stroke="#181818" stroke-width="1.05"/>
<text x="320.40" y="213.30" font-size="6.7" text-anchor="end" textLength="36.95" lengthAdjust="spacingAndGlyphs" stroke="#222" stroke-width="0.18">CART+T cells</text>
<rect x="326.30" y="216.10" width="15.96" height="8.40" fill="#fdb813"/>
<line x1="323.50" y1="220.30" x2="325.80" y2="220.30" stroke="#181818" stroke-width="1.05"/>
<text x="320.40" y="222.60" font-size="6.7" text-anchor="end" textLength="28.62" lengthAdjust="spacingAndGlyphs" stroke="#222" stroke-width="0.18">RT+T cells</text>
<rect x="326.30" y="225.40" width="8.74" height="8.40" fill="#fdb813"/>
<line x1="323.50" y1="229.60" x2="325.80" y2="229.60" stroke="#181818" stroke-width="1.05"/>
<text x="320.40" y="231.90" font-size="6.7" text-anchor="end" textLength="49.68" lengthAdjust="spacingAndGlyphs" stroke="#222" stroke-width="0.18">RT+CART+T Cells</text>
<circle cx="389.80" cy="162.30" r="1.2" fill="#111"/>
<circle cx="391.00" cy="164.60" r="1.2" fill="#111"/>
<circle cx="390.60" cy="166.80" r="1.2" fill="#111"/>
<circle cx="363.30" cy="173.60" r="1.2" fill="#111"/>
<circle cx="365.00" cy="173.40" r="1.2" fill="#111"/>
<circle cx="366.70" cy="173.70" r="1.2" fill="#111"/>
<circle cx="355.40" cy="181.90" r="1.2" fill="#111"/>
<circle cx="356.60" cy="183.60" r="1.2" fill="#111"/>
<circle cx="357.30" cy="185.00" r="1.2" fill="#111"/>
<circle cx="340.40" cy="191.20" r="1.2" fill="#111"/>
<circle cx="341.60" cy="192.50" r="1.2" fill="#111"/>
<circle cx="342.90" cy="193.00" r="1.2" fill="#111"/>
<circle cx="355.60" cy="200.60" r="1.2" fill="#111"/>
<circle cx="357.30" cy="201.60" r="1.2" fill="#111"/>
<circle cx="358.60" cy="202.40" r="1.2" fill="#111"/>
<circle cx="340.00" cy="210.00" r="1.2" fill="#111"/>
<circle cx="341.30" cy="211.30" r="1.2" fill="#111"/>
<circle cx="342.30" cy="212.50" r="1.2" fill="#111"/>
<circle cx="342.20" cy="219.00" r="1.2" fill="#111"/>
<circle cx="342.90" cy="220.60" r="1.2" fill="#111"/>
<circle cx="343.10" cy="222.20" r="1.2" fill="#111"/>
<circle cx="333.50" cy="230.50" r="1.2" fill="#111"/>
<circle cx="335.00" cy="228.80" r="1.2" fill="#111"/>
<circle cx="337.20" cy="229.30" r="1.2" fill="#111"/>
<path d="M362.6,192.6 H365.3 V222.5 H362.6" fill="none" stroke="#555" stroke-width="0.8"/>
<text x="368.60" y="214.00" font-size="5.8" text-anchor="middle" stroke="#222" stroke-width="0.18">*</text>
<rect x="0.5" y="0.5" width="519" height="265" fill="none" stroke="#555" stroke-width="1"/>
</svg></body></html>
